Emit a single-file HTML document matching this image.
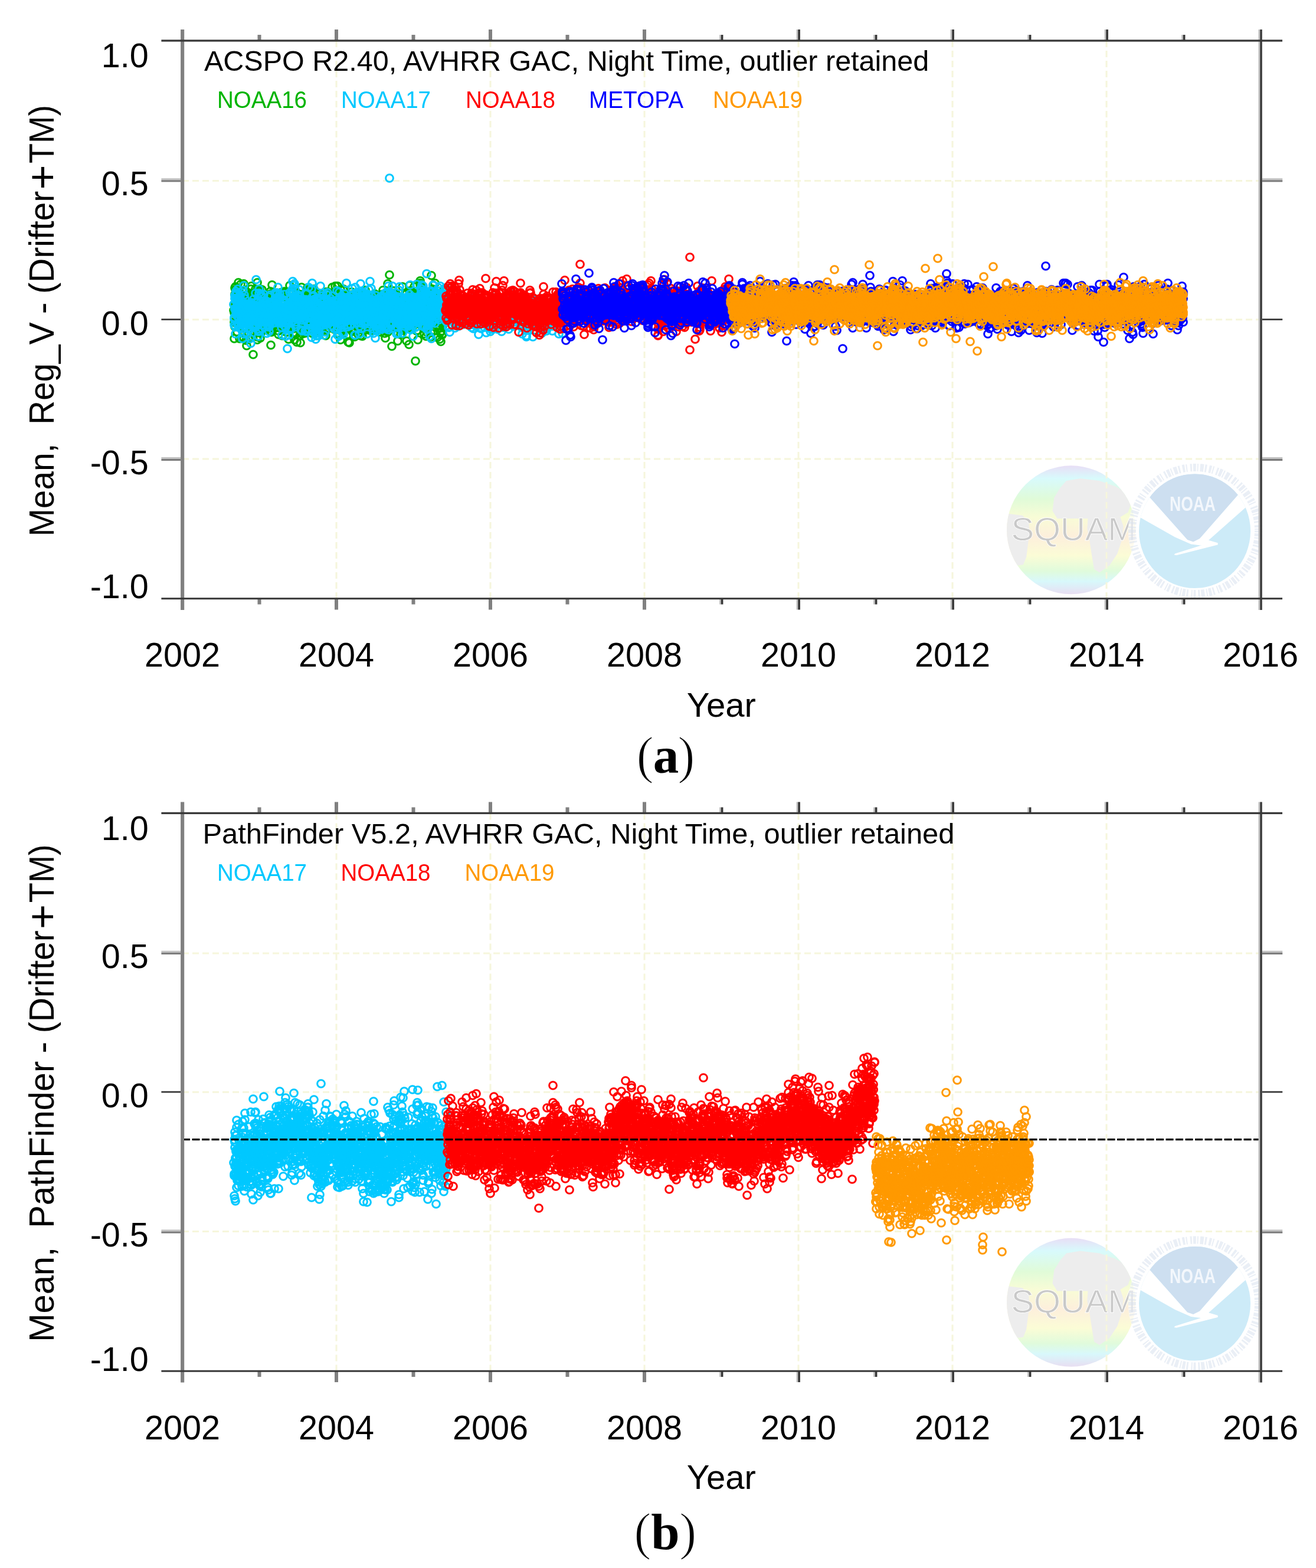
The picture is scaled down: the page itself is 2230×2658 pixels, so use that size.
<!DOCTYPE html><html><head><meta charset="utf-8"><title>SQUAM time series</title><style>html,body{margin:0;padding:0;background:#fff;overflow:hidden}svg{display:block}text{font-family:"Liberation Sans",Arial,Helvetica,sans-serif}</style></head><body>
<svg width="2230" height="2658" viewBox="0 0 2230 2658">
<defs>
<marker id="mgreen" markerUnits="userSpaceOnUse" markerWidth="20" markerHeight="20" refX="10" refY="10" overflow="visible"><circle cx="10" cy="10" r="6.35" fill="none" stroke="#00b400" stroke-width="3.0"/></marker>
<marker id="mcyan" markerUnits="userSpaceOnUse" markerWidth="20" markerHeight="20" refX="10" refY="10" overflow="visible"><circle cx="10" cy="10" r="6.35" fill="none" stroke="#00c8ff" stroke-width="3.0"/></marker>
<marker id="mred" markerUnits="userSpaceOnUse" markerWidth="20" markerHeight="20" refX="10" refY="10" overflow="visible"><circle cx="10" cy="10" r="6.35" fill="none" stroke="#ff0000" stroke-width="3.0"/></marker>
<marker id="mblue" markerUnits="userSpaceOnUse" markerWidth="20" markerHeight="20" refX="10" refY="10" overflow="visible"><circle cx="10" cy="10" r="6.35" fill="none" stroke="#0000ff" stroke-width="3.0"/></marker>
<marker id="morange" markerUnits="userSpaceOnUse" markerWidth="20" markerHeight="20" refX="10" refY="10" overflow="visible"><circle cx="10" cy="10" r="6.35" fill="none" stroke="#ff9900" stroke-width="3.0"/></marker>
<linearGradient id="gsea" x1="0" y1="0" x2="0" y2="1"><stop offset="0" stop-color="#e8def6"/><stop offset="0.1" stop-color="#d8fafc"/><stop offset="0.26" stop-color="#e0fbd8"/><stop offset="0.4" stop-color="#f8fcd6"/><stop offset="0.55" stop-color="#fdefdc"/><stop offset="0.7" stop-color="#fbfcd6"/><stop offset="0.82" stop-color="#e0fbdc"/><stop offset="0.9" stop-color="#d8f8fb"/><stop offset="1" stop-color="#e8def2"/></linearGradient>
</defs>
<rect width="2230" height="2658" fill="#fff"/>
<clipPath id="gcl0"><circle cx="1815" cy="898.3" r="109"/></clipPath>
<circle cx="1815" cy="898.3" r="109" fill="url(#gsea)"/>
<g clip-path="url(#gcl0)" fill="#ededed">
<path d="M1807.0,815.0 L1830.5,811.1 L1863.2,815.0 L1889.3,824.2 L1908.9,834.6 L1916.7,852.9 L1911.5,868.5 L1898.4,876.4 L1843.6,879.0 L1791.4,879.0 L1783.5,865.9 L1786.2,843.7 L1796.6,826.8 Z"/>
<path d="M1843.6,876.4 L1898.4,876.4 L1903.6,892.0 L1901.0,915.5 L1893.2,939.0 L1880.1,958.6 L1863.2,970.4 L1854.0,965.1 L1850.1,941.6 L1846.2,915.5 L1842.3,896.0 Z"/>
<path d="M1700.0,869.8 L1732.6,873.8 L1743.1,884.2 L1744.4,902.5 L1741.8,923.4 L1739.2,944.2 L1733.9,957.3 L1700.0,961.2 Z"/>
</g>
<text x="1713.5" y="915.8" font-size="55" fill="#c9c9c9" stroke="#ffffff" stroke-width="0.8" textLength="212" lengthAdjust="spacingAndGlyphs">SQUAM</text>
<circle cx="2025.5" cy="899.5" r="114" fill="#ffffff" fill-opacity="0.55"/>
<circle cx="2025.5" cy="899.5" r="107" fill="none" stroke="#d9e2ee" stroke-width="13" stroke-dasharray="3 2 5 2 2 3 6 2 3 4 4 2 2 5" opacity="0.55"/>
<circle cx="2025.5" cy="899.5" r="98" fill="none" stroke="#ffffff" stroke-width="3"/>
<clipPath id="ncl0"><ellipse cx="2024.5" cy="900.2" rx="94.5" ry="96.8"/></clipPath>
<ellipse cx="2024.5" cy="900.2" rx="94.5" ry="96.8" fill="#cdebf8"/>
<g clip-path="url(#ncl0)">
<path d="M1900.0,780.0 L2150.0,780.0 L2150.0,836.0 L2098.7,838.0 L2033.0,913.0 L2022.0,918.5 L2012.0,915.0 L1945.4,840.0 L1900.0,838.0 Z" fill="#cddff0"/>
<path d="M1900.0,836.0 L1945.4,840.0 L2012.0,915.0 L2022.0,918.5 L2033.0,913.0 L2098.7,838.0 L2150.0,830.0 L2150.0,851.0 L2118.9,853.0 L2048.0,915.7 L2063.4,920.3 L2063.4,923.6 L2035.0,924.5 L2018.3,922.5 L1991.0,910.5 L1930.9,876.6 L1900.0,874.0 Z" fill="#ffffff"/>
<path d="M2063.4,920.3 L2063.4,923.6 L1993.5,941.3 L1989.6,940.5 L1991.0,938.6 L2040.0,923.0 Z" fill="#ffffff"/>
</g>
<text x="2021" y="865.8" font-size="35" font-weight="bold" fill="#f3f7fc" text-anchor="middle" textLength="78" lengthAdjust="spacingAndGlyphs">NOAA</text>
<line x1="570.0" y1="69" x2="570.0" y2="1014.5" stroke="#f6f6dc" stroke-width="3" stroke-dasharray="11 6" fill="none"/>
<line x1="831.0" y1="69" x2="831.0" y2="1014.5" stroke="#f6f6dc" stroke-width="3" stroke-dasharray="11 6" fill="none"/>
<line x1="1092.0" y1="69" x2="1092.0" y2="1014.5" stroke="#f6f6dc" stroke-width="3" stroke-dasharray="11 6" fill="none"/>
<line x1="1353.0" y1="69" x2="1353.0" y2="1014.5" stroke="#f6f6dc" stroke-width="3" stroke-dasharray="11 6" fill="none"/>
<line x1="1614.0" y1="69" x2="1614.0" y2="1014.5" stroke="#f6f6dc" stroke-width="3" stroke-dasharray="11 6" fill="none"/>
<line x1="1875.0" y1="69" x2="1875.0" y2="1014.5" stroke="#f6f6dc" stroke-width="3" stroke-dasharray="11 6" fill="none"/>
<line x1="309" y1="306.6" x2="2136" y2="306.6" stroke="#f6f6dc" stroke-width="3" stroke-dasharray="11 6" fill="none"/>
<line x1="309" y1="541.8" x2="2136" y2="541.8" stroke="#f6f6dc" stroke-width="3" stroke-dasharray="11 6" fill="none"/>
<line x1="309" y1="778.1" x2="2136" y2="778.1" stroke="#f6f6dc" stroke-width="3" stroke-dasharray="11 6" fill="none"/>
<polyline fill="none" stroke="none" marker-start="url(#mgreen)" marker-mid="url(#mgreen)" marker-end="url(#mgreen)" points="396,526 397,574 397,530 397,546 398,554 398,540 398,499 398,488 399,526 399,491 399,516 399,486 400,524 400,513 400,548 400,509 401,516 401,504 401,497 402,537 402,522 402,563 402,544 403,550 403,515 403,517 403,519 404,519 404,479 404,500 404,533 405,494 405,497 405,512 406,574 406,544 406,516 406,531 407,553 407,519 407,540 407,513 408,509 408,482 408,532 408,501 409,545 409,510 409,517 410,515 410,517 410,527 410,506 411,503 411,493 411,511 411,514 412,543 412,555 412,520 413,481 413,528 413,539 413,573 414,510 414,544 414,538 414,521 415,558 415,492 415,504 415,510 416,528 416,546 416,530 417,507 417,577 417,542 417,506 418,521 418,540 418,540 418,586 419,532 419,517 419,504 419,547 420,549 420,509 420,523 421,548 421,575 421,498 421,501 422,543 422,528 422,532 422,527 423,498 423,525 423,539 423,530 424,532 424,521 424,533 425,542 425,490 425,514 425,510 426,485 426,529 426,527 426,518 427,539 427,503 427,503 428,509 428,561 428,533 428,536 429,502 429,536 429,511 429,517 430,516 430,499 430,566 430,522 431,531 431,531 431,502 432,540 432,543 432,504 432,564 433,502 433,551 433,490 433,539 434,508 434,519 434,526 434,514 435,528 435,504 435,514 436,563 436,576 436,479 436,571 437,525 437,538 437,544 437,551 438,495 438,523 438,559 439,518 439,523 439,493 439,529 440,562 440,495 440,490 440,492 441,518 441,573 441,559 441,546 442,532 442,547 442,528 443,563 443,544 443,551 443,537 444,559 444,491 444,555 444,548 445,529 445,550 445,515 445,512 446,508 446,544 446,543 447,535 447,535 447,530 447,527 448,529 448,544 448,509 448,508 449,517 449,524 449,522 449,503 450,543 450,555 450,535 451,532 451,535 451,536 451,540 452,527 452,550 452,556 452,537 453,522 453,529 453,550 454,525 454,534 454,513 454,538 455,531 455,515 455,528 455,528 456,530 456,545 456,515 456,557 457,541 457,552 457,526 458,494 458,562 458,525 458,536 459,498 459,585 459,554 459,520 460,527 460,519 460,563 460,532 461,538 461,483 461,515 462,516 462,536 462,499 462,527 463,519 463,543 463,505 463,505 464,546 464,543 464,523 464,537 465,551 465,536 465,525 466,541 466,548 466,533 466,543 467,544 467,524 467,505 467,506 468,528 468,542 468,538 469,527 469,517 469,534 469,527 470,520 470,547 470,529 470,528 471,514 471,525 471,542 471,555 472,549 472,567 472,561 473,545 473,538 473,518 473,536 474,535 474,527 474,546 474,553 475,544 475,548 475,497 475,499 476,531 476,521 476,496 477,497 477,503 477,501 477,500 478,551 478,569 478,548 478,522 479,554 479,543 479,530 480,527 480,551 480,535 480,510 481,510 481,526 481,532 481,496 482,494 482,549 482,538 482,542 483,522 483,530 483,538 484,497 484,523 484,546 484,527 485,525 485,495 485,563 485,527 486,520 486,502 486,527 486,506 487,504 487,552 487,532 488,532 488,522 488,555 488,525 489,534 489,523 489,575 489,525 490,524 490,554 490,536 490,517 491,484 491,540 491,528 492,544 492,519 492,556 492,544 493,536 493,529 493,536 493,536 494,540 494,506 494,521 495,552 495,517 495,516 495,499 496,493 496,525 496,498 496,515 497,518 497,538 497,528 497,533 498,566 498,535 498,557 499,521 499,576 499,530 499,564 500,551 500,536 500,519 500,546 501,528 501,567 501,524 501,508 502,520 502,495 502,503 503,498 503,522 503,525 503,580 504,552 504,548 504,513 504,542 505,554 505,536 505,551 505,555 506,556 506,517 506,509 507,540 507,525 507,514 507,536 508,519 508,555 508,569 508,543 509,581 509,528 509,554 510,526 510,511 510,550 510,521 511,487 511,541 511,533 511,544 512,566 512,562 512,519 512,529 513,543 513,503 513,544 514,532 514,515 514,542 514,551 515,540 515,555 515,533 515,524 516,537 516,565 516,531 516,548 517,530 517,519 517,497 518,500 518,548 518,522 518,533 519,518 519,494 519,521 519,527 520,539 520,543 520,529 521,511 521,488 521,508 521,526 522,522 522,509 522,495 522,491 523,550 523,558 523,509 523,508 524,498 524,492 524,533 525,502 525,541 525,500 525,530 526,533 526,554 526,498 526,512 527,519 527,553 527,541 527,504 528,529 528,520 528,521 529,533 529,503 529,565 529,495 530,493 530,514 530,510 530,527 531,492 531,536 531,539 531,509 532,528 532,524 532,490 533,564 533,512 533,547 533,521 534,517 534,522 534,555 534,525 535,516 535,496 535,531 536,561 536,551 536,558 536,513 537,520 537,569 537,546 537,503 538,549 538,526 538,543 538,534 539,547 539,561 539,550 540,520 540,497 540,527 540,512 541,510 541,542 541,543 541,511 542,517 542,503 542,563 542,536 543,537 543,515 543,536 544,531 544,507 544,515 544,539 545,509 545,521 545,501 545,551 546,537 546,550 546,561 546,555 547,529 547,516 547,544 548,539 548,508 548,537 548,544 549,520 549,545 549,524 549,539 550,528 550,533 550,538 551,528 551,495 551,513 551,526 552,504 552,569 552,528 552,544 553,551 553,542 553,531 553,560 554,524 554,556 554,518 555,518 555,495 555,522 555,533 556,535 556,511 556,510 556,546 557,552 557,507 557,512 557,545 558,496 558,508 558,520 559,521 559,504 559,517 559,520 560,504 560,542 560,519 560,519 561,500 561,515 561,509 562,505 562,499 562,542 562,531 563,529 563,487 563,507 563,519 564,518 564,531 564,504 564,533 565,514 565,524 565,551 566,514 566,531 566,542 566,558 567,519 567,519 567,547 567,497 568,515 568,509 568,499 568,485 569,543 569,555 569,501 570,528 570,519 570,515 570,498 571,539 571,533 571,559 571,518 572,521 572,514 572,485 572,541 573,557 573,554 573,525 574,567 574,556 574,527 574,555 575,545 575,547 575,519 575,547 576,520 576,548 576,532 577,544 577,514 577,576 577,491 578,527 578,555 578,543 578,534 579,523 579,538 579,504 579,528 580,542 580,532 580,513 581,556 581,541 581,508 581,526 582,531 582,490 582,492 582,550 583,558 583,519 583,511 583,532 584,515 584,536 584,510 585,555 585,530 585,519 585,531 586,530 586,531 586,517 586,549 587,513 587,569 587,508 587,522 588,512 588,502 588,519 589,500 589,516 589,530 589,508 590,505 590,567 590,532 590,580 591,536 591,536 591,541 592,509 592,504 592,514 592,581 593,500 593,543 593,504 593,531 594,538 594,537 594,500 594,538 595,552 595,515 595,550 596,514 596,552 596,514 596,495 597,508 597,543 597,562 597,540 598,561 598,500 598,506 598,561 599,535 599,519 599,514 600,556 600,534 600,557 600,542 601,520 601,571 601,536 601,521 602,569 602,547 602,505 603,538 603,517 603,522 603,512 604,514 604,530 604,545 604,518 605,550 605,545 605,539 605,536 606,555 606,539 606,515 607,565 607,567 607,538 607,534 608,525 608,530 608,544 608,501 609,528 609,539 609,523 609,526 610,535 610,525 610,538 611,540 611,510 611,569 611,546 612,550 612,525 612,557 612,534 613,527 613,516 613,512 613,530 614,549 614,545 614,570 615,517 615,557 615,547 615,549 616,499 616,546 616,542 616,502 617,519 617,543 617,510 618,532 618,511 618,500 618,543 619,549 619,542 619,519 619,492 620,516 620,513 620,536 620,519 621,516 621,559 621,531 622,531 622,518 622,506 622,524 623,507 623,512 623,512 623,536 624,536 624,533 624,540 624,524 625,543 625,517 625,533 626,558 626,511 626,507 626,514 627,551 627,560 627,542 627,549 628,516 628,546 628,545 628,523 629,540 629,560 629,532 630,541 630,528 630,529 630,531 631,549 631,546 631,526 631,553 632,502 632,526 632,518 633,540 633,532 633,531 633,549 634,543 634,502 634,542 634,517 635,498 635,521 635,512 635,529 636,530 636,501 636,527 637,558 637,544 637,531 637,514 638,540 638,501 638,560 638,537 639,522 639,528 639,537 639,505 640,547 640,551 640,525 641,544 641,511 641,510 641,516 642,503 642,536 642,509 642,524 643,540 643,550 643,510 644,559 644,510 644,521 644,506 645,541 645,563 645,528 645,528 646,522 646,533 646,537 646,533 647,522 647,553 647,533 648,528 648,499 648,539 648,546 649,492 649,517 649,507 649,538 650,555 650,529 650,518 650,517 651,513 651,552 651,532 652,565 652,552 652,540 652,538 653,513 653,523 653,513 653,573 654,538 654,561 654,525 654,551 655,538 655,527 655,542 656,555 656,544 656,554 656,543 657,538 657,514 657,563 657,481 658,536 658,530 658,546 659,533 659,533 659,539 659,506 660,526 660,516 660,532 660,466 661,533 661,508 661,505 661,548 662,541 662,547 662,522 663,524 663,513 663,549 663,535 664,544 664,529 664,587 664,497 665,542 665,512 665,549 665,527 666,544 666,540 666,503 667,493 667,547 667,532 667,554 668,499 668,510 668,508 668,543 669,516 669,527 669,532 669,519 670,511 670,504 670,515 671,498 671,520 671,527 671,518 672,527 672,529 672,506 672,512 673,528 673,538 673,525 674,520 674,540 674,556 674,578 675,506 675,542 675,544 675,520 676,507 676,557 676,512 676,520 677,523 677,548 677,543 678,533 678,539 678,545 678,521 679,528 679,546 679,567 679,542 680,535 680,556 680,546 680,551 681,526 681,560 681,511 682,534 682,521 682,486 682,523 683,557 683,514 683,534 683,560 684,557 684,538 684,542 684,510 685,553 685,527 685,530 686,553 686,531 686,544 686,537 687,536 687,522 687,528 687,497 688,541 688,556 688,525 689,578 689,512 689,498 689,511 690,525 690,540 690,523 690,551 691,529 691,533 691,522 691,551 692,520 692,537 692,549 693,543 693,523 693,517 693,584 694,537 694,494 694,484 694,513 695,528 695,538 695,493 695,528 696,515 696,556 696,540 697,493 697,504 697,515 697,552 698,512 698,513 698,507 698,553 699,554 699,525 699,524 700,526 700,533 700,543 700,524 701,548 701,534 701,515 701,545 702,534 702,486 702,549 702,541 703,531 703,511 703,522 704,510 704,548 704,545 704,542 705,531 705,529 705,517 705,544 706,527 706,513 706,561 706,523 707,531 707,544 707,545 708,576 708,560 708,530 708,539 709,504 709,540 709,538 709,507 710,533 710,514 710,540 710,544 711,496 711,504 711,548 712,538 712,483 712,476 712,480 713,523 713,521 713,508 713,496 714,521 714,527 714,524 715,521 715,509 715,486 715,501 716,521 716,512 716,523 716,510 717,537 717,496 717,509 717,527 718,521 718,517 718,517 719,520 719,526 719,514 719,566 720,519 720,539 720,534 720,517 721,531 721,555 721,499 721,514 722,570 722,536 722,525 723,522 723,563 723,523 723,534 724,502 724,545 724,526 724,517 725,539 725,504 725,529 725,525 726,515 726,545 726,525 727,549 727,555 727,536 727,537 728,526 728,512 728,525 728,538 729,517 729,541 729,527 730,502 730,530 730,564 730,571 731,505 731,509 731,467 731,514 732,529 732,521 732,550 732,507 733,490 733,501 733,528 734,525 734,504 734,528 734,507 735,536 735,495 735,501 735,494 736,508 736,544 736,515 736,518 737,523 737,518 737,480 738,513 738,496 738,507 738,527 739,515 739,532 739,507 739,539 740,547 740,529 740,524 741,541 741,541 741,572 741,532 742,541 742,523 742,537 742,529 743,531 743,557 743,546 743,524 744,539 744,505 744,539 745,546 745,556 745,575 745,552 746,544 746,564 746,502 746,518 747,579 747,547 747,511 747,510 748,520 748,527 748,513 749,525 749,568 749,542 749,561 750,535 750,510 750,553 750,566 751,523 751,528 751,539 751,530 752,503 752,523 752,491 753,540 753,513 753,543 753,511 754,505 754,533 754,520 754,523 755,494 755,524 755,535 704,612 429,601"/>
<polyline fill="none" stroke="none" marker-start="url(#mcyan)" marker-mid="url(#mcyan)" marker-end="url(#mcyan)" points="396,516 397,551 397,538 397,541 398,523 398,506 398,501 398,524 399,554 399,566 399,509 399,525 400,530 400,507 400,510 400,494 401,497 401,499 401,522 402,531 402,536 402,524 402,520 403,551 403,519 403,508 403,490 404,528 404,530 404,537 404,505 405,551 405,504 405,539 406,520 406,501 406,524 406,518 407,535 407,555 407,502 407,529 408,523 408,532 408,523 408,527 409,518 409,544 409,539 410,524 410,535 410,531 410,543 411,530 411,543 411,574 411,557 412,534 412,492 412,548 413,566 413,515 413,484 413,536 414,531 414,528 414,500 414,553 415,506 415,521 415,529 415,530 416,519 416,515 416,553 417,533 417,515 417,549 417,516 418,517 418,527 418,548 418,544 419,533 419,516 419,567 419,531 420,518 420,527 420,528 421,528 421,524 421,532 421,540 422,532 422,523 422,559 422,537 423,545 423,558 423,515 423,539 424,574 424,514 424,525 425,582 425,528 425,528 425,532 426,517 426,542 426,513 426,543 427,522 427,525 427,514 428,524 428,541 428,521 428,535 429,527 429,552 429,518 429,555 430,549 430,537 430,507 430,524 431,530 431,523 431,540 432,530 432,519 432,532 432,553 433,497 433,522 433,555 433,542 434,474 434,512 434,539 434,550 435,546 435,531 435,513 436,510 436,521 436,519 436,519 437,525 437,512 437,530 437,519 438,570 438,562 438,522 439,532 439,549 439,497 439,490 440,525 440,528 440,546 440,561 441,533 441,537 441,525 441,529 442,534 442,526 442,499 443,539 443,524 443,503 443,525 444,536 444,540 444,557 444,551 445,519 445,542 445,511 445,517 446,527 446,516 446,537 447,499 447,537 447,517 447,533 448,535 448,546 448,528 448,546 449,512 449,525 449,517 449,532 450,527 450,530 450,540 451,527 451,546 451,538 451,513 452,547 452,565 452,527 452,511 453,550 453,538 453,535 454,521 454,554 454,538 454,537 455,503 455,530 455,537 455,543 456,551 456,562 456,554 456,543 457,538 457,547 457,522 458,536 458,534 458,500 458,540 459,527 459,513 459,545 459,541 460,530 460,531 460,530 460,535 461,524 461,538 461,543 462,530 462,520 462,548 462,531 463,538 463,543 463,541 463,531 464,528 464,525 464,536 464,524 465,521 465,524 465,543 466,507 466,507 466,519 466,497 467,530 467,512 467,532 467,547 468,515 468,523 468,521 469,499 469,496 469,516 469,512 470,506 470,519 470,541 470,521 471,529 471,487 471,538 471,514 472,506 472,535 472,503 473,506 473,503 473,503 473,519 474,537 474,498 474,506 474,545 475,548 475,539 475,534 475,542 476,545 476,544 476,529 477,525 477,546 477,526 477,555 478,568 478,536 478,543 478,548 479,540 479,517 479,510 480,535 480,535 480,508 480,526 481,539 481,541 481,542 481,535 482,538 482,552 482,514 482,499 483,534 483,547 483,522 484,570 484,555 484,544 484,522 485,519 485,530 485,518 485,547 486,543 486,533 486,519 486,533 487,517 487,591 487,536 488,528 488,549 488,520 488,537 489,543 489,521 489,539 489,521 490,568 490,534 490,520 490,559 491,496 491,531 491,506 492,534 492,533 492,517 492,524 493,558 493,512 493,540 493,505 494,511 494,520 494,514 495,532 495,496 495,516 495,491 496,477 496,540 496,544 496,532 497,537 497,507 497,537 497,498 498,524 498,484 498,514 499,513 499,481 499,503 499,508 500,503 500,534 500,550 500,490 501,533 501,525 501,546 501,514 502,554 502,522 502,512 503,508 503,505 503,529 503,513 504,534 504,507 504,500 504,519 505,500 505,517 505,530 505,523 506,529 506,537 506,539 507,491 507,536 507,530 507,509 508,539 508,531 508,517 508,534 509,527 509,536 509,532 510,540 510,559 510,510 510,528 511,530 511,538 511,530 511,529 512,561 512,512 512,528 512,543 513,533 513,531 513,518 514,531 514,509 514,530 514,509 515,527 515,528 515,514 515,518 516,524 516,522 516,535 516,541 517,508 517,523 517,561 518,523 518,534 518,515 518,529 519,508 519,519 519,562 519,497 520,517 520,518 520,498 521,537 521,526 521,545 521,509 522,516 522,522 522,551 522,557 523,515 523,487 523,515 523,520 524,523 524,551 524,508 525,535 525,536 525,529 525,539 526,550 526,538 526,530 526,547 527,538 527,509 527,517 527,537 528,535 528,490 528,572 529,480 529,509 529,526 529,529 530,532 530,531 530,524 530,503 531,509 531,526 531,501 531,529 532,509 532,527 532,509 533,551 533,540 533,507 533,536 534,519 534,521 534,521 534,566 535,556 535,575 535,537 536,569 536,524 536,560 536,553 537,531 537,506 537,524 537,538 538,505 538,535 538,541 538,547 539,537 539,515 539,544 540,528 540,553 540,532 540,569 541,534 541,522 541,564 541,545 542,552 542,534 542,521 542,541 543,553 543,485 543,535 544,531 544,526 544,506 544,540 545,524 545,527 545,513 545,540 546,535 546,546 546,512 546,528 547,501 547,546 547,497 548,551 548,536 548,517 548,545 549,525 549,509 549,568 549,548 550,509 550,529 550,525 551,521 551,563 551,521 551,525 552,549 552,523 552,516 552,538 553,539 553,523 553,519 553,499 554,546 554,548 554,539 555,509 555,516 555,496 555,549 556,542 556,532 556,511 556,548 557,530 557,530 557,531 557,531 558,517 558,515 558,539 559,515 559,516 559,526 559,546 560,514 560,539 560,540 560,506 561,511 561,524 561,522 562,510 562,522 562,513 562,543 563,552 563,525 563,528 563,543 564,515 564,540 564,516 564,502 565,538 565,530 565,533 566,557 566,528 566,537 566,534 567,546 567,545 567,522 567,545 568,575 568,530 568,529 568,525 569,545 569,546 569,531 570,527 570,539 570,521 570,513 571,493 571,525 571,516 571,558 572,542 572,553 572,558 572,568 573,508 573,508 573,530 574,544 574,539 574,519 574,570 575,549 575,533 575,544 575,495 576,533 576,518 576,524 577,548 577,543 577,549 577,515 578,523 578,525 578,529 578,548 579,542 579,551 579,506 579,502 580,510 580,538 580,564 581,504 581,523 581,528 581,528 582,506 582,526 582,520 582,567 583,521 583,537 583,516 583,510 584,498 584,530 584,517 585,508 585,529 585,515 585,531 586,545 586,507 586,536 586,532 587,521 587,531 587,539 587,480 588,508 588,533 588,516 589,554 589,551 589,504 589,508 590,523 590,527 590,515 590,524 591,504 591,507 591,538 592,513 592,527 592,530 592,538 593,522 593,537 593,525 593,522 594,550 594,552 594,511 594,534 595,516 595,530 595,514 596,529 596,523 596,524 596,510 597,501 597,489 597,543 597,500 598,539 598,525 598,527 598,510 599,506 599,529 599,510 600,527 600,522 600,542 600,533 601,536 601,568 601,525 601,516 602,568 602,531 602,487 603,506 603,536 603,508 603,517 604,496 604,529 604,547 604,520 605,524 605,542 605,536 605,511 606,516 606,509 606,495 607,524 607,537 607,540 607,512 608,506 608,522 608,520 608,538 609,566 609,553 609,523 609,519 610,538 610,518 610,497 611,508 611,515 611,481 611,534 612,520 612,506 612,557 612,548 613,530 613,497 613,519 613,532 614,522 614,535 614,529 615,535 615,495 615,517 615,514 616,504 616,532 616,533 616,517 617,513 617,529 617,519 618,526 618,550 618,539 618,521 619,501 619,535 619,538 619,507 620,522 620,500 620,534 620,510 621,522 621,547 621,518 622,523 622,526 622,504 622,566 623,545 623,517 623,535 623,521 624,532 624,499 624,537 624,507 625,506 625,514 625,491 626,527 626,530 626,520 626,541 627,477 627,525 627,524 627,539 628,550 628,507 628,520 628,524 629,489 629,517 629,507 630,547 630,502 630,538 630,531 631,526 631,547 631,536 631,524 632,545 632,516 632,511 633,558 633,532 633,565 633,536 634,536 634,509 634,525 634,519 635,512 635,526 635,533 635,512 636,573 636,552 636,543 637,501 637,526 637,549 637,553 638,558 638,531 638,548 638,537 639,541 639,537 639,561 639,522 640,546 640,511 640,528 641,507 641,523 641,540 641,546 642,554 642,535 642,520 642,509 643,514 643,512 643,547 644,542 644,531 644,530 644,520 645,520 645,520 645,527 645,503 646,510 646,539 646,557 646,506 647,558 647,514 647,558 648,517 648,535 648,524 648,510 649,533 649,503 649,527 649,542 650,550 650,538 650,505 650,532 651,518 651,498 651,555 652,539 652,534 652,525 652,517 653,553 653,524 653,548 653,529 654,556 654,548 654,508 654,526 655,518 655,536 655,495 656,530 656,540 656,523 656,497 657,541 657,532 657,556 657,532 658,512 658,559 658,485 659,500 659,539 659,529 659,515 660,521 660,514 660,530 660,547 661,515 661,512 661,522 661,522 662,500 662,519 662,535 663,505 663,500 663,505 663,552 664,549 664,508 664,536 664,499 665,521 665,485 665,524 665,528 666,529 666,525 666,529 667,516 667,519 667,522 667,507 668,507 668,501 668,514 668,516 669,538 669,529 669,527 669,537 670,532 670,514 670,538 671,541 671,538 671,546 671,553 672,566 672,541 672,509 672,530 673,555 673,503 673,542 674,541 674,535 674,516 674,543 675,504 675,514 675,565 675,537 676,521 676,492 676,516 676,538 677,550 677,550 677,486 678,542 678,513 678,517 678,505 679,530 679,523 679,540 679,548 680,532 680,540 680,503 680,516 681,550 681,523 681,506 682,537 682,565 682,531 682,533 683,536 683,520 683,532 683,532 684,545 684,524 684,508 684,511 685,507 685,531 685,534 686,548 686,512 686,541 686,520 687,547 687,519 687,540 687,539 688,537 688,543 688,537 689,540 689,508 689,531 689,532 690,533 690,520 690,549 690,523 691,535 691,503 691,534 691,538 692,553 692,520 692,544 693,550 693,558 693,551 693,524 694,540 694,504 694,499 694,532 695,534 695,508 695,483 695,510 696,505 696,559 696,543 697,523 697,532 697,530 697,520 698,532 698,515 698,503 698,519 699,529 699,544 699,539 700,524 700,534 700,505 700,570 701,546 701,508 701,550 701,546 702,534 702,525 702,530 702,535 703,508 703,504 703,506 704,555 704,525 704,536 704,542 705,517 705,540 705,532 705,507 706,517 706,533 706,508 706,482 707,534 707,534 707,553 708,526 708,514 708,547 708,519 709,533 709,538 709,509 709,545 710,504 710,524 710,539 710,539 711,539 711,529 711,518 712,523 712,511 712,539 712,509 713,519 713,498 713,508 713,489 714,525 714,493 714,521 715,497 715,507 715,544 715,483 716,502 716,533 716,531 716,553 717,485 717,524 717,510 717,536 718,511 718,499 718,500 719,518 719,529 719,518 719,529 720,544 720,555 720,520 720,499 721,518 721,515 721,520 721,545 722,498 722,535 722,494 723,539 723,558 723,464 723,546 724,502 724,530 724,539 724,520 725,514 725,546 725,527 725,552 726,537 726,550 726,557 727,542 727,534 727,547 727,538 728,543 728,548 728,570 728,542 729,500 729,512 729,494 730,540 730,516 730,535 730,518 731,535 731,506 731,503 731,574 732,494 732,495 732,547 732,522 733,543 733,527 733,509 734,524 734,525 734,483 734,484 735,533 735,534 735,506 735,506 736,510 736,498 736,522 736,541 737,548 737,513 737,522 738,536 738,521 738,511 738,511 739,537 739,537 739,515 739,518 740,499 740,523 740,526 741,514 741,520 741,499 741,524 742,509 742,509 742,539 742,510 743,521 743,523 743,488 743,519 744,518 744,542 744,499 745,521 745,528 745,506 745,493 746,520 746,485 746,513 746,526 747,507 747,535 747,505 747,518 748,533 748,528 748,531 749,508 749,531 749,506 749,510 750,517 750,499 750,524 750,504 751,526 751,513 751,532 751,522 752,516 752,518 752,540 753,527 753,507 753,521 753,502 754,532 754,507 754,493 754,498 755,488 755,521 755,535 755,528 756,527 756,545 757,544 757,546 757,534 758,534 758,528 759,538 759,545 760,542 760,555 760,532 761,555 761,554 762,539 762,563 763,534 763,522 763,531 764,531 764,534 765,540 765,538 766,551 766,532 766,528 767,515 767,544 768,532 768,528 769,539 769,539 769,538 770,538 770,514 771,556 771,549 772,551 772,530 772,525 773,546 773,522 774,547 774,517 775,534 775,522 775,549 776,521 776,529 777,538 777,553 778,523 778,526 778,539 779,521 779,521 780,522 780,546 781,524 781,529 781,541 782,531 782,537 783,517 783,533 784,527 784,520 784,509 785,525 785,550 786,512 786,527 787,515 787,528 787,534 788,549 788,529 789,519 789,536 790,537 790,539 790,530 791,526 791,519 792,534 792,527 793,545 793,521 793,533 794,551 794,543 795,533 795,517 796,531 796,513 796,528 797,544 797,543 798,514 798,547 799,547 799,550 799,555 800,527 800,525 801,550 801,516 802,523 802,541 802,557 803,543 803,541 804,526 804,538 805,519 805,501 805,542 806,540 806,517 807,507 807,553 808,535 808,547 808,523 809,525 809,539 810,526 810,516 811,567 811,551 811,540 812,532 812,526 813,527 813,507 814,528 814,539 814,540 815,557 815,534 816,523 816,545 817,519 817,547 817,523 818,536 818,513 819,528 819,530 820,536 820,549 820,543 821,547 821,555 822,517 822,520 823,527 823,524 823,547 824,564 824,523 825,523 825,521 826,519 826,522 826,542 827,523 827,523 828,511 828,524 829,530 829,531 829,546 830,540 830,525 831,562 831,548 832,527 832,547 832,558 833,530 833,531 834,533 834,535 835,558 835,504 835,548 836,546 836,529 837,526 837,532 838,531 838,522 838,527 839,540 839,529 840,527 840,528 841,534 841,548 841,528 842,526 842,532 843,558 843,534 844,518 844,532 844,544 845,532 845,540 846,540 846,524 847,526 847,538 847,507 848,516 848,551 849,531 849,532 850,562 850,544 850,516 851,531 851,527 852,529 852,532 853,539 853,549 853,555 854,545 854,524 855,524 855,517 856,535 856,546 856,518 857,520 857,526 858,527 858,538 859,510 859,553 859,536 860,521 860,528 861,510 861,525 862,540 862,541 862,558 863,514 863,530 864,523 864,547 865,543 865,524 865,539 866,533 866,515 867,528 867,528 868,529 868,536 868,521 869,527 869,499 870,508 870,553 871,537 871,543 872,515 872,533 872,546 873,535 873,517 874,519 874,526 875,523 875,540 875,528 876,524 876,535 877,522 877,538 878,512 878,532 878,537 879,541 879,531 880,521 880,524 881,538 881,527 881,543 882,528 882,524 883,531 883,544 884,555 884,536 884,543 885,566 885,554 886,546 886,539 887,541 887,522 887,553 888,519 888,544 889,533 889,544 890,536 890,558 890,522 891,546 891,541 892,569 892,571 893,549 893,531 893,537 894,546 894,560 895,524 895,546 896,526 896,527 896,519 897,554 897,554 898,542 898,544 899,524 899,529 899,523 900,527 900,523 901,518 901,523 902,530 902,509 902,530 903,571 903,550 904,519 904,529 905,533 905,544 905,525 906,518 906,527 907,543 907,531 908,529 908,544 908,547 909,545 909,508 910,514 910,533 911,533 911,521 911,520 912,524 912,547 913,544 913,532 914,522 914,524 914,532 915,541 915,511 916,542 916,531 917,529 917,527 917,514 918,555 918,565 919,523 919,517 920,520 920,521 920,531 921,534 921,508 922,543 922,519 923,535 923,530 923,545 924,537 924,543 925,558 925,551 926,561 926,528 926,554 927,543 927,533 928,529 928,543 929,524 929,534 929,531 930,548 930,523 931,532 931,539 932,513 932,537 932,545 933,533 933,536 934,550 934,524 935,529 935,539 935,524 936,553 936,561 937,540 937,524 938,519 938,544 938,534 939,533 939,517 940,524 940,530 941,533 941,535 941,534 942,540 942,545 943,518 943,537 944,538 944,545 944,537 945,546 945,531 946,538 946,519 947,566 947,517 947,533 948,549 948,529 949,539 949,530 950,541 950,536 950,539 951,542 951,543 952,530 952,528 953,565 953,543 953,535 954,532 954,531 955,535 660,302"/>
<polyline fill="none" stroke="none" marker-start="url(#mred)" marker-mid="url(#mred)" marker-end="url(#mred)" points="755,526 756,502 756,524 756,528 756,539 757,506 757,526 757,517 757,517 758,543 758,517 758,520 759,514 759,542 759,520 759,531 760,529 760,485 760,506 760,514 761,517 761,530 761,516 761,533 762,516 762,498 762,510 763,488 763,530 763,513 763,481 764,533 764,520 764,495 764,524 765,529 765,520 765,532 765,515 766,551 766,485 766,513 767,540 767,514 767,524 767,523 768,495 768,525 768,533 768,518 769,532 769,526 769,506 770,492 770,522 770,503 770,486 771,521 771,528 771,500 771,529 772,521 772,527 772,519 772,506 773,552 773,538 773,511 774,516 774,493 774,530 774,496 775,504 775,513 775,509 775,523 776,522 776,517 776,538 776,510 777,530 777,481 777,504 778,475 778,510 778,545 778,511 779,530 779,505 779,491 779,552 780,517 780,536 780,525 780,499 781,507 781,511 781,534 782,532 782,531 782,516 782,521 783,547 783,542 783,518 783,500 784,521 784,535 784,520 785,532 785,517 785,502 785,546 786,532 786,525 786,526 786,524 787,516 787,522 787,505 787,530 788,521 788,515 788,507 789,506 789,509 789,549 789,519 790,509 790,529 790,538 790,504 791,537 791,520 791,516 791,521 792,527 792,530 792,497 793,511 793,517 793,529 793,531 794,519 794,512 794,551 794,539 795,525 795,519 795,506 796,518 796,531 796,529 796,543 797,523 797,521 797,547 797,522 798,520 798,517 798,508 798,502 799,547 799,521 799,497 800,509 800,523 800,520 800,525 801,515 801,498 801,491 801,544 802,521 802,529 802,533 802,506 803,538 803,522 803,527 804,537 804,499 804,527 804,506 805,531 805,532 805,513 805,532 806,506 806,519 806,521 806,534 807,492 807,522 807,515 808,541 808,518 808,549 808,512 809,509 809,526 809,517 809,512 810,512 810,518 810,539 811,498 811,531 811,526 811,505 812,515 812,532 812,514 812,496 813,489 813,513 813,520 813,518 814,542 814,520 814,535 815,509 815,549 815,535 815,541 816,527 816,498 816,529 816,529 817,521 817,508 817,530 817,496 818,523 818,534 818,545 819,542 819,530 819,508 819,514 820,503 820,511 820,522 820,538 821,528 821,505 821,500 821,536 822,519 822,514 822,548 823,504 823,500 823,500 823,472 824,526 824,528 824,530 824,502 825,519 825,512 825,540 826,538 826,515 826,520 826,540 827,530 827,541 827,532 827,543 828,502 828,527 828,523 828,532 829,519 829,520 829,553 830,553 830,537 830,537 830,518 831,528 831,509 831,523 831,522 832,535 832,530 832,532 832,517 833,524 833,540 833,515 834,508 834,529 834,516 834,504 835,496 835,530 835,513 835,511 836,555 836,537 836,509 837,516 837,526 837,526 837,522 838,543 838,519 838,488 838,512 839,497 839,532 839,515 839,512 840,510 840,519 840,520 841,497 841,519 841,477 841,504 842,517 842,512 842,519 842,517 843,538 843,516 843,518 843,505 844,518 844,540 844,511 845,504 845,556 845,519 845,510 846,541 846,516 846,523 846,497 847,531 847,507 847,497 847,525 848,538 848,522 848,525 849,524 849,550 849,535 849,530 850,516 850,496 850,525 850,525 851,521 851,537 851,492 852,527 852,514 852,484 852,532 853,512 853,553 853,514 853,507 854,514 854,522 854,476 854,511 855,525 855,543 855,544 856,536 856,536 856,539 856,536 857,549 857,529 857,521 857,501 858,550 858,554 858,534 858,524 859,506 859,537 859,501 860,527 860,524 860,527 860,505 861,521 861,510 861,512 861,534 862,514 862,521 862,529 862,513 863,528 863,502 863,506 864,499 864,531 864,516 864,550 865,494 865,521 865,503 865,503 866,493 866,528 866,525 867,542 867,522 867,519 867,512 868,513 868,538 868,508 868,508 869,492 869,516 869,509 869,504 870,493 870,539 870,541 871,539 871,499 871,518 871,512 872,527 872,550 872,519 872,494 873,505 873,550 873,520 873,533 874,525 874,531 874,510 875,520 875,517 875,522 875,526 876,535 876,534 876,517 876,513 877,533 877,516 877,526 878,522 878,512 878,523 878,534 879,563 879,519 879,541 879,499 880,505 880,523 880,518 880,497 881,515 881,533 881,522 882,480 882,496 882,525 882,517 883,517 883,508 883,522 883,503 884,505 884,525 884,503 884,529 885,508 885,512 885,501 886,536 886,526 886,519 886,533 887,500 887,543 887,546 887,500 888,529 888,526 888,516 888,537 889,532 889,526 889,510 890,511 890,539 890,529 890,536 891,516 891,536 891,520 891,519 892,505 892,506 892,511 893,530 893,556 893,515 893,521 894,544 894,544 894,525 894,533 895,540 895,538 895,549 895,541 896,527 896,541 896,537 897,536 897,520 897,512 897,512 898,519 898,513 898,492 898,497 899,513 899,496 899,528 899,522 900,535 900,544 900,508 901,528 901,531 901,529 901,518 902,527 902,510 902,551 902,543 903,518 903,530 903,515 903,540 904,505 904,524 904,506 905,526 905,521 905,553 905,535 906,533 906,540 906,532 906,525 907,518 907,545 907,517 908,526 908,532 908,529 908,554 909,533 909,564 909,554 909,532 910,531 910,543 910,525 910,536 911,510 911,543 911,537 912,535 912,530 912,512 912,514 913,539 913,537 913,519 913,527 914,526 914,527 914,529 914,568 915,555 915,506 915,517 916,530 916,520 916,564 916,540 917,518 917,534 917,521 917,547 918,543 918,519 918,542 919,512 919,506 919,552 919,532 920,523 920,514 920,560 920,526 921,499 921,508 921,522 921,486 922,512 922,525 922,541 923,553 923,534 923,521 923,542 924,531 924,512 924,539 924,521 925,530 925,545 925,513 925,544 926,527 926,539 926,505 927,515 927,529 927,502 927,539 928,516 928,520 928,507 928,517 929,506 929,537 929,525 929,526 930,539 930,522 930,518 931,538 931,513 931,543 931,523 932,521 932,513 932,528 932,529 933,536 933,534 933,528 934,506 934,550 934,506 934,519 935,521 935,527 935,521 935,535 936,518 936,512 936,523 936,520 937,516 937,526 937,495 938,515 938,540 938,506 938,535 939,545 939,528 939,518 939,506 940,541 940,528 940,508 940,505 941,509 941,507 941,511 942,504 942,495 942,513 942,522 943,540 943,524 943,525 943,530 944,555 944,517 944,548 944,539 945,499 945,548 945,521 946,527 946,504 946,500 946,543 947,530 947,523 947,528 947,497 948,501 948,545 948,533 949,508 949,517 949,526 949,558 950,525 950,553 950,540 950,533 951,521 951,541 951,529 951,521 952,523 952,505 952,530 953,521 953,536 953,524 953,526 954,516 954,516 954,499 954,518 955,511 955,518 955,537 955,557 956,507 956,513 956,518 957,516 957,538 957,475 957,542 958,501 958,517 958,524 958,506 959,515 959,506 959,497 960,523 960,526 960,507 960,532 961,521 961,508 961,519 961,552 962,519 962,525 962,531 962,539 963,539 963,527 963,536 964,542 964,534 964,492 964,541 965,523 965,508 965,505 965,524 966,545 966,522 966,503 966,552 967,514 967,525 967,511 968,524 968,533 968,507 968,535 969,527 969,528 969,505 969,504 970,502 970,536 970,523 970,490 971,540 971,502 971,509 972,516 972,554 972,509 972,519 973,499 973,534 973,519 973,505 974,509 974,502 974,509 975,531 975,534 975,509 975,515 976,528 976,526 976,534 976,518 977,519 977,518 977,536 977,538 978,506 978,514 978,507 979,512 979,514 979,542 979,492 980,487 980,519 980,528 980,516 981,524 981,493 981,526 981,503 982,531 982,542 982,526 983,480 983,501 983,513 983,448 984,522 984,517 984,489 984,516 985,552 985,529 985,519 985,535 986,527 986,502 986,530 987,526 987,525 987,511 987,517 988,494 988,531 988,516 988,521 989,508 989,553 989,537 990,526 990,533 990,567 990,542 991,520 991,509 991,541 991,522 992,538 992,530 992,543 992,536 993,500 993,528 993,532 994,508 994,522 994,506 994,518 995,514 995,531 995,511 995,509 996,499 996,499 996,523 996,500 997,525 997,511 997,506 998,520 998,515 998,515 998,513 999,528 999,505 999,537 999,544 1000,504 1000,521 1000,532 1000,556 1001,505 1001,544 1001,535 1002,505 1002,496 1002,543 1002,521 1003,508 1003,546 1003,543 1003,550 1004,521 1004,515 1004,508 1005,496 1005,536 1005,541 1005,513 1006,496 1006,543 1006,559 1006,536 1007,504 1007,554 1007,521 1007,517 1008,543 1008,524 1008,535 1009,549 1009,536 1009,508 1009,522 1010,512 1010,520 1010,539 1010,524 1011,537 1011,539 1011,540 1011,527 1012,534 1012,535 1012,508 1013,538 1013,511 1013,512 1013,512 1014,514 1014,489 1014,532 1014,535 1015,517 1015,539 1015,497 1016,523 1016,508 1016,514 1016,495 1017,533 1017,530 1017,519 1017,524 1018,525 1018,534 1018,525 1018,504 1019,531 1019,534 1019,532 1020,499 1020,530 1020,518 1020,526 1021,512 1021,501 1021,529 1021,543 1022,533 1022,520 1022,544 1022,518 1023,528 1023,515 1023,513 1024,543 1024,508 1024,505 1024,509 1025,532 1025,536 1025,523 1025,488 1026,530 1026,517 1026,522 1026,542 1027,515 1027,513 1027,520 1028,541 1028,526 1028,538 1028,527 1029,538 1029,503 1029,520 1029,518 1030,523 1030,546 1030,516 1031,526 1031,527 1031,524 1031,531 1032,519 1032,516 1032,526 1032,555 1033,524 1033,532 1033,513 1033,533 1034,546 1034,513 1034,534 1035,540 1035,546 1035,510 1035,504 1036,532 1036,538 1036,505 1036,523 1037,523 1037,524 1037,519 1037,506 1038,515 1038,490 1038,535 1039,520 1039,516 1039,522 1039,495 1040,503 1040,506 1040,525 1040,527 1041,523 1041,488 1041,515 1041,504 1042,508 1042,516 1042,531 1043,530 1043,486 1043,523 1043,513 1044,519 1044,513 1044,515 1044,543 1045,535 1045,546 1045,550 1046,526 1046,532 1046,512 1046,490 1047,523 1047,518 1047,490 1047,547 1048,520 1048,502 1048,519 1048,502 1049,520 1049,515 1049,511 1050,532 1050,548 1050,513 1050,512 1051,511 1051,481 1051,532 1051,488 1052,529 1052,530 1052,518 1052,513 1053,519 1053,509 1053,524 1054,515 1054,534 1054,508 1054,527 1055,537 1055,538 1055,534 1055,476 1056,520 1056,511 1056,532 1057,511 1057,535 1057,522 1057,505 1058,520 1058,509 1058,539 1058,528 1059,526 1059,504 1059,496 1059,534 1060,523 1060,508 1060,519 1061,496 1061,521 1061,507 1061,517 1062,529 1062,473 1062,516 1062,497 1063,534 1063,486 1063,504 1063,520 1064,502 1064,534 1064,514 1065,524 1065,506 1065,511 1065,540 1066,515 1066,508 1066,523 1066,489 1067,502 1067,518 1067,511 1067,533 1068,515 1068,530 1068,515 1069,519 1069,532 1069,528 1069,516 1070,526 1070,522 1070,545 1070,538 1071,527 1071,535 1071,514 1072,514 1072,520 1072,511 1072,513 1073,507 1073,524 1073,535 1073,512 1074,520 1074,529 1074,517 1074,522 1075,539 1075,515 1075,528 1076,531 1076,499 1076,535 1076,529 1077,513 1077,495 1077,503 1077,512 1078,522 1078,523 1078,488 1078,523 1079,502 1079,502 1079,507 1080,504 1080,504 1080,532 1080,507 1081,504 1081,498 1081,515 1081,493 1082,508 1082,518 1082,530 1082,486 1083,516 1083,510 1083,485 1084,529 1084,506 1084,509 1084,500 1085,527 1085,518 1085,524 1085,515 1086,498 1086,516 1086,541 1087,508 1087,498 1087,540 1087,512 1088,512 1088,543 1088,520 1088,499 1089,524 1089,515 1089,507 1089,501 1090,518 1090,535 1090,513 1091,495 1091,508 1091,516 1091,518 1092,525 1092,520 1092,518 1092,508 1093,504 1093,496 1093,518 1093,517 1094,516 1094,515 1094,526 1095,530 1095,521 1095,525 1095,528 1096,491 1096,504 1096,525 1096,532 1097,522 1097,539 1097,518 1098,528 1098,483 1098,502 1098,523 1099,504 1099,509 1099,495 1099,504 1100,480 1100,534 1100,506 1100,533 1101,529 1101,517 1101,503 1102,532 1102,526 1102,507 1102,534 1103,519 1103,476 1103,495 1103,537 1104,489 1104,532 1104,523 1104,535 1105,519 1105,525 1105,496 1106,523 1106,530 1106,528 1106,513 1107,523 1107,524 1107,513 1107,533 1108,514 1108,516 1108,506 1108,540 1109,543 1109,530 1109,520 1110,538 1110,554 1110,517 1110,509 1111,501 1111,532 1111,512 1111,511 1112,511 1112,499 1112,518 1113,519 1113,517 1113,518 1113,525 1114,540 1114,521 1114,522 1114,531 1115,522 1115,568 1115,569 1115,558 1116,536 1116,519 1116,550 1117,505 1117,511 1117,543 1117,525 1118,527 1118,500 1118,523 1118,518 1119,530 1119,543 1119,497 1119,533 1120,523 1120,516 1120,553 1121,515 1121,540 1121,498 1121,537 1122,536 1122,538 1122,514 1122,545 1123,527 1123,512 1123,523 1123,511 1124,539 1124,562 1124,529 1125,532 1125,528 1125,515 1125,482 1126,516 1126,474 1126,515 1126,509 1127,522 1127,509 1127,529 1128,515 1128,526 1128,501 1128,505 1129,531 1129,524 1129,515 1129,518 1130,521 1130,511 1130,480 1130,536 1131,515 1131,506 1131,521 1132,556 1132,512 1132,551 1132,528 1133,498 1133,495 1133,507 1133,512 1134,525 1134,526 1134,520 1134,501 1135,499 1135,497 1135,519 1136,533 1136,523 1136,532 1136,506 1137,542 1137,530 1137,489 1137,520 1138,514 1138,541 1138,534 1139,512 1139,515 1139,506 1139,540 1140,493 1140,523 1140,508 1140,511 1141,500 1141,531 1141,532 1141,511 1142,505 1142,526 1142,545 1143,530 1143,549 1143,542 1143,530 1144,540 1144,517 1144,529 1144,505 1145,530 1145,499 1145,497 1145,537 1146,562 1146,502 1146,503 1147,493 1147,522 1147,534 1147,513 1148,506 1148,509 1148,517 1148,522 1149,530 1149,524 1149,523 1149,549 1150,554 1150,497 1150,510 1151,512 1151,524 1151,537 1151,509 1152,487 1152,494 1152,525 1152,522 1153,505 1153,499 1153,512 1154,532 1154,517 1154,533 1154,536 1155,506 1155,501 1155,514 1155,503 1156,524 1156,521 1156,532 1156,502 1157,553 1157,517 1157,514 1158,520 1158,510 1158,532 1158,513 1159,514 1159,497 1159,501 1159,527 1160,555 1160,526 1160,535 1160,507 1161,522 1161,530 1161,506 1162,517 1162,515 1162,506 1162,515 1163,546 1163,548 1163,487 1163,503 1164,547 1164,529 1164,525 1164,514 1165,524 1165,537 1165,522 1166,523 1166,516 1166,531 1166,541 1167,518 1167,523 1167,533 1167,517 1168,529 1168,502 1168,507 1169,527 1169,436 1169,593 1169,537 1170,521 1170,533 1170,502 1170,517 1171,521 1171,530 1171,530 1171,544 1172,527 1172,546 1172,515 1173,510 1173,533 1173,514 1173,529 1174,507 1174,514 1174,518 1174,545 1175,520 1175,514 1175,524 1175,514 1176,534 1176,532 1176,518 1177,520 1177,541 1177,509 1177,507 1178,542 1178,575 1178,526 1178,522 1179,508 1179,525 1179,533 1180,534 1180,516 1180,519 1180,522 1181,530 1181,548 1181,516 1181,519 1182,515 1182,530 1182,485 1182,502 1183,511 1183,531 1183,535 1184,500 1184,518 1184,494 1184,502 1185,561 1185,532 1185,542 1185,541 1186,544 1186,548 1186,555 1186,559 1187,532 1187,510 1187,535 1188,525 1188,532 1188,518 1188,523 1189,497 1189,515 1189,512 1189,508 1190,512 1190,503 1190,505 1190,488 1191,532 1191,517 1191,513 1192,532 1192,519 1192,501 1192,546 1193,520 1193,527 1193,537 1193,533 1194,521 1194,512 1194,527 1195,526 1195,532 1195,518 1195,533 1196,528 1196,523 1196,520 1196,519 1197,510 1197,512 1197,542 1197,495 1198,512 1198,544 1198,491 1199,502 1199,528 1199,529 1199,521 1200,530 1200,508 1200,540 1200,496 1201,498 1201,540 1201,544 1201,523 1202,527 1202,513 1202,519 1203,501 1203,527 1203,504 1203,519 1204,561 1204,542 1204,522 1204,503 1205,519 1205,526 1205,508 1205,518 1206,512 1206,521 1206,476 1207,516 1207,503 1207,511 1207,512 1208,518 1208,503 1208,533 1208,545 1209,524 1209,508 1209,528 1210,509 1210,518 1210,514 1210,520 1211,518 1211,531 1211,530 1211,509 1212,503 1212,517 1212,549 1212,522 1213,504 1213,501 1213,515 1214,533 1214,526 1214,532 1214,527 1215,536 1215,518 1215,543 1215,539 1216,522 1216,519 1216,540 1216,519 1217,523 1217,523 1217,537 1218,517 1218,519 1218,529 1218,534 1219,556 1219,521 1219,528 1219,528 1220,507 1220,528 1220,545 1221,536 1221,522 1221,548 1221,530 1222,530 1222,528 1222,541 1222,540 1223,563 1223,525 1223,509 1223,523 1224,511 1224,497 1224,552 1225,519 1225,492 1225,525 1225,527 1226,543 1226,542 1226,538 1226,522 1227,538 1227,506 1227,542 1227,493 1228,513 1228,518 1228,535 1229,486 1229,519 1229,490 1229,502 1230,508 1230,495 1230,495 1230,492 1231,516 1231,518 1231,529 1231,532 1232,528 1232,522 1232,496 1233,494 1233,500 1233,510 1233,502 1234,502 1234,519 1234,528 1234,506 1235,519 1235,473 1235,519 1236,510 1236,523 1236,517 1236,517 1237,524 1237,520 1237,489 1237,538 1238,510 1238,522"/>
<polyline fill="none" stroke="none" marker-start="url(#mblue)" marker-mid="url(#mblue)" marker-end="url(#mblue)" points="952,481 953,524 953,494 953,498 954,496 954,534 954,506 955,508 955,495 955,498 956,507 956,502 956,525 957,516 957,529 957,517 958,537 958,537 958,534 958,524 959,533 959,577 959,523 960,527 960,558 960,522 961,525 961,519 961,516 962,542 962,518 962,503 963,520 963,508 963,557 964,535 964,508 964,522 965,494 965,524 965,531 966,496 966,568 966,521 967,508 967,571 967,502 967,513 968,513 968,538 968,531 969,536 969,533 969,535 970,539 970,534 970,537 971,524 971,495 971,547 972,512 972,529 972,548 973,531 973,544 973,529 974,523 974,501 974,534 975,531 975,495 975,506 976,508 976,473 976,520 976,505 977,515 977,510 977,490 978,510 978,505 978,518 979,519 979,491 979,516 980,515 980,541 980,528 981,520 981,512 981,521 982,530 982,518 982,520 983,529 983,521 983,545 984,528 984,499 984,491 985,537 985,524 985,523 985,534 986,529 986,529 986,529 987,515 987,514 987,526 988,528 988,530 988,516 989,548 989,537 989,537 990,523 990,516 990,510 991,491 991,505 991,521 992,513 992,520 992,495 993,517 993,544 993,523 994,517 994,504 994,538 994,503 995,513 995,501 995,510 996,517 996,511 996,518 997,515 997,511 997,492 998,463 998,523 998,536 999,523 999,511 999,525 1000,538 1000,540 1000,536 1001,537 1001,534 1001,528 1002,518 1002,512 1002,501 1003,508 1003,489 1003,492 1003,487 1004,504 1004,508 1004,502 1005,540 1005,518 1005,520 1006,518 1006,512 1006,511 1007,515 1007,496 1007,523 1008,551 1008,502 1008,513 1009,518 1009,521 1009,524 1010,544 1010,511 1010,512 1011,514 1011,509 1011,529 1012,530 1012,502 1012,535 1012,501 1013,525 1013,548 1013,504 1014,493 1014,529 1014,507 1015,557 1015,537 1015,507 1016,513 1016,509 1016,522 1017,539 1017,492 1017,524 1018,522 1018,522 1018,498 1019,531 1019,509 1019,521 1020,533 1020,512 1020,522 1021,576 1021,529 1021,518 1022,525 1022,535 1022,532 1022,526 1023,526 1023,521 1023,489 1024,532 1024,515 1024,521 1025,523 1025,501 1025,525 1026,525 1026,515 1026,543 1027,534 1027,507 1027,522 1028,515 1028,523 1028,504 1029,521 1029,527 1029,524 1030,529 1030,496 1030,510 1031,516 1031,507 1031,529 1031,510 1032,511 1032,499 1032,518 1033,497 1033,507 1033,552 1034,530 1034,515 1034,534 1035,516 1035,530 1035,507 1036,506 1036,495 1036,526 1037,501 1037,524 1037,504 1038,516 1038,554 1038,532 1039,525 1039,493 1039,511 1040,479 1040,535 1040,533 1040,513 1041,486 1041,532 1041,501 1042,508 1042,521 1042,528 1043,524 1043,526 1043,505 1044,522 1044,494 1044,503 1045,510 1045,514 1045,494 1046,529 1046,517 1046,529 1047,518 1047,516 1047,532 1048,514 1048,527 1048,534 1049,536 1049,512 1049,512 1049,481 1050,540 1050,522 1050,514 1051,528 1051,514 1051,495 1052,537 1052,537 1052,506 1053,496 1053,523 1053,515 1054,501 1054,524 1054,529 1055,544 1055,517 1055,514 1056,521 1056,506 1056,521 1057,525 1057,522 1057,522 1058,556 1058,514 1058,544 1058,503 1059,523 1059,508 1059,510 1060,507 1060,519 1060,541 1061,524 1061,528 1061,522 1062,509 1062,510 1062,539 1063,537 1063,519 1063,523 1064,514 1064,514 1064,536 1065,528 1065,484 1065,523 1066,507 1066,525 1066,511 1067,502 1067,523 1067,503 1067,523 1068,522 1068,504 1068,529 1069,513 1069,540 1069,537 1070,521 1070,552 1070,529 1071,484 1071,523 1071,529 1072,516 1072,481 1072,511 1073,517 1073,497 1073,489 1074,523 1074,513 1074,511 1075,514 1075,527 1075,535 1076,524 1076,523 1076,512 1076,517 1077,491 1077,547 1077,502 1078,499 1078,521 1078,527 1079,519 1079,538 1079,505 1080,500 1080,498 1080,486 1081,515 1081,507 1081,531 1082,501 1082,523 1082,495 1083,526 1083,508 1083,516 1084,485 1084,538 1084,501 1085,512 1085,502 1085,497 1085,515 1086,505 1086,484 1086,512 1087,520 1087,485 1087,512 1088,493 1088,531 1088,494 1089,530 1089,483 1089,517 1090,526 1090,508 1090,488 1091,542 1091,494 1091,514 1092,518 1092,531 1092,544 1093,533 1093,527 1093,529 1094,525 1094,504 1094,519 1094,521 1095,515 1095,527 1095,530 1096,517 1096,531 1096,504 1097,524 1097,533 1097,547 1098,555 1098,509 1098,552 1099,526 1099,525 1099,549 1100,531 1100,537 1100,523 1101,533 1101,509 1101,534 1102,501 1102,530 1102,541 1103,509 1103,530 1103,526 1103,534 1104,495 1104,514 1104,512 1105,501 1105,537 1105,542 1106,518 1106,540 1106,526 1107,507 1107,521 1107,518 1108,503 1108,525 1108,509 1109,533 1109,517 1109,528 1110,514 1110,554 1110,564 1111,527 1111,490 1111,509 1112,529 1112,512 1112,530 1113,532 1113,519 1113,534 1113,523 1114,507 1114,514 1114,520 1115,529 1115,523 1115,531 1116,523 1116,514 1116,508 1117,511 1117,501 1117,500 1118,535 1118,517 1118,525 1119,524 1119,501 1119,491 1120,506 1120,497 1120,513 1121,514 1121,490 1121,520 1122,505 1122,534 1122,480 1122,523 1123,527 1123,528 1123,513 1124,513 1124,492 1124,474 1125,535 1125,536 1125,530 1126,505 1126,517 1126,467 1127,509 1127,520 1127,519 1128,500 1128,559 1128,490 1129,502 1129,503 1129,518 1130,540 1130,498 1130,508 1131,504 1131,510 1131,478 1131,515 1132,525 1132,509 1132,502 1133,525 1133,522 1133,530 1134,523 1134,518 1134,543 1135,528 1135,533 1135,536 1136,519 1136,539 1136,520 1137,569 1137,544 1137,545 1138,532 1138,552 1138,534 1139,511 1139,528 1139,550 1140,517 1140,542 1140,545 1140,565 1141,504 1141,519 1141,494 1142,507 1142,514 1142,514 1143,516 1143,508 1143,503 1144,508 1144,537 1144,521 1145,523 1145,509 1145,541 1146,515 1146,505 1146,510 1147,537 1147,516 1147,524 1148,519 1148,507 1148,515 1149,522 1149,511 1149,485 1149,530 1150,525 1150,508 1150,513 1151,501 1151,512 1151,528 1152,529 1152,524 1152,551 1153,540 1153,537 1153,486 1154,547 1154,506 1154,508 1155,512 1155,523 1155,530 1156,521 1156,514 1156,503 1157,523 1157,510 1157,527 1158,506 1158,508 1158,520 1158,519 1159,503 1159,513 1159,484 1160,510 1160,505 1160,527 1161,517 1161,529 1161,519 1162,518 1162,492 1162,491 1163,501 1163,518 1163,541 1164,546 1164,507 1164,538 1165,524 1165,493 1165,500 1166,515 1166,516 1166,507 1167,542 1167,531 1167,480 1167,534 1168,539 1168,529 1168,531 1169,502 1169,519 1169,519 1170,532 1170,532 1170,530 1171,512 1171,520 1171,507 1172,521 1172,515 1172,513 1173,531 1173,519 1173,537 1174,501 1174,518 1174,541 1175,523 1175,546 1175,532 1176,543 1176,526 1176,518 1176,510 1177,519 1177,535 1177,524 1178,521 1178,519 1178,529 1179,547 1179,514 1179,512 1180,499 1180,527 1180,509 1181,559 1181,537 1181,548 1182,509 1182,513 1182,527 1183,501 1183,507 1183,508 1184,509 1184,522 1184,519 1185,520 1185,533 1185,538 1185,531 1186,509 1186,531 1186,526 1187,509 1187,536 1187,530 1188,524 1188,507 1188,506 1189,518 1189,492 1189,526 1190,522 1190,503 1190,509 1191,490 1191,535 1191,478 1192,506 1192,528 1192,523 1193,505 1193,509 1193,517 1194,532 1194,509 1194,528 1195,480 1195,541 1195,512 1195,504 1196,515 1196,509 1196,502 1197,495 1197,504 1197,488 1198,507 1198,521 1198,505 1199,530 1199,515 1199,516 1200,505 1200,525 1200,505 1201,500 1201,535 1201,528 1202,554 1202,527 1202,539 1203,551 1203,508 1203,512 1204,532 1204,501 1204,509 1204,549 1205,495 1205,547 1205,520 1206,530 1206,509 1206,530 1207,528 1207,489 1207,531 1208,521 1208,524 1208,530 1209,542 1209,536 1209,517 1210,512 1210,513 1210,512 1211,546 1211,522 1211,541 1212,543 1212,516 1212,528 1213,540 1213,522 1213,524 1213,506 1214,510 1214,498 1214,503 1215,522 1215,503 1215,515 1216,529 1216,501 1216,514 1217,497 1217,527 1217,500 1218,537 1218,510 1218,526 1219,537 1219,500 1219,500 1220,508 1220,529 1220,540 1221,512 1221,520 1221,494 1222,534 1222,530 1222,543 1222,543 1223,526 1223,502 1223,534 1224,510 1224,514 1224,538 1225,556 1225,515 1225,510 1226,529 1226,527 1226,506 1227,514 1227,514 1227,530 1228,549 1228,535 1228,537 1229,519 1229,505 1229,519 1230,523 1230,533 1230,506 1231,506 1231,501 1231,502 1231,508 1232,508 1232,504 1232,511 1233,517 1233,508 1233,503 1234,514 1234,507 1234,486 1235,521 1235,486 1235,526 1236,504 1236,484 1236,532 1237,520 1237,534 1237,519 1238,512 1238,544 1238,531 1239,525 1239,527 1239,511 1240,540 1240,537 1240,524 1240,558 1241,531 1241,505 1241,549 1242,523 1242,509 1242,544 1243,525 1243,558 1243,490 1244,536 1244,556 1244,514 1245,517 1245,523 1245,533 1246,499 1246,511 1246,536 1247,520 1247,539 1247,515 1248,518 1248,512 1248,508 1249,531 1249,530 1249,516 1249,523 1250,517 1250,536 1250,528 1251,527 1251,521 1251,512 1252,525 1252,548 1252,542 1253,518 1253,490 1253,515 1254,526 1254,526 1254,530 1255,506 1255,530 1255,501 1256,510 1256,516 1256,530 1257,512 1257,517 1257,499 1258,507 1258,514 1258,479 1258,482 1259,502 1259,511 1259,513 1260,530 1260,516 1260,525 1261,489 1261,519 1261,525 1262,520 1262,510 1262,511 1263,490 1263,505 1263,515 1264,510 1264,497 1264,539 1265,522 1265,506 1265,527 1266,544 1266,489 1266,501 1267,527 1267,522 1267,510 1267,493 1268,543 1268,516 1268,487 1269,515 1269,526 1269,529 1270,514 1270,526 1270,525 1271,513 1271,509 1271,484 1272,495 1272,518 1272,499 1273,530 1273,496 1273,527 1274,509 1274,533 1274,536 1275,541 1275,495 1275,542 1276,516 1276,516 1276,553 1276,523 1277,535 1277,518 1277,530 1278,527 1278,528 1278,529 1279,532 1279,540 1279,556 1280,539 1280,516 1280,515 1281,524 1281,547 1281,528 1282,528 1282,526 1282,536 1283,507 1283,500 1283,508 1284,494 1284,512 1284,502 1285,501 1285,511 1285,525 1286,519 1286,507 1286,522 1286,520 1287,530 1287,505 1287,524 1288,516 1288,532 1288,477 1289,532 1289,510 1289,500 1290,516 1290,488 1290,520 1291,529 1291,516 1291,520 1292,520 1292,526 1292,497 1293,530 1293,502 1293,516 1294,522 1294,529 1294,503 1295,522 1295,521 1295,538 1295,503 1296,533 1296,511 1296,519 1297,506 1297,517 1297,539 1298,512 1298,534 1298,510 1299,519 1299,496 1299,506 1300,497 1300,533 1300,538 1301,537 1301,492 1301,481 1302,520 1302,514 1302,530 1303,537 1303,539 1303,524 1304,520 1304,532 1304,539 1304,521 1305,528 1305,532 1305,516 1306,514 1306,537 1306,530 1307,511 1307,547 1307,526 1308,524 1308,563 1308,548 1309,542 1309,503 1309,542 1310,528 1310,503 1310,483 1311,544 1311,537 1311,533 1312,509 1312,535 1312,511 1313,519 1313,527 1313,546 1313,513 1314,534 1314,529 1314,482 1315,519 1315,550 1315,516 1316,536 1316,526 1316,530 1317,515 1317,503 1317,534 1318,512 1318,536 1318,491 1319,500 1319,508 1319,505 1320,511 1320,504 1320,528 1321,522 1321,510 1321,547 1322,530 1322,541 1322,529 1322,513 1323,516 1323,542 1323,529 1324,523 1324,525 1324,529 1325,508 1325,522 1325,507 1326,511 1326,514 1326,530 1327,538 1327,543 1327,529 1328,506 1328,549 1328,521 1329,523 1329,521 1329,522 1330,544 1330,505 1330,532 1331,489 1331,532 1331,502 1331,518 1332,524 1332,516 1332,531 1333,524 1333,549 1333,578 1334,489 1334,516 1334,544 1335,514 1335,533 1335,524 1336,525 1336,530 1336,501 1337,523 1337,538 1337,502 1338,515 1338,522 1338,509 1339,511 1339,490 1339,495 1340,513 1340,518 1340,484 1340,494 1341,493 1341,500 1341,530 1342,490 1342,503 1342,506 1343,498 1343,484 1343,519 1344,512 1344,516 1344,514 1345,532 1345,478 1345,505 1346,502 1346,534 1346,530 1347,526 1347,525 1347,501 1348,523 1348,526 1348,484 1349,550 1349,502 1349,520 1349,522 1350,511 1350,525 1350,533 1351,533 1351,529 1351,533 1352,513 1352,525 1352,543 1353,501 1353,527 1353,513 1354,520 1354,523 1354,508 1355,521 1355,530 1355,518 1356,544 1356,533 1356,534 1357,528 1357,519 1357,500 1358,531 1358,543 1358,509 1358,491 1359,512 1359,505 1359,543 1360,514 1360,524 1360,532 1361,529 1361,518 1361,524 1362,490 1362,518 1362,525 1363,543 1363,515 1363,524 1364,520 1364,530 1364,558 1365,546 1365,536 1365,536 1366,542 1366,532 1366,525 1367,515 1367,543 1367,527 1367,519 1368,500 1368,491 1368,516 1369,535 1369,517 1369,498 1370,484 1370,516 1370,505 1371,531 1371,513 1371,509 1372,546 1372,549 1372,523 1373,544 1373,515 1373,535 1374,565 1374,493 1374,497 1375,502 1375,537 1375,537 1376,514 1376,523 1376,542 1377,526 1377,540 1377,519 1377,526 1378,509 1378,492 1378,528 1379,506 1379,554 1379,514 1380,532 1380,526 1380,515 1381,539 1381,553 1381,515 1382,528 1382,521 1382,536 1383,509 1383,533 1383,506 1384,520 1384,532 1384,502 1385,514 1385,483 1385,549 1386,514 1386,507 1386,514 1386,520 1387,532 1387,511 1387,509 1388,486 1388,537 1388,524 1389,483 1389,502 1389,512 1390,518 1390,527 1390,526 1391,507 1391,509 1391,511 1392,511 1392,524 1392,541 1393,517 1393,548 1393,503 1394,540 1394,538 1394,508 1395,496 1395,502 1395,551 1395,489 1396,520 1396,520 1396,507 1397,487 1397,497 1397,516 1398,508 1398,507 1398,533 1399,512 1399,529 1399,516 1400,511 1400,523 1400,520 1401,518 1401,501 1401,523 1402,527 1402,509 1402,524 1403,523 1403,533 1403,488 1404,501 1404,515 1404,534 1404,497 1405,518 1405,525 1405,513 1406,519 1406,510 1406,513 1407,511 1407,527 1407,506 1408,501 1408,506 1408,514 1409,494 1409,522 1409,508 1410,532 1410,525 1410,539 1411,513 1411,515 1411,533 1412,505 1412,504 1412,519 1413,531 1413,534 1413,536 1413,524 1414,534 1414,511 1414,516 1415,521 1415,529 1415,521 1416,509 1416,553 1416,540 1417,539 1417,535 1417,528 1418,560 1418,526 1418,519 1419,534 1419,539 1419,535 1420,532 1420,515 1420,503 1421,525 1421,502 1421,517 1422,522 1422,501 1422,531 1422,513 1423,494 1423,525 1423,530 1424,536 1424,526 1424,496 1425,515 1425,524 1425,538 1426,527 1426,494 1426,522 1427,496 1427,520 1427,506 1428,508 1428,520 1428,591 1429,520 1429,503 1429,509 1430,530 1430,500 1430,501 1431,493 1431,505 1431,507 1431,531 1432,510 1432,522 1432,505 1433,517 1433,503 1433,495 1434,531 1434,528 1434,509 1435,507 1435,537 1435,519 1436,514 1436,521 1436,526 1437,519 1437,499 1437,504 1438,528 1438,504 1438,502 1439,502 1439,517 1439,522 1440,503 1440,540 1440,536 1440,531 1441,518 1441,508 1441,525 1442,511 1442,534 1442,506 1443,542 1443,482 1443,525 1444,520 1444,516 1444,497 1445,522 1445,556 1445,479 1446,515 1446,505 1446,545 1447,521 1447,509 1447,519 1448,505 1448,527 1448,515 1449,503 1449,524 1449,539 1449,511 1450,526 1450,494 1450,526 1451,541 1451,530 1451,534 1452,526 1452,493 1452,516 1453,500 1453,504 1453,523 1454,508 1454,517 1454,520 1455,532 1455,497 1455,491 1456,513 1456,518 1456,518 1457,527 1457,490 1457,505 1458,525 1458,493 1458,545 1459,512 1459,545 1459,519 1459,547 1460,519 1460,525 1460,511 1461,519 1461,526 1461,494 1462,482 1462,534 1462,501 1463,490 1463,512 1463,524 1464,522 1464,523 1464,523 1465,513 1465,518 1465,543 1466,531 1466,516 1466,536 1467,535 1467,506 1467,520 1468,536 1468,535 1468,556 1468,506 1469,510 1469,523 1469,506 1470,521 1470,522 1470,535 1471,509 1471,525 1471,513 1472,525 1472,530 1472,545 1473,530 1473,517 1473,508 1474,467 1474,520 1474,514 1475,487 1475,522 1475,526 1476,504 1476,500 1476,494 1477,505 1477,524 1477,525 1477,546 1478,521 1478,517 1478,532 1479,511 1479,504 1479,526 1480,509 1480,496 1480,547 1481,520 1481,528 1481,538 1482,508 1482,495 1482,504 1483,522 1483,517 1483,524 1484,514 1484,525 1484,519 1485,536 1485,527 1485,544 1486,517 1486,540 1486,522 1486,519 1487,526 1487,501 1487,550 1488,553 1488,538 1488,532 1489,512 1489,508 1489,531 1490,531 1490,490 1490,524 1491,531 1491,506 1491,547 1492,501 1492,534 1492,523 1493,529 1493,541 1493,538 1494,535 1494,526 1494,529 1495,541 1495,512 1495,526 1495,497 1496,547 1496,507 1496,524 1497,521 1497,544 1497,543 1498,559 1498,534 1498,524 1499,500 1499,533 1499,492 1500,514 1500,522 1500,521 1501,492 1501,526 1501,500 1502,505 1502,531 1502,505 1503,515 1503,516 1503,515 1504,516 1504,530 1504,532 1504,532 1505,546 1505,506 1505,529 1506,533 1506,527 1506,525 1507,531 1507,522 1507,532 1508,533 1508,496 1508,517 1509,528 1509,501 1509,511 1510,532 1510,534 1510,533 1511,521 1511,525 1511,512 1512,506 1512,522 1512,514 1513,519 1513,477 1513,514 1513,523 1514,528 1514,539 1514,562 1515,540 1515,518 1515,523 1516,546 1516,521 1516,495 1517,533 1517,531 1517,515 1518,519 1518,509 1518,521 1519,525 1519,534 1519,514 1520,507 1520,543 1520,549 1521,512 1521,529 1521,535 1522,508 1522,519 1522,544 1522,547 1523,545 1523,496 1523,511 1524,528 1524,536 1524,529 1525,510 1525,483 1525,506 1526,531 1526,514 1526,529 1527,519 1527,507 1527,527 1528,493 1528,504 1528,546 1529,495 1529,535 1529,476 1530,503 1530,502 1530,499 1531,531 1531,509 1531,516 1531,548 1532,516 1532,545 1532,543 1533,511 1533,505 1533,534 1534,535 1534,521 1534,493 1535,532 1535,519 1535,497 1536,509 1536,523 1536,518 1537,530 1537,528 1537,546 1538,500 1538,520 1538,498 1539,532 1539,525 1539,520 1540,519 1540,524 1540,517 1540,524 1541,524 1541,535 1541,531 1542,536 1542,520 1542,501 1543,526 1543,519 1543,559 1544,554 1544,535 1544,524 1545,512 1545,519 1545,541 1546,537 1546,506 1546,530 1547,550 1547,551 1547,525 1548,541 1548,524 1548,540 1549,536 1549,518 1549,535 1550,528 1550,525 1550,540 1550,519 1551,504 1551,533 1551,499 1552,527 1552,523 1552,504 1553,523 1553,545 1553,517 1554,557 1554,534 1554,530 1555,552 1555,513 1555,536 1556,546 1556,544 1556,533 1557,527 1557,526 1557,512 1558,519 1558,532 1558,517 1559,530 1559,526 1559,528 1559,511 1560,517 1560,510 1560,536 1561,542 1561,518 1561,504 1562,552 1562,530 1562,529 1563,525 1563,539 1563,542 1564,525 1564,534 1564,521 1565,539 1565,550 1565,526 1566,518 1566,536 1566,527 1567,503 1567,534 1567,522 1568,524 1568,525 1568,511 1568,519 1569,525 1569,535 1569,514 1570,533 1570,521 1570,532 1571,514 1571,507 1571,502 1572,514 1572,518 1572,531 1573,523 1573,515 1573,502 1574,528 1574,514 1574,526 1575,528 1575,504 1575,514 1576,525 1576,518 1576,512 1577,522 1577,481 1577,547 1577,519 1578,511 1578,492 1578,525 1579,520 1579,552 1579,489 1580,534 1580,539 1580,503 1581,528 1581,507 1581,517 1582,496 1582,544 1582,540 1583,504 1583,532 1583,503 1584,530 1584,513 1584,526 1585,525 1585,525 1585,556 1586,498 1586,521 1586,544 1586,499 1587,490 1587,487 1587,488 1588,506 1588,507 1588,523 1589,544 1589,516 1589,527 1590,517 1590,529 1590,509 1591,510 1591,521 1591,514 1592,510 1592,512 1592,517 1593,510 1593,517 1593,494 1594,509 1594,515 1594,510 1595,529 1595,521 1595,546 1595,522 1596,519 1596,549 1596,528 1597,512 1597,527 1597,543 1598,540 1598,505 1598,544 1599,535 1599,508 1599,513 1600,537 1600,525 1600,534 1601,515 1601,495 1601,492 1602,512 1602,499 1602,497 1603,485 1603,499 1603,505 1604,476 1604,524 1604,516 1604,514 1605,480 1605,499 1605,509 1606,486 1606,507 1606,523 1607,525 1607,508 1607,514 1608,503 1608,552 1608,518 1609,516 1609,539 1609,552 1610,540 1610,523 1610,523 1611,517 1611,507 1611,518 1612,518 1612,534 1612,519 1613,511 1613,507 1613,517 1613,545 1614,497 1614,533 1614,481 1615,531 1615,499 1615,482 1616,530 1616,512 1616,541 1617,541 1617,516 1617,533 1618,509 1618,502 1618,521 1619,512 1619,529 1619,504 1620,525 1620,524 1620,505 1621,556 1621,515 1621,555 1622,500 1622,516 1622,532 1622,520 1623,511 1623,522 1623,506 1624,524 1624,507 1624,525 1625,555 1625,504 1625,540 1626,535 1626,521 1626,505 1627,514 1627,518 1627,507 1628,507 1628,487 1628,533 1629,487 1629,514 1629,513 1630,510 1630,532 1630,499 1631,498 1631,525 1631,533 1632,518 1632,488 1632,524 1632,491 1633,537 1633,526 1633,537 1634,522 1634,547 1634,481 1635,506 1635,524 1635,549 1636,531 1636,526 1636,534 1637,514 1637,517 1637,537 1638,529 1638,512 1638,513 1639,523 1639,538 1639,546 1640,509 1640,540 1640,482 1641,533 1641,503 1641,543 1641,525 1642,547 1642,537 1642,537 1643,500 1643,518 1643,502 1644,525 1644,492 1644,533 1645,523 1645,519 1645,523 1646,523 1646,524 1646,522 1647,521 1647,545 1647,528 1648,526 1648,532 1648,515 1649,517 1649,491 1649,514 1650,517 1650,509 1650,514 1650,508 1651,501 1651,530 1651,504 1652,542 1652,539 1652,539 1653,515 1653,519 1653,530 1654,518 1654,507 1654,520 1655,542 1655,534 1655,486 1656,493 1656,529 1656,505 1657,529 1657,513 1657,526 1658,548 1658,534 1658,525 1659,533 1659,492 1659,514 1659,513 1660,527 1660,509 1660,541 1661,526 1661,502 1661,525 1662,550 1662,524 1662,523 1663,534 1663,532 1663,515 1664,521 1664,528 1664,527 1665,488 1665,525 1665,493 1666,491 1666,513 1666,526 1667,498 1667,515 1667,519 1668,518 1668,520 1668,507 1668,513 1669,524 1669,522 1669,515 1670,512 1670,516 1670,528 1671,542 1671,517 1671,547 1672,552 1672,527 1672,544 1673,551 1673,529 1673,510 1674,519 1674,518 1674,566 1675,529 1675,521 1675,549 1676,520 1676,541 1676,534 1677,557 1677,511 1677,519 1677,507 1678,531 1678,518 1678,524 1679,535 1679,533 1679,512 1680,522 1680,520 1680,509 1681,545 1681,513 1681,533 1682,504 1682,508 1682,502 1683,510 1683,525 1683,504 1684,541 1684,504 1684,510 1685,521 1685,533 1685,520 1686,517 1686,519 1686,523 1686,517 1687,552 1687,531 1687,509 1688,531 1688,488 1688,519 1689,538 1689,543 1689,552 1690,558 1690,530 1690,519 1691,539 1691,516 1691,536 1692,528 1692,532 1692,530 1693,515 1693,510 1693,517 1694,529 1694,496 1694,511 1695,517 1695,508 1695,494 1695,527 1696,494 1696,508 1696,515 1697,497 1697,506 1697,532 1698,531 1698,526 1698,496 1699,543 1699,535 1699,498 1700,520 1700,524 1700,502 1701,536 1701,524 1701,545 1702,504 1702,530 1702,514 1703,531 1703,513 1703,540 1704,540 1704,523 1704,505 1704,540 1705,528 1705,546 1705,529 1706,531 1706,545 1706,541 1707,544 1707,535 1707,516 1708,513 1708,535 1708,551 1709,513 1709,551 1709,513 1710,525 1710,550 1710,503 1711,544 1711,529 1711,512 1712,505 1712,503 1712,522 1713,514 1713,534 1713,522 1713,532 1714,562 1714,548 1714,496 1715,513 1715,499 1715,514 1716,520 1716,538 1716,526 1717,505 1717,489 1717,494 1718,547 1718,521 1718,505 1719,522 1719,510 1719,543 1720,531 1720,521 1720,497 1721,527 1721,524 1721,537 1722,534 1722,526 1722,509 1723,520 1723,493 1723,506 1723,521 1724,508 1724,533 1724,533 1725,511 1725,555 1725,527 1726,516 1726,515 1726,564 1727,558 1727,495 1727,510 1728,506 1728,524 1728,524 1729,548 1729,544 1729,534 1730,560 1730,521 1730,519 1731,526 1731,531 1731,521 1732,526 1732,516 1732,529 1732,504 1733,525 1733,522 1733,525 1734,494 1734,512 1734,522 1735,503 1735,501 1735,506 1736,522 1736,507 1736,504 1737,544 1737,527 1737,525 1738,521 1738,522 1738,508 1739,521 1739,539 1739,517 1740,529 1740,496 1740,534 1741,484 1741,509 1741,511 1741,512 1742,506 1742,533 1742,537 1743,548 1743,519 1743,525 1744,521 1744,560 1744,521 1745,521 1745,528 1745,536 1746,526 1746,512 1746,514 1747,508 1747,548 1747,533 1748,527 1748,537 1748,510 1749,544 1749,515 1749,521 1750,518 1750,522 1750,500 1750,530 1751,522 1751,524 1751,501 1752,533 1752,512 1752,521 1753,514 1753,547 1753,504 1754,517 1754,538 1754,498 1755,515 1755,533 1755,524 1756,520 1756,532 1756,523 1757,542 1757,564 1757,526 1758,496 1758,515 1758,521 1759,522 1759,528 1759,506 1759,539 1760,523 1760,526 1760,508 1761,504 1761,513 1761,518 1762,534 1762,516 1762,503 1763,524 1763,551 1763,520 1764,528 1764,533 1764,530 1765,528 1765,499 1765,525 1766,551 1766,547 1766,565 1767,539 1767,508 1767,529 1768,536 1768,538 1768,521 1768,552 1769,525 1769,521 1769,510 1770,517 1770,543 1770,541 1771,526 1771,498 1771,521 1772,494 1772,517 1772,514 1773,521 1773,521 1773,523 1774,531 1774,509 1774,503 1775,541 1775,523 1775,517 1776,518 1776,519 1776,495 1777,530 1777,514 1777,520 1777,510 1778,502 1778,524 1778,514 1779,548 1779,520 1779,521 1780,528 1780,516 1780,502 1781,526 1781,526 1781,514 1782,503 1782,511 1782,491 1783,526 1783,532 1783,514 1784,515 1784,517 1784,506 1785,554 1785,505 1785,523 1786,525 1786,534 1786,524 1786,504 1787,524 1787,503 1787,511 1788,518 1788,525 1788,513 1789,525 1789,506 1789,546 1790,543 1790,508 1790,501 1791,516 1791,512 1791,502 1792,524 1792,492 1792,516 1793,519 1793,525 1793,526 1794,503 1794,503 1794,516 1795,524 1795,514 1795,531 1795,524 1796,541 1796,531 1796,522 1797,537 1797,521 1797,528 1798,524 1798,518 1798,550 1799,515 1799,540 1799,526 1800,522 1800,536 1800,516 1801,530 1801,520 1801,518 1802,480 1802,517 1802,529 1803,525 1803,524 1803,513 1804,504 1804,530 1804,507 1805,531 1805,509 1805,500 1805,481 1806,480 1806,510 1806,537 1807,511 1807,517 1807,515 1808,513 1808,516 1808,531 1809,527 1809,536 1809,482 1810,525 1810,530 1810,525 1811,535 1811,504 1811,497 1812,535 1812,531 1812,524 1813,533 1813,503 1813,538 1814,538 1814,523 1814,521 1814,537 1815,542 1815,529 1815,522 1816,535 1816,518 1816,534 1817,560 1817,513 1817,523 1818,525 1818,509 1818,512 1819,541 1819,536 1819,511 1820,521 1820,528 1820,525 1821,527 1821,505 1821,517 1822,536 1822,536 1822,516 1823,545 1823,526 1823,542 1823,530 1824,540 1824,513 1824,516 1825,528 1825,513 1825,501 1826,486 1826,529 1826,510 1827,535 1827,511 1827,531 1828,529 1828,552 1828,500 1829,540 1829,502 1829,506 1830,544 1830,521 1830,501 1831,517 1831,521 1831,531 1832,526 1832,510 1832,517 1832,498 1833,522 1833,484 1833,544 1834,541 1834,498 1834,492 1835,497 1835,528 1835,538 1836,544 1836,518 1836,535 1837,501 1837,539 1837,530 1838,542 1838,546 1838,507 1839,518 1839,521 1839,516 1840,509 1840,501 1840,515 1841,508 1841,517 1841,496 1841,503 1842,509 1842,512 1842,529 1843,547 1843,550 1843,546 1844,515 1844,528 1844,550 1845,496 1845,520 1845,525 1846,531 1846,539 1846,521 1847,523 1847,514 1847,519 1848,492 1848,520 1848,528 1849,541 1849,521 1849,523 1850,529 1850,503 1850,548 1850,541 1851,492 1851,527 1851,515 1852,526 1852,523 1852,503 1853,540 1853,519 1853,536 1854,546 1854,517 1854,561 1855,509 1855,530 1855,513 1856,549 1856,507 1856,512 1857,520 1857,531 1857,507 1858,551 1858,535 1858,520 1859,543 1859,535 1859,514 1859,524 1860,561 1860,550 1860,523 1861,571 1861,531 1861,531 1862,533 1862,543 1862,509 1863,506 1863,482 1863,515 1864,518 1864,502 1864,494 1865,501 1865,512 1865,511 1866,525 1866,530 1866,523 1867,521 1867,528 1867,503 1868,522 1868,530 1868,509 1868,522 1869,543 1869,519 1869,505 1870,502 1870,526 1870,504 1871,519 1871,503 1871,550 1872,555 1872,546 1872,515 1873,514 1873,502 1873,537 1874,506 1874,501 1874,549 1875,530 1875,528 1875,502 1876,529 1876,485 1876,482 1877,509 1877,530 1877,513 1877,503 1878,538 1878,549 1878,514 1879,513 1879,515 1879,515 1880,522 1880,542 1880,495 1881,505 1881,509 1881,526 1882,518 1882,494 1882,520 1883,527 1883,527 1883,491 1884,540 1884,532 1884,514 1885,520 1885,540 1885,512 1886,525 1886,517 1886,536 1886,511 1887,542 1887,536 1887,520 1888,532 1888,541 1888,513 1889,548 1889,503 1889,513 1890,525 1890,518 1890,499 1891,499 1891,516 1891,511 1892,507 1892,516 1892,507 1893,505 1893,523 1893,511 1894,518 1894,510 1894,540 1895,483 1895,511 1895,500 1896,512 1896,515 1896,507 1896,534 1897,513 1897,506 1897,511 1898,534 1898,519 1898,545 1899,540 1899,507 1899,507 1900,501 1900,535 1900,525 1901,527 1901,530 1901,498 1902,530 1902,516 1902,513 1903,549 1903,508 1903,500 1904,536 1904,544 1904,470 1905,509 1905,528 1905,517 1905,501 1906,520 1906,530 1906,514 1907,500 1907,510 1907,521 1908,523 1908,528 1908,515 1909,537 1909,504 1909,528 1910,528 1910,534 1910,529 1911,532 1911,560 1911,547 1912,510 1912,514 1912,538 1913,537 1913,518 1913,528 1914,533 1914,542 1914,574 1914,521 1915,513 1915,532 1915,514 1916,530 1916,540 1916,536 1917,517 1917,551 1917,539 1918,507 1918,521 1918,528 1919,514 1919,534 1919,563 1920,542 1920,522 1920,567 1921,522 1921,504 1921,486 1922,527 1922,511 1922,502 1923,525 1923,530 1923,526 1923,523 1924,525 1924,489 1924,524 1925,527 1925,526 1925,517 1926,541 1926,538 1926,525 1927,536 1927,541 1927,534 1928,518 1928,518 1928,536 1929,547 1929,506 1929,522 1930,506 1930,516 1930,526 1931,521 1931,529 1931,530 1932,516 1932,524 1932,516 1932,520 1933,541 1933,509 1933,485 1934,513 1934,539 1934,549 1935,505 1935,552 1935,535 1936,555 1936,544 1936,528 1937,538 1937,565 1937,536 1938,531 1938,524 1938,503 1939,534 1939,543 1939,482 1940,495 1940,522 1940,518 1941,517 1941,502 1941,526 1941,510 1942,502 1942,496 1942,526 1943,519 1943,522 1943,515 1944,512 1944,525 1944,531 1945,540 1945,509 1945,532 1946,527 1946,511 1946,542 1947,506 1947,520 1947,524 1948,534 1948,536 1948,505 1949,512 1949,510 1949,537 1950,537 1950,496 1950,510 1950,531 1951,541 1951,525 1951,489 1952,531 1952,513 1952,508 1953,529 1953,513 1953,530 1954,566 1954,518 1954,548 1955,527 1955,507 1955,526 1956,524 1956,540 1956,530 1957,525 1957,534 1957,496 1958,519 1958,510 1958,530 1959,509 1959,516 1959,499 1959,526 1960,511 1960,523 1960,524 1961,523 1961,509 1961,511 1962,542 1962,515 1962,513 1963,504 1963,484 1963,512 1964,504 1964,533 1964,521 1965,510 1965,522 1965,521 1966,539 1966,544 1966,541 1967,514 1967,509 1967,523 1968,506 1968,524 1968,528 1968,537 1969,536 1969,540 1969,497 1970,533 1970,523 1970,519 1971,511 1971,517 1971,517 1972,541 1972,515 1972,523 1973,543 1973,524 1973,527 1974,531 1974,527 1974,532 1975,516 1975,538 1975,520 1976,535 1976,529 1976,508 1977,490 1977,523 1977,535 1978,520 1978,511 1978,525 1978,523 1979,523 1979,528 1979,480 1980,534 1980,524 1980,517 1981,497 1981,540 1981,508 1982,544 1982,519 1982,507 1983,517 1983,523 1983,524 1984,512 1984,532 1984,492 1985,552 1985,525 1985,522 1986,535 1986,515 1986,526 1987,544 1987,509 1987,502 1987,518 1988,502 1988,523 1988,507 1989,505 1989,525 1989,507 1990,511 1990,529 1990,499 1991,535 1991,518 1991,518 1992,514 1992,529 1992,519 1993,518 1993,526 1993,539 1994,523 1994,512 1994,547 1995,510 1995,559 1995,528 1996,524 1996,547 1996,516 1996,520 1997,552 1997,515 1997,540 1998,532 1998,501 1998,530 1999,538 1999,531 1999,529 2000,543 2000,518 2000,541 2001,509 2001,533 2001,500 2002,515 2002,522 2002,514 2003,511 2003,513 2003,485 2004,539 2004,503 2004,499 2005,546 2005,495 2005,499 2005,506 1245,583 1870,580 1772,451 1604,464"/>
<polyline fill="none" stroke="none" marker-start="url(#morange)" marker-mid="url(#morange)" marker-end="url(#morange)" points="1238,514 1238,509 1239,508 1239,516 1239,501 1239,509 1240,511 1240,515 1240,505 1241,528 1241,521 1241,522 1241,561 1242,525 1242,529 1242,528 1242,527 1243,524 1243,537 1243,530 1244,535 1244,524 1244,533 1244,516 1245,498 1245,492 1245,522 1245,530 1246,535 1246,514 1246,523 1246,555 1247,500 1247,507 1247,528 1248,506 1248,510 1248,520 1248,510 1249,516 1249,509 1249,524 1249,521 1250,529 1250,549 1250,507 1250,525 1251,537 1251,534 1251,548 1252,519 1252,527 1252,502 1252,519 1253,524 1253,508 1253,501 1253,507 1254,521 1254,520 1254,516 1255,538 1255,515 1255,515 1255,526 1256,538 1256,515 1256,545 1256,557 1257,526 1257,511 1257,513 1257,505 1258,506 1258,515 1258,512 1259,546 1259,535 1259,525 1259,523 1260,534 1260,519 1260,524 1260,521 1261,504 1261,536 1261,508 1261,526 1262,506 1262,511 1262,540 1263,527 1263,540 1263,527 1263,531 1264,516 1264,508 1264,509 1264,515 1265,527 1265,549 1265,516 1265,526 1266,531 1266,535 1266,515 1267,549 1267,520 1267,506 1267,519 1268,512 1268,530 1268,529 1268,568 1269,529 1269,517 1269,509 1270,543 1270,521 1270,497 1270,510 1271,543 1271,489 1271,513 1271,514 1272,490 1272,494 1272,518 1272,510 1273,520 1273,525 1273,540 1274,516 1274,538 1274,519 1274,534 1275,529 1275,511 1275,528 1275,517 1276,529 1276,529 1276,532 1276,545 1277,511 1277,511 1277,508 1278,515 1278,550 1278,518 1278,512 1279,526 1279,514 1279,566 1279,533 1280,517 1280,526 1280,510 1280,516 1281,509 1281,483 1281,528 1282,511 1282,536 1282,530 1282,496 1283,511 1283,516 1283,526 1283,518 1284,509 1284,490 1284,510 1285,520 1285,490 1285,521 1285,509 1286,529 1286,525 1286,520 1286,517 1287,526 1287,518 1287,510 1287,514 1288,473 1288,497 1288,521 1289,525 1289,498 1289,502 1289,528 1290,526 1290,527 1290,499 1290,526 1291,548 1291,504 1291,540 1291,501 1292,531 1292,530 1292,528 1293,531 1293,523 1293,519 1293,547 1294,535 1294,516 1294,515 1294,510 1295,511 1295,518 1295,522 1296,529 1296,518 1296,491 1296,517 1297,500 1297,514 1297,502 1297,502 1298,493 1298,512 1298,513 1298,515 1299,523 1299,496 1299,520 1300,506 1300,506 1300,518 1300,529 1301,483 1301,519 1301,500 1301,506 1302,518 1302,505 1302,500 1302,512 1303,497 1303,499 1303,508 1304,491 1304,507 1304,528 1304,515 1305,483 1305,494 1305,512 1305,520 1306,506 1306,508 1306,502 1306,498 1307,503 1307,518 1307,537 1308,498 1308,503 1308,497 1308,502 1309,559 1309,510 1309,514 1309,522 1310,513 1310,536 1310,526 1311,525 1311,522 1311,532 1311,529 1312,513 1312,525 1312,546 1312,520 1313,527 1313,558 1313,511 1313,511 1314,516 1314,520 1314,540 1315,494 1315,526 1315,523 1315,515 1316,508 1316,491 1316,515 1316,528 1317,501 1317,510 1317,556 1317,522 1318,553 1318,518 1318,524 1319,541 1319,516 1319,535 1319,512 1320,534 1320,504 1320,528 1320,513 1321,509 1321,506 1321,498 1321,499 1322,505 1322,527 1322,511 1323,524 1323,498 1323,525 1323,530 1324,521 1324,503 1324,532 1324,524 1325,512 1325,522 1325,513 1326,505 1326,513 1326,536 1326,533 1327,545 1327,498 1327,534 1327,515 1328,525 1328,483 1328,506 1328,510 1329,489 1329,553 1329,501 1330,513 1330,519 1330,493 1330,520 1331,528 1331,479 1331,502 1331,547 1332,531 1332,536 1332,514 1332,528 1333,531 1333,506 1333,548 1334,534 1334,536 1334,526 1334,561 1335,531 1335,513 1335,538 1335,532 1336,537 1336,524 1336,509 1337,525 1337,527 1337,494 1337,544 1338,549 1338,539 1338,517 1338,521 1339,524 1339,529 1339,530 1339,512 1340,553 1340,518 1340,517 1341,535 1341,548 1341,540 1341,517 1342,519 1342,525 1342,525 1342,506 1343,537 1343,542 1343,515 1343,517 1344,513 1344,531 1344,494 1345,501 1345,504 1345,523 1345,520 1346,499 1346,509 1346,525 1346,506 1347,517 1347,515 1347,509 1347,489 1348,509 1348,534 1348,515 1349,505 1349,542 1349,512 1349,515 1350,503 1350,523 1350,520 1350,502 1351,528 1351,509 1351,517 1352,540 1352,533 1352,531 1352,523 1353,535 1353,515 1353,521 1353,535 1354,515 1354,529 1354,506 1354,510 1355,538 1355,532 1355,540 1356,544 1356,514 1356,507 1356,500 1357,491 1357,544 1357,489 1357,546 1358,537 1358,532 1358,544 1358,552 1359,524 1359,536 1359,536 1360,522 1360,536 1360,532 1360,506 1361,506 1361,540 1361,537 1361,531 1362,494 1362,502 1362,539 1362,493 1363,499 1363,542 1363,544 1364,534 1364,522 1364,502 1364,529 1365,521 1365,526 1365,521 1365,512 1366,506 1366,496 1366,536 1367,504 1367,520 1367,489 1367,527 1368,519 1368,530 1368,502 1368,497 1369,521 1369,516 1369,526 1369,506 1370,531 1370,516 1370,510 1371,501 1371,519 1371,523 1371,528 1372,516 1372,528 1372,516 1372,533 1373,529 1373,515 1373,539 1373,520 1374,530 1374,534 1374,501 1375,495 1375,521 1375,524 1375,535 1376,533 1376,504 1376,512 1376,524 1377,510 1377,518 1377,503 1378,514 1378,530 1378,506 1378,497 1379,517 1379,507 1379,504 1379,578 1380,508 1380,505 1380,509 1380,510 1381,524 1381,559 1381,523 1382,517 1382,506 1382,547 1382,515 1383,528 1383,542 1383,544 1383,537 1384,534 1384,532 1384,532 1384,505 1385,507 1385,485 1385,534 1386,515 1386,530 1386,520 1386,528 1387,524 1387,541 1387,518 1387,512 1388,489 1388,528 1388,519 1388,532 1389,521 1389,509 1389,530 1390,505 1390,499 1390,541 1390,487 1391,521 1391,536 1391,489 1391,516 1392,550 1392,517 1392,534 1393,526 1393,526 1393,504 1393,509 1394,541 1394,540 1394,533 1394,510 1395,515 1395,508 1395,519 1395,518 1396,530 1396,524 1396,530 1397,542 1397,512 1397,516 1397,513 1398,526 1398,528 1398,542 1398,542 1399,514 1399,519 1399,524 1399,499 1400,545 1400,532 1400,514 1401,523 1401,545 1401,528 1401,518 1402,532 1402,520 1402,478 1402,519 1403,513 1403,524 1403,501 1403,521 1404,513 1404,497 1404,506 1405,491 1405,533 1405,534 1405,506 1406,498 1406,535 1406,515 1406,514 1407,542 1407,529 1407,515 1408,526 1408,490 1408,534 1408,530 1409,501 1409,502 1409,523 1409,528 1410,504 1410,529 1410,512 1410,527 1411,511 1411,527 1411,539 1412,521 1412,523 1412,551 1412,532 1413,526 1413,535 1413,532 1413,519 1414,532 1414,561 1414,457 1414,528 1415,523 1415,540 1415,522 1416,508 1416,515 1416,522 1416,528 1417,507 1417,529 1417,537 1417,525 1418,517 1418,529 1418,495 1419,506 1419,528 1419,521 1419,492 1420,528 1420,524 1420,525 1420,519 1421,500 1421,532 1421,519 1421,500 1422,519 1422,524 1422,512 1423,549 1423,488 1423,502 1423,502 1424,507 1424,510 1424,508 1424,505 1425,521 1425,509 1425,532 1425,509 1426,523 1426,522 1426,518 1427,527 1427,508 1427,540 1427,534 1428,508 1428,510 1428,530 1428,515 1429,516 1429,519 1429,514 1429,525 1430,518 1430,518 1430,520 1431,525 1431,518 1431,543 1431,532 1432,543 1432,506 1432,495 1432,535 1433,536 1433,509 1433,499 1434,520 1434,531 1434,505 1434,515 1435,491 1435,509 1435,535 1435,503 1436,519 1436,529 1436,522 1436,510 1437,545 1437,530 1437,513 1438,506 1438,534 1438,502 1438,507 1439,508 1439,534 1439,518 1439,524 1440,549 1440,520 1440,528 1440,522 1441,531 1441,534 1441,523 1442,516 1442,509 1442,539 1442,518 1443,491 1443,504 1443,536 1443,526 1444,510 1444,515 1444,530 1444,512 1445,526 1445,510 1445,524 1446,525 1446,516 1446,522 1446,518 1447,511 1447,520 1447,527 1447,543 1448,520 1448,504 1448,515 1449,508 1449,511 1449,526 1449,525 1450,527 1450,506 1450,538 1450,524 1451,494 1451,504 1451,534 1451,517 1452,528 1452,519 1452,539 1453,505 1453,538 1453,515 1453,526 1454,540 1454,542 1454,526 1454,533 1455,531 1455,518 1455,546 1455,515 1456,545 1456,538 1456,537 1457,525 1457,547 1457,555 1457,544 1458,540 1458,539 1458,495 1458,526 1459,515 1459,523 1459,509 1460,488 1460,502 1460,501 1460,518 1461,492 1461,497 1461,524 1461,506 1462,488 1462,504 1462,518 1462,530 1463,524 1463,501 1463,521 1464,500 1464,539 1464,512 1464,515 1465,518 1465,507 1465,525 1465,522 1466,550 1466,530 1466,501 1466,524 1467,534 1467,518 1467,521 1468,525 1468,505 1468,513 1468,514 1469,508 1469,536 1469,512 1469,502 1470,508 1470,520 1470,507 1470,513 1471,508 1471,504 1471,520 1472,529 1472,521 1472,513 1472,505 1473,517 1473,516 1473,525 1473,511 1474,537 1474,512 1474,533 1475,519 1475,524 1475,525 1475,520 1476,497 1476,529 1476,528 1476,517 1477,541 1477,508 1477,513 1477,503 1478,515 1478,503 1478,511 1479,506 1479,506 1479,530 1479,533 1480,512 1480,536 1480,541 1480,545 1481,517 1481,526 1481,506 1481,509 1482,537 1482,516 1482,534 1483,504 1483,509 1483,501 1483,505 1484,520 1484,549 1484,517 1484,528 1485,544 1485,539 1485,530 1485,533 1486,528 1486,531 1486,504 1487,506 1487,507 1487,586 1487,517 1488,521 1488,515 1488,544 1488,520 1489,524 1489,530 1489,523 1490,497 1490,520 1490,522 1490,521 1491,503 1491,498 1491,492 1491,520 1492,503 1492,511 1492,509 1492,517 1493,507 1493,500 1493,517 1494,498 1494,508 1494,499 1494,514 1495,516 1495,524 1495,518 1495,520 1496,526 1496,503 1496,524 1496,524 1497,541 1497,513 1497,529 1498,530 1498,521 1498,525 1498,517 1499,555 1499,518 1499,511 1499,500 1500,522 1500,517 1500,534 1500,526 1501,522 1501,563 1501,525 1502,501 1502,524 1502,517 1502,522 1503,519 1503,558 1503,513 1503,526 1504,486 1504,503 1504,512 1505,514 1505,529 1505,527 1505,524 1506,526 1506,527 1506,524 1506,500 1507,526 1507,529 1507,530 1507,506 1508,540 1508,515 1508,498 1509,506 1509,550 1509,518 1509,529 1510,546 1510,506 1510,513 1510,530 1511,528 1511,522 1511,503 1511,533 1512,501 1512,491 1512,509 1513,511 1513,513 1513,489 1513,507 1514,511 1514,519 1514,526 1514,510 1515,519 1515,520 1515,555 1516,496 1516,557 1516,518 1516,521 1517,481 1517,511 1517,492 1517,525 1518,503 1518,484 1518,532 1518,529 1519,512 1519,512 1519,516 1520,519 1520,517 1520,538 1520,501 1521,497 1521,525 1521,514 1521,533 1522,491 1522,510 1522,502 1522,512 1523,507 1523,550 1523,526 1524,531 1524,531 1524,547 1524,530 1525,535 1525,538 1525,531 1525,514 1526,497 1526,504 1526,521 1526,509 1527,528 1527,537 1527,526 1528,505 1528,511 1528,530 1528,517 1529,548 1529,527 1529,527 1529,511 1530,514 1530,516 1530,550 1531,510 1531,517 1531,524 1531,540 1532,548 1532,507 1532,530 1532,526 1533,511 1533,513 1533,527 1533,521 1534,503 1534,535 1534,548 1535,501 1535,527 1535,507 1535,530 1536,525 1536,528 1536,532 1536,547 1537,533 1537,517 1537,527 1537,530 1538,497 1538,528 1538,525 1539,485 1539,514 1539,508 1539,523 1540,497 1540,496 1540,502 1540,531 1541,522 1541,527 1541,527 1541,518 1542,517 1542,521 1542,511 1543,515 1543,513 1543,524 1543,515 1544,514 1544,511 1544,530 1544,512 1545,529 1545,527 1545,509 1546,513 1546,532 1546,509 1546,509 1547,511 1547,546 1547,518 1547,538 1548,538 1548,540 1548,524 1548,512 1549,514 1549,538 1549,524 1550,537 1550,528 1550,538 1550,539 1551,516 1551,518 1551,502 1551,515 1552,521 1552,522 1552,506 1552,557 1553,502 1553,530 1553,531 1554,494 1554,510 1554,538 1554,527 1555,530 1555,522 1555,530 1555,539 1556,535 1556,524 1556,533 1557,516 1557,505 1557,542 1557,529 1558,523 1558,516 1558,519 1558,498 1559,532 1559,538 1559,521 1559,516 1560,519 1560,524 1560,518 1561,522 1561,522 1561,542 1561,520 1562,525 1562,518 1562,506 1562,533 1563,530 1563,536 1563,500 1563,495 1564,520 1564,580 1564,499 1565,517 1565,516 1565,517 1565,511 1566,542 1566,518 1566,526 1566,528 1567,530 1567,556 1567,508 1567,532 1568,515 1568,518 1568,455 1569,511 1569,501 1569,517 1569,523 1570,533 1570,515 1570,509 1570,534 1571,526 1571,500 1571,536 1572,529 1572,534 1572,531 1572,551 1573,538 1573,521 1573,545 1573,520 1574,497 1574,537 1574,536 1574,526 1575,489 1575,521 1575,525 1576,521 1576,533 1576,523 1576,521 1577,516 1577,505 1577,526 1577,534 1578,522 1578,531 1578,524 1578,524 1579,531 1579,511 1579,518 1580,505 1580,515 1580,529 1580,534 1581,525 1581,516 1581,511 1581,524 1582,507 1582,515 1582,536 1582,499 1583,539 1583,521 1583,500 1584,523 1584,528 1584,547 1584,528 1585,508 1585,506 1585,530 1585,517 1586,505 1586,519 1586,515 1587,525 1587,506 1587,502 1587,536 1588,514 1588,520 1588,492 1588,512 1589,505 1589,519 1589,438 1589,519 1590,526 1590,498 1590,511 1591,531 1591,515 1591,524 1591,507 1592,532 1592,507 1592,474 1592,521 1593,518 1593,519 1593,498 1593,501 1594,524 1594,522 1594,490 1595,524 1595,507 1595,522 1595,516 1596,515 1596,551 1596,535 1596,520 1597,550 1597,531 1597,519 1598,516 1598,502 1598,518 1598,502 1599,511 1599,504 1599,518 1599,525 1600,541 1600,520 1600,526 1600,516 1601,506 1601,515 1601,532 1602,527 1602,509 1602,495 1602,505 1603,483 1603,539 1603,519 1603,539 1604,503 1604,504 1604,504 1604,508 1605,517 1605,506 1605,512 1606,509 1606,502 1606,502 1606,509 1607,503 1607,514 1607,530 1607,530 1608,530 1608,513 1608,524 1608,510 1609,535 1609,524 1609,487 1610,515 1610,524 1610,515 1610,493 1611,505 1611,563 1611,524 1611,523 1612,512 1612,538 1612,528 1613,492 1613,513 1613,518 1613,517 1614,521 1614,526 1614,528 1614,534 1615,526 1615,518 1615,503 1615,507 1616,494 1616,496 1616,508 1617,519 1617,524 1617,520 1617,508 1618,509 1618,523 1618,499 1618,508 1619,526 1619,525 1619,516 1619,518 1620,511 1620,574 1620,505 1621,538 1621,501 1621,517 1621,512 1622,542 1622,534 1622,481 1622,518 1623,536 1623,498 1623,510 1623,508 1624,513 1624,505 1624,512 1625,487 1625,490 1625,494 1625,513 1626,508 1626,493 1626,498 1626,507 1627,513 1627,513 1627,483 1628,512 1628,505 1628,525 1628,515 1629,537 1629,509 1629,518 1629,520 1630,523 1630,524 1630,521 1630,505 1631,502 1631,516 1631,528 1632,494 1632,526 1632,521 1632,500 1633,515 1633,518 1633,506 1633,518 1634,509 1634,516 1634,511 1634,533 1635,508 1635,520 1635,522 1636,529 1636,527 1636,541 1636,510 1637,521 1637,510 1637,511 1637,526 1638,504 1638,517 1638,513 1639,517 1639,505 1639,548 1639,530 1640,519 1640,534 1640,533 1640,518 1641,537 1641,513 1641,535 1641,524 1642,526 1642,540 1642,539 1643,538 1643,524 1643,527 1643,522 1644,532 1644,538 1644,508 1644,541 1645,518 1645,507 1645,537 1645,522 1646,509 1646,537 1646,505 1647,525 1647,520 1647,516 1647,527 1648,525 1648,531 1648,535 1648,511 1649,526 1649,530 1649,540 1649,530 1650,509 1650,503 1650,517 1651,523 1651,529 1651,515 1651,521 1652,538 1652,516 1652,512 1652,522 1653,497 1653,526 1653,520 1654,512 1654,522 1654,508 1654,532 1655,523 1655,511 1655,530 1655,526 1656,509 1656,518 1656,518 1656,519 1657,530 1657,534 1657,504 1658,508 1658,502 1658,499 1658,491 1659,501 1659,524 1659,506 1659,531 1660,519 1660,517 1660,533 1660,528 1661,488 1661,519 1661,553 1662,522 1662,515 1662,512 1662,541 1663,532 1663,525 1663,539 1663,513 1664,513 1664,526 1664,489 1664,500 1665,529 1665,518 1665,545 1666,516 1666,521 1666,521 1666,527 1667,469 1667,508 1667,500 1667,522 1668,497 1668,518 1668,539 1669,527 1669,525 1669,531 1669,513 1670,528 1670,522 1670,494 1670,506 1671,514 1671,525 1671,513 1671,518 1672,538 1672,518 1672,524 1673,515 1673,534 1673,522 1673,528 1674,536 1674,531 1674,508 1674,520 1675,499 1675,528 1675,521 1675,509 1676,525 1676,501 1676,519 1677,507 1677,536 1677,499 1677,515 1678,523 1678,529 1678,527 1678,518 1679,530 1679,516 1679,537 1680,511 1680,516 1680,502 1680,504 1681,542 1681,521 1681,525 1681,511 1682,521 1682,515 1682,520 1682,504 1683,532 1683,508 1683,541 1684,507 1684,507 1684,525 1684,505 1685,514 1685,519 1685,516 1685,512 1686,534 1686,536 1686,514 1686,540 1687,540 1687,524 1687,512 1688,526 1688,523 1688,515 1688,538 1689,544 1689,510 1689,517 1689,526 1690,549 1690,537 1690,534 1690,517 1691,510 1691,527 1691,551 1692,503 1692,501 1692,551 1692,530 1693,543 1693,521 1693,523 1693,527 1694,512 1694,505 1694,537 1695,525 1695,524 1695,500 1695,515 1696,531 1696,539 1696,530 1696,516 1697,510 1697,571 1697,508 1697,524 1698,511 1698,541 1698,521 1699,527 1699,523 1699,501 1699,548 1700,518 1700,526 1700,511 1700,533 1701,495 1701,521 1701,545 1701,533 1702,531 1702,501 1702,520 1703,516 1703,515 1703,508 1703,504 1704,492 1704,512 1704,532 1704,522 1705,497 1705,532 1705,537 1705,482 1706,510 1706,480 1706,558 1707,525 1707,519 1707,518 1707,527 1708,509 1708,524 1708,500 1708,547 1709,512 1709,520 1709,546 1710,508 1710,508 1710,508 1710,540 1711,525 1711,521 1711,528 1711,525 1712,544 1712,521 1712,527 1712,496 1713,499 1713,515 1713,528 1714,519 1714,528 1714,522 1714,535 1715,531 1715,519 1715,517 1715,535 1716,534 1716,508 1716,502 1716,520 1717,511 1717,538 1717,500 1718,507 1718,527 1718,522 1718,522 1719,525 1719,506 1719,528 1719,508 1720,524 1720,529 1720,487 1721,508 1721,507 1721,538 1721,513 1722,545 1722,494 1722,536 1722,520 1723,523 1723,544 1723,526 1723,531 1724,511 1724,524 1724,523 1725,522 1725,513 1725,521 1725,520 1726,505 1726,556 1726,529 1726,528 1727,519 1727,512 1727,512 1727,520 1728,516 1728,515 1728,521 1729,509 1729,522 1729,511 1729,524 1730,529 1730,515 1730,512 1730,508 1731,520 1731,534 1731,515 1731,526 1732,495 1732,526 1732,517 1733,517 1733,521 1733,524 1733,516 1734,535 1734,512 1734,529 1734,515 1735,535 1735,551 1735,511 1736,505 1736,501 1736,522 1736,495 1737,518 1737,511 1737,539 1737,530 1738,522 1738,547 1738,529 1738,501 1739,510 1739,512 1739,541 1740,516 1740,524 1740,520 1740,504 1741,499 1741,507 1741,527 1741,523 1742,517 1742,488 1742,541 1742,535 1743,539 1743,517 1743,524 1744,516 1744,506 1744,523 1744,542 1745,539 1745,510 1745,512 1745,530 1746,489 1746,494 1746,524 1746,509 1747,517 1747,530 1747,498 1748,520 1748,512 1748,495 1748,513 1749,535 1749,510 1749,521 1749,517 1750,533 1750,547 1750,527 1751,518 1751,529 1751,504 1751,502 1752,516 1752,524 1752,508 1752,522 1753,521 1753,519 1753,533 1753,536 1754,508 1754,516 1754,514 1755,559 1755,517 1755,561 1755,537 1756,515 1756,507 1756,498 1756,517 1757,534 1757,512 1757,514 1757,544 1758,503 1758,506 1758,553 1759,522 1759,512 1759,535 1759,543 1760,515 1760,547 1760,560 1760,514 1761,536 1761,538 1761,517 1761,528 1762,529 1762,513 1762,511 1763,543 1763,511 1763,515 1763,514 1764,501 1764,511 1764,519 1764,496 1765,491 1765,501 1765,492 1766,516 1766,507 1766,542 1766,499 1767,525 1767,516 1767,545 1767,515 1768,510 1768,519 1768,518 1768,527 1769,529 1769,553 1769,529 1770,494 1770,533 1770,534 1770,531 1771,516 1771,527 1771,525 1771,514 1772,515 1772,543 1772,505 1772,531 1773,519 1773,517 1773,514 1774,505 1774,501 1774,521 1774,510 1775,524 1775,521 1775,507 1775,523 1776,524 1776,543 1776,515 1777,519 1777,525 1777,533 1777,517 1778,527 1778,560 1778,515 1778,536 1779,529 1779,543 1779,514 1779,511 1780,508 1780,537 1780,526 1781,522 1781,514 1781,540 1781,531 1782,507 1782,520 1782,492 1782,521 1783,494 1783,522 1783,506 1783,516 1784,526 1784,505 1784,533 1785,499 1785,516 1785,505 1785,493 1786,517 1786,516 1786,506 1786,529 1787,525 1787,525 1787,514 1787,512 1788,524 1788,543 1788,516 1789,538 1789,523 1789,530 1789,514 1790,528 1790,532 1790,497 1790,505 1791,537 1791,504 1791,534 1792,541 1792,534 1792,517 1792,538 1793,511 1793,554 1793,555 1793,549 1794,519 1794,517 1794,516 1794,526 1795,521 1795,534 1795,494 1796,512 1796,532 1796,534 1796,522 1797,517 1797,531 1797,509 1797,543 1798,506 1798,520 1798,525 1798,525 1799,521 1799,523 1799,526 1800,518 1800,519 1800,502 1800,560 1801,497 1801,540 1801,502 1801,537 1802,527 1802,501 1802,525 1802,525 1803,519 1803,524 1803,514 1804,508 1804,508 1804,511 1804,520 1805,509 1805,525 1805,515 1805,524 1806,505 1806,489 1806,538 1807,497 1807,512 1807,537 1807,522 1808,513 1808,529 1808,518 1808,499 1809,518 1809,512 1809,518 1809,508 1810,516 1810,502 1810,508 1811,504 1811,509 1811,515 1811,530 1812,514 1812,526 1812,521 1812,511 1813,522 1813,542 1813,511 1813,510 1814,521 1814,511 1814,536 1815,545 1815,519 1815,508 1815,510 1816,533 1816,502 1816,536 1816,531 1817,538 1817,501 1817,541 1818,536 1818,514 1818,549 1818,532 1819,543 1819,521 1819,529 1819,499 1820,532 1820,507 1820,515 1820,545 1821,527 1821,524 1821,513 1822,501 1822,511 1822,506 1822,516 1823,512 1823,521 1823,532 1823,518 1824,545 1824,523 1824,517 1824,519 1825,526 1825,554 1825,511 1826,527 1826,525 1826,519 1826,508 1827,519 1827,528 1827,518 1827,501 1828,537 1828,499 1828,516 1828,498 1829,511 1829,532 1829,509 1830,506 1830,509 1830,512 1830,510 1831,503 1831,530 1831,520 1831,527 1832,486 1832,495 1832,526 1833,504 1833,525 1833,529 1833,503 1834,520 1834,502 1834,508 1834,491 1835,508 1835,504 1835,535 1835,524 1836,522 1836,538 1836,524 1837,532 1837,519 1837,550 1837,529 1838,557 1838,521 1838,521 1838,519 1839,515 1839,527 1839,490 1839,534 1840,518 1840,512 1840,540 1841,533 1841,533 1841,507 1841,529 1842,537 1842,523 1842,519 1842,529 1843,516 1843,561 1843,522 1843,514 1844,539 1844,532 1844,532 1845,522 1845,515 1845,509 1845,512 1846,510 1846,536 1846,512 1846,551 1847,531 1847,527 1847,549 1848,543 1848,514 1848,539 1848,522 1849,539 1849,555 1849,539 1849,544 1850,529 1850,535 1850,529 1850,502 1851,538 1851,530 1851,517 1852,534 1852,510 1852,525 1852,528 1853,519 1853,517 1853,515 1853,516 1854,527 1854,504 1854,521 1854,519 1855,538 1855,517 1855,523 1856,506 1856,536 1856,524 1856,543 1857,514 1857,530 1857,520 1857,553 1858,533 1858,520 1858,520 1859,515 1859,519 1859,517 1859,521 1860,520 1860,539 1860,544 1860,534 1861,527 1861,509 1861,537 1861,505 1862,531 1862,508 1862,513 1863,527 1863,522 1863,523 1863,537 1864,547 1864,531 1864,533 1864,508 1865,521 1865,517 1865,509 1865,520 1866,509 1866,507 1866,526 1867,524 1867,511 1867,497 1867,509 1868,531 1868,533 1868,522 1868,522 1869,537 1869,503 1869,502 1869,515 1870,495 1870,519 1870,516 1871,518 1871,492 1871,482 1871,526 1872,521 1872,511 1872,526 1872,514 1873,527 1873,507 1873,498 1874,524 1874,493 1874,529 1874,542 1875,544 1875,495 1875,511 1875,531 1876,522 1876,516 1876,506 1876,496 1877,521 1877,551 1877,512 1878,514 1878,516 1878,524 1878,533 1879,512 1879,515 1879,520 1879,519 1880,528 1880,534 1880,527 1880,504 1881,536 1881,538 1881,530 1882,541 1882,532 1882,518 1882,539 1883,570 1883,528 1883,519 1883,514 1884,532 1884,545 1884,521 1884,523 1885,523 1885,531 1885,511 1886,503 1886,514 1886,519 1886,500 1887,526 1887,530 1887,531 1887,517 1888,520 1888,518 1888,554 1889,532 1889,518 1889,519 1889,517 1890,506 1890,531 1890,499 1890,504 1891,532 1891,522 1891,518 1891,518 1892,523 1892,520 1892,520 1893,516 1893,518 1893,546 1893,528 1894,504 1894,513 1894,548 1894,552 1895,524 1895,526 1895,532 1895,519 1896,504 1896,522 1896,503 1897,539 1897,513 1897,533 1897,518 1898,525 1898,524 1898,479 1898,491 1899,510 1899,529 1899,506 1900,523 1900,515 1900,512 1900,554 1901,531 1901,539 1901,509 1901,528 1902,508 1902,510 1902,506 1902,518 1903,526 1903,526 1903,516 1904,498 1904,509 1904,517 1904,523 1905,536 1905,542 1905,522 1905,514 1906,512 1906,527 1906,553 1906,529 1907,525 1907,506 1907,485 1908,513 1908,534 1908,497 1908,504 1909,505 1909,482 1909,494 1909,522 1910,511 1910,508 1910,510 1910,513 1911,525 1911,532 1911,507 1912,524 1912,531 1912,520 1912,527 1913,504 1913,497 1913,517 1913,508 1914,528 1914,507 1914,514 1915,528 1915,540 1915,518 1915,557 1916,517 1916,534 1916,532 1916,520 1917,528 1917,507 1917,495 1917,496 1918,532 1918,494 1918,515 1919,518 1919,523 1919,500 1919,527 1920,541 1920,528 1920,514 1920,530 1921,525 1921,542 1921,522 1921,528 1922,488 1922,526 1922,522 1923,491 1923,510 1923,547 1923,508 1924,504 1924,523 1924,538 1924,526 1925,512 1925,511 1925,501 1925,526 1926,500 1926,488 1926,508 1927,498 1927,504 1927,497 1927,503 1928,516 1928,514 1928,521 1928,483 1929,515 1929,530 1929,521 1930,512 1930,530 1930,521 1930,506 1931,517 1931,539 1931,533 1931,517 1932,519 1932,527 1932,508 1932,516 1933,529 1933,520 1933,523 1934,522 1934,512 1934,507 1934,498 1935,512 1935,521 1935,530 1935,526 1936,537 1936,517 1936,523 1936,491 1937,527 1937,524 1937,476 1938,487 1938,494 1938,521 1938,513 1939,500 1939,496 1939,509 1939,509 1940,515 1940,532 1940,525 1941,521 1941,522 1941,516 1941,506 1942,530 1942,509 1942,519 1942,512 1943,518 1943,513 1943,513 1943,518 1944,507 1944,504 1944,524 1945,515 1945,523 1945,536 1945,524 1946,540 1946,513 1946,554 1946,530 1947,502 1947,522 1947,543 1947,529 1948,516 1948,522 1948,559 1949,527 1949,537 1949,534 1949,509 1950,512 1950,514 1950,488 1950,518 1951,522 1951,548 1951,522 1951,519 1952,486 1952,515 1952,546 1953,529 1953,505 1953,526 1953,530 1954,519 1954,509 1954,527 1954,520 1955,519 1955,542 1955,527 1956,518 1956,539 1956,526 1956,547 1957,487 1957,538 1957,521 1957,523 1958,511 1958,521 1958,503 1958,514 1959,490 1959,511 1959,532 1960,534 1960,520 1960,518 1960,535 1961,507 1961,519 1961,509 1961,548 1962,520 1962,481 1962,497 1962,512 1963,522 1963,509 1963,521 1964,538 1964,531 1964,545 1964,516 1965,515 1965,522 1965,529 1965,501 1966,496 1966,521 1966,525 1966,509 1967,524 1967,519 1967,532 1968,507 1968,521 1968,530 1968,503 1969,511 1969,529 1969,509 1969,504 1970,530 1970,484 1970,529 1971,510 1971,509 1971,515 1971,519 1972,513 1972,519 1972,503 1972,517 1973,512 1973,533 1973,526 1973,522 1974,517 1974,521 1974,538 1975,513 1975,532 1975,529 1975,521 1976,515 1976,511 1976,507 1976,524 1977,539 1977,494 1977,516 1977,525 1978,494 1978,535 1978,499 1979,511 1979,539 1979,501 1979,549 1980,526 1980,509 1980,521 1980,514 1981,505 1981,530 1981,529 1982,507 1982,512 1982,502 1982,511 1983,515 1983,514 1983,556 1983,530 1984,533 1984,537 1984,538 1984,521 1985,528 1985,514 1985,525 1986,518 1986,515 1986,518 1986,526 1987,519 1987,513 1987,513 1987,527 1988,528 1988,513 1988,492 1988,512 1989,517 1989,533 1989,522 1990,546 1990,549 1990,525 1990,506 1991,539 1991,523 1991,542 1991,538 1992,510 1992,527 1992,515 1992,527 1993,519 1993,519 1993,529 1994,519 1994,495 1994,488 1994,509 1995,524 1995,522 1995,513 1995,510 1996,500 1996,528 1996,496 1997,515 1997,508 1997,508 1997,509 1998,502 1998,500 1998,496 1998,510 1999,494 1999,509 1999,523 1999,496 2000,527 2000,517 2000,500 2001,502 2001,508 2001,501 2001,530 2002,532 2002,516 2002,537 2002,508 2003,520 2003,509 2003,497 2003,527 2004,514 2004,498 2004,517 2005,533 2005,529 2005,500 2005,521 1656,595 1644,579 1473,449 1683,452"/>
<rect x="436.5" y="59.0" width="6" height="10" fill="#808080"/>
<rect x="436.5" y="1014.5" width="6" height="10" fill="#808080"/>
<rect x="567.0" y="50.0" width="6" height="19" fill="#808080"/>
<rect x="567.0" y="1014.5" width="6" height="19" fill="#808080"/>
<rect x="697.5" y="59.0" width="6" height="10" fill="#808080"/>
<rect x="697.5" y="1014.5" width="6" height="10" fill="#808080"/>
<rect x="828.0" y="50.0" width="6" height="19" fill="#808080"/>
<rect x="828.0" y="1014.5" width="6" height="19" fill="#808080"/>
<rect x="958.5" y="59.0" width="6" height="10" fill="#808080"/>
<rect x="958.5" y="1014.5" width="6" height="10" fill="#808080"/>
<rect x="1089.0" y="50.0" width="6" height="19" fill="#808080"/>
<rect x="1089.0" y="1014.5" width="6" height="19" fill="#808080"/>
<rect x="1219.0" y="59.0" width="2.7" height="10" fill="#c2c2c2"/>
<rect x="1221.7" y="59.0" width="3.7" height="10" fill="#383838"/>
<rect x="1219.0" y="1014.5" width="2.7" height="10" fill="#c2c2c2"/>
<rect x="1221.7" y="1014.5" width="3.7" height="10" fill="#383838"/>
<rect x="1349.5" y="50.0" width="2.7" height="19" fill="#c2c2c2"/>
<rect x="1352.2" y="50.0" width="3.7" height="19" fill="#383838"/>
<rect x="1349.5" y="1014.5" width="2.7" height="19" fill="#c2c2c2"/>
<rect x="1352.2" y="1014.5" width="3.7" height="19" fill="#383838"/>
<rect x="1480.0" y="59.0" width="2.7" height="10" fill="#c2c2c2"/>
<rect x="1482.7" y="59.0" width="3.7" height="10" fill="#383838"/>
<rect x="1480.0" y="1014.5" width="2.7" height="10" fill="#c2c2c2"/>
<rect x="1482.7" y="1014.5" width="3.7" height="10" fill="#383838"/>
<rect x="1610.5" y="50.0" width="2.7" height="19" fill="#c2c2c2"/>
<rect x="1613.2" y="50.0" width="3.7" height="19" fill="#383838"/>
<rect x="1610.5" y="1014.5" width="2.7" height="19" fill="#c2c2c2"/>
<rect x="1613.2" y="1014.5" width="3.7" height="19" fill="#383838"/>
<rect x="1741.0" y="59.0" width="2.7" height="10" fill="#c2c2c2"/>
<rect x="1743.7" y="59.0" width="3.7" height="10" fill="#383838"/>
<rect x="1741.0" y="1014.5" width="2.7" height="10" fill="#c2c2c2"/>
<rect x="1743.7" y="1014.5" width="3.7" height="10" fill="#383838"/>
<rect x="1871.5" y="50.0" width="2.7" height="19" fill="#c2c2c2"/>
<rect x="1874.2" y="50.0" width="3.7" height="19" fill="#383838"/>
<rect x="1871.5" y="1014.5" width="2.7" height="19" fill="#c2c2c2"/>
<rect x="1874.2" y="1014.5" width="3.7" height="19" fill="#383838"/>
<rect x="2002.0" y="59.0" width="2.7" height="10" fill="#c2c2c2"/>
<rect x="2004.7" y="59.0" width="3.7" height="10" fill="#383838"/>
<rect x="2002.0" y="1014.5" width="2.7" height="10" fill="#c2c2c2"/>
<rect x="2004.7" y="1014.5" width="3.7" height="10" fill="#383838"/>
<rect x="273.4" y="302.2" width="33" height="3.1" fill="#c2c2c2"/>
<rect x="273.4" y="305.3" width="33" height="3.1" fill="#7a7a7a"/>
<rect x="2138.7" y="302.2" width="34.5" height="3.1" fill="#c2c2c2"/>
<rect x="2138.7" y="305.3" width="34.5" height="3.1" fill="#7a7a7a"/>
<rect x="273.4" y="540.2" width="33" height="2.7" fill="#353535"/>
<rect x="2138.7" y="540.2" width="34.5" height="2.7" fill="#353535"/>
<rect x="273.4" y="774.9" width="33" height="3.1" fill="#c2c2c2"/>
<rect x="273.4" y="778.0" width="33" height="3.1" fill="#7a7a7a"/>
<rect x="2138.7" y="774.9" width="34.5" height="3.1" fill="#c2c2c2"/>
<rect x="2138.7" y="778.0" width="34.5" height="3.1" fill="#7a7a7a"/>
<rect x="306.1" y="50" width="6.1" height="984" fill="#808080"/>
<rect x="2132.4" y="50" width="2.8" height="984" fill="#c0c0c0"/>
<rect x="2135.2" y="50" width="3.5" height="984" fill="#383838"/>
<rect x="273.4" y="67.3" width="1899.6" height="3.3" fill="#383838"/>
<rect x="273.4" y="1013.2" width="1899.6" height="3.0" fill="#383838"/>
<text x="251.8" y="114.2" font-size="57.5" text-anchor="end">1.0</text>
<text x="251.8" y="331.3" font-size="57.5" text-anchor="end">0.5</text>
<text x="251.8" y="567.8" font-size="57.5" text-anchor="end">0.0</text>
<text x="251.8" y="803.5" font-size="57.5" text-anchor="end">-0.5</text>
<text x="251.8" y="1014.3" font-size="57.5" text-anchor="end">-1.0</text>
<text x="309.0" y="1130.0" font-size="57.5" text-anchor="middle">2002</text>
<text x="570.0" y="1130.0" font-size="57.5" text-anchor="middle">2004</text>
<text x="831.0" y="1130.0" font-size="57.5" text-anchor="middle">2006</text>
<text x="1092.0" y="1130.0" font-size="57.5" text-anchor="middle">2008</text>
<text x="1353.0" y="1130.0" font-size="57.5" text-anchor="middle">2010</text>
<text x="1614.0" y="1130.0" font-size="57.5" text-anchor="middle">2012</text>
<text x="1875.0" y="1130.0" font-size="57.5" text-anchor="middle">2014</text>
<text x="2136.0" y="1130.0" font-size="57.5" text-anchor="middle">2016</text>
<text x="1222.3" y="1214.5" font-size="58" text-anchor="middle">Year</text>
<text x="346" y="120.3" font-size="48.5">ACSPO R2.40, AVHRR GAC, Night Time, outlier retained</text>
<text x="368" y="183.2" font-size="40" fill="#00b400" textLength="152" lengthAdjust="spacingAndGlyphs">NOAA16</text>
<text x="578" y="183.2" font-size="40" fill="#00c8ff" textLength="152" lengthAdjust="spacingAndGlyphs">NOAA17</text>
<text x="789" y="183.2" font-size="40" fill="#ff0000" textLength="152" lengthAdjust="spacingAndGlyphs">NOAA18</text>
<text x="998" y="183.2" font-size="40" fill="#0000ff" textLength="160" lengthAdjust="spacingAndGlyphs">METOPA</text>
<text x="1208" y="183.2" font-size="40" fill="#ff9900" textLength="152" lengthAdjust="spacingAndGlyphs">NOAA19</text>
<text transform="translate(90.7,909.5) rotate(-90)" font-size="59" textLength="363.1" lengthAdjust="spacingAndGlyphs" xml:space="preserve">Mean,  Reg_V</text>
<text transform="translate(90.7,532.2) rotate(-90)" font-size="59" xml:space="preserve">-</text>
<text transform="translate(90.7,497.9) rotate(-90)" font-size="59" textLength="174.1" lengthAdjust="spacingAndGlyphs" xml:space="preserve">(Drifter</text>
<text transform="translate(96.2,321.5) rotate(-90)" font-size="72" xml:space="preserve">+</text>
<text transform="translate(90.7,276.9) rotate(-90)" font-size="59" textLength="98.9" lengthAdjust="spacingAndGlyphs" xml:space="preserve">TM)</text>
<clipPath id="gcl1309"><circle cx="1815" cy="2207.8" r="109"/></clipPath>
<circle cx="1815" cy="2207.8" r="109" fill="url(#gsea)"/>
<g clip-path="url(#gcl1309)" fill="#ededed">
<path d="M1807.0,2124.5 L1830.5,2120.6 L1863.2,2124.5 L1889.3,2133.7 L1908.9,2144.1 L1916.7,2162.4 L1911.5,2178.0 L1898.4,2185.9 L1843.6,2188.5 L1791.4,2188.5 L1783.5,2175.4 L1786.2,2153.2 L1796.6,2136.3 Z"/>
<path d="M1843.6,2185.9 L1898.4,2185.9 L1903.6,2201.5 L1901.0,2225.0 L1893.2,2248.5 L1880.1,2268.1 L1863.2,2279.9 L1854.0,2274.6 L1850.1,2251.1 L1846.2,2225.0 L1842.3,2205.5 Z"/>
<path d="M1700.0,2179.3 L1732.6,2183.3 L1743.1,2193.7 L1744.4,2212.0 L1741.8,2232.9 L1739.2,2253.7 L1733.9,2266.8 L1700.0,2270.7 Z"/>
</g>
<text x="1713.5" y="2225.3" font-size="55" fill="#c9c9c9" stroke="#ffffff" stroke-width="0.8" textLength="212" lengthAdjust="spacingAndGlyphs">SQUAM</text>
<circle cx="2025.5" cy="2209.0" r="114" fill="#ffffff" fill-opacity="0.55"/>
<circle cx="2025.5" cy="2209.0" r="107" fill="none" stroke="#d9e2ee" stroke-width="13" stroke-dasharray="3 2 5 2 2 3 6 2 3 4 4 2 2 5" opacity="0.55"/>
<circle cx="2025.5" cy="2209.0" r="98" fill="none" stroke="#ffffff" stroke-width="3"/>
<clipPath id="ncl1309"><ellipse cx="2024.5" cy="2209.7" rx="94.5" ry="96.8"/></clipPath>
<ellipse cx="2024.5" cy="2209.7" rx="94.5" ry="96.8" fill="#cdebf8"/>
<g clip-path="url(#ncl1309)">
<path d="M1900.0,2089.5 L2150.0,2089.5 L2150.0,2145.5 L2098.7,2147.5 L2033.0,2222.5 L2022.0,2228.0 L2012.0,2224.5 L1945.4,2149.5 L1900.0,2147.5 Z" fill="#cddff0"/>
<path d="M1900.0,2145.5 L1945.4,2149.5 L2012.0,2224.5 L2022.0,2228.0 L2033.0,2222.5 L2098.7,2147.5 L2150.0,2139.5 L2150.0,2160.5 L2118.9,2162.5 L2048.0,2225.2 L2063.4,2229.8 L2063.4,2233.1 L2035.0,2234.0 L2018.3,2232.0 L1991.0,2220.0 L1930.9,2186.1 L1900.0,2183.5 Z" fill="#ffffff"/>
<path d="M2063.4,2229.8 L2063.4,2233.1 L1993.5,2250.8 L1989.6,2250.0 L1991.0,2248.1 L2040.0,2232.5 Z" fill="#ffffff"/>
</g>
<text x="2021" y="2175.3" font-size="35" font-weight="bold" fill="#f3f7fc" text-anchor="middle" textLength="78" lengthAdjust="spacingAndGlyphs">NOAA</text>
<line x1="570.0" y1="1378.5" x2="570.0" y2="2324.0" stroke="#f6f6dc" stroke-width="3" stroke-dasharray="11 6" fill="none"/>
<line x1="831.0" y1="1378.5" x2="831.0" y2="2324.0" stroke="#f6f6dc" stroke-width="3" stroke-dasharray="11 6" fill="none"/>
<line x1="1092.0" y1="1378.5" x2="1092.0" y2="2324.0" stroke="#f6f6dc" stroke-width="3" stroke-dasharray="11 6" fill="none"/>
<line x1="1353.0" y1="1378.5" x2="1353.0" y2="2324.0" stroke="#f6f6dc" stroke-width="3" stroke-dasharray="11 6" fill="none"/>
<line x1="1614.0" y1="1378.5" x2="1614.0" y2="2324.0" stroke="#f6f6dc" stroke-width="3" stroke-dasharray="11 6" fill="none"/>
<line x1="1875.0" y1="1378.5" x2="1875.0" y2="2324.0" stroke="#f6f6dc" stroke-width="3" stroke-dasharray="11 6" fill="none"/>
<line x1="309" y1="1616.1" x2="2136" y2="1616.1" stroke="#f6f6dc" stroke-width="3" stroke-dasharray="11 6" fill="none"/>
<line x1="309" y1="1851.2" x2="2136" y2="1851.2" stroke="#f6f6dc" stroke-width="3" stroke-dasharray="11 6" fill="none"/>
<line x1="309" y1="2087.6" x2="2136" y2="2087.6" stroke="#f6f6dc" stroke-width="3" stroke-dasharray="11 6" fill="none"/>
<polyline fill="none" stroke="none" marker-start="url(#mcyan)" marker-mid="url(#mcyan)" marker-end="url(#mcyan)" points="396,1971 397,2027 397,1990 397,1993 397,1932 398,2032 398,1936 398,1919 398,1945 398,1977 399,1975 399,1925 399,2036 399,1963 399,1964 400,1991 400,1952 400,1971 400,1950 401,1899 401,1911 401,1963 401,1924 401,2013 402,1999 402,2001 402,1972 402,1994 402,1949 403,1988 403,1949 403,1974 403,1982 404,1998 404,2010 404,1976 404,1906 404,1947 405,1959 405,1983 405,1933 405,1994 405,1946 406,1977 406,1985 406,2003 406,1929 407,1966 407,1956 407,1950 407,1944 407,1961 408,1953 408,1992 408,1938 408,1980 408,1987 409,1948 409,1977 409,1996 409,1976 410,1993 410,1940 410,1912 410,1938 410,2011 411,1995 411,1946 411,1901 411,1951 411,1928 412,1980 412,1921 412,1997 412,1921 413,1967 413,1937 413,1951 413,2010 413,1912 414,1942 414,1953 414,1975 414,1954 414,2019 415,1898 415,1960 415,1939 415,1887 416,1989 416,1995 416,2001 416,1922 416,1974 417,1973 417,1970 417,1960 417,1931 417,1952 418,1977 418,2012 418,1989 418,1963 419,1975 419,1989 419,1954 419,1957 419,1944 420,1972 420,1997 420,1953 420,1942 420,1941 421,1940 421,1946 421,1943 421,1935 422,1910 422,1929 422,1941 422,1984 422,1952 423,1959 423,2003 423,1949 423,1935 423,1988 424,1968 424,1960 424,1924 424,1970 425,1933 425,1968 425,1997 425,1885 425,2008 426,1939 426,2024 426,2009 426,1954 426,1993 427,1944 427,1945 427,1982 427,2003 428,1926 428,1957 428,1980 428,1936 428,1978 429,1942 429,1925 429,2034 429,1863 429,2006 430,1932 430,1990 430,1970 430,1934 431,1974 431,1905 431,1947 431,1967 431,1950 432,1974 432,1995 432,1922 432,1969 432,1886 433,1904 433,1960 433,1885 433,1909 434,1907 434,1927 434,1972 434,1949 434,1962 435,1932 435,1905 435,1934 435,1935 435,1912 436,1990 436,2005 436,1937 436,1925 437,1961 437,1943 437,2027 437,1952 437,1956 438,1951 438,1898 438,1939 438,1992 438,1961 439,1931 439,1971 439,1967 439,2009 440,1976 440,1922 440,1957 440,1928 440,2010 441,1960 441,1955 441,1958 441,1929 441,2021 442,1930 442,2007 442,1925 442,1913 443,2012 443,1958 443,1938 443,1976 443,1960 444,1961 444,1974 444,1996 444,1969 444,1938 445,1972 445,1935 445,1955 445,2002 446,1897 446,1931 446,1929 446,1978 446,1961 447,1859 447,1978 447,1954 447,1935 447,1966 448,1937 448,1973 448,1983 448,1903 449,1976 449,1969 449,1931 449,1939 449,1904 450,1969 450,1939 450,1951 450,1911 450,1980 451,1913 451,1971 451,1909 451,1921 452,1994 452,1919 452,1968 452,1908 452,1936 453,1921 453,1996 453,1944 453,1962 453,1932 454,1955 454,1998 454,2013 454,1952 455,1975 455,1950 455,1940 455,1963 455,2017 456,1900 456,1890 456,1942 456,1928 456,1942 457,1909 457,1969 457,1952 457,1906 458,1971 458,1894 458,1977 458,1973 458,2023 459,1967 459,1922 459,1944 459,2023 459,1944 460,1908 460,1908 460,1987 460,1983 461,1932 461,1949 461,1971 461,1963 461,1973 462,1931 462,1991 462,1933 462,1937 462,1963 463,1989 463,1921 463,1912 463,1966 464,1987 464,1933 464,1892 464,1947 464,1919 465,1931 465,2015 465,1955 465,1962 465,1951 466,1939 466,1913 466,1952 466,1889 467,1908 467,1963 467,1891 467,1920 467,1934 468,1918 468,1934 468,1937 468,1907 468,1876 469,1941 469,1959 469,1937 469,1910 470,1973 470,1929 470,1947 470,1941 470,1924 471,1882 471,1973 471,1969 471,1894 471,1936 472,1947 472,1880 472,2015 472,1963 473,1946 473,1884 473,1924 473,1967 473,1875 474,1972 474,1850 474,1948 474,1946 474,1879 475,1887 475,1886 475,1929 475,1907 476,1933 476,1929 476,1959 476,1946 476,1925 477,1946 477,1875 477,1953 477,1930 477,1915 478,1944 478,1926 478,1936 478,1925 479,1941 479,1909 479,1914 479,1922 479,1890 480,1938 480,1994 480,1927 480,1896 480,1966 481,1879 481,1951 481,1956 481,1949 482,1949 482,1913 482,1907 482,1919 482,1912 483,1925 483,1946 483,1895 483,1869 483,1978 484,1928 484,1940 484,1861 484,1958 485,1902 485,1952 485,1965 485,1921 485,1952 486,1931 486,1913 486,1903 486,1884 486,1890 487,1950 487,1872 487,1934 487,1930 488,1977 488,1947 488,1915 488,1943 488,1876 489,1909 489,1921 489,1904 489,1942 489,1965 490,1928 490,1947 490,1914 490,1926 491,1937 491,1939 491,1906 491,1881 491,1919 492,1880 492,1923 492,1914 492,1931 492,1907 493,1937 493,1917 493,1909 493,1936 494,1925 494,1883 494,1894 494,1899 494,1992 495,1908 495,1923 495,1988 495,1969 495,1895 496,1975 496,1938 496,1974 496,1969 497,1909 497,1894 497,1946 497,1921 497,1935 498,1919 498,1853 498,1898 498,1894 498,1882 499,1909 499,2001 499,1936 499,1960 500,1963 500,1944 500,1908 500,1869 500,1974 501,1955 501,1916 501,1945 501,1955 501,1935 502,1889 502,1909 502,1947 502,1925 503,1968 503,1893 503,1958 503,1931 503,1906 504,1917 504,1933 504,1943 504,1896 504,1871 505,1894 505,1898 505,1884 505,1923 506,1922 506,1923 506,1919 506,1914 506,1966 507,1904 507,1966 507,1938 507,1946 507,1989 508,1933 508,1942 508,1873 508,1899 509,1961 509,1928 509,1919 509,1921 509,1968 510,1910 510,1992 510,1969 510,1946 510,1915 511,1942 511,1978 511,1941 511,1924 512,1887 512,1899 512,1940 512,1944 512,1892 513,1925 513,1933 513,1956 513,1907 513,1946 514,1935 514,1925 514,1956 514,1950 515,1954 515,1929 515,1925 515,1911 515,1937 516,1939 516,1926 516,1916 516,1942 516,1881 517,1931 517,1937 517,1908 517,1926 518,1954 518,1931 518,1890 518,1882 518,1884 519,1943 519,1895 519,1935 519,1885 519,1926 520,1937 520,1943 520,1908 520,1919 521,1922 521,1908 521,1891 521,1877 521,1934 522,1877 522,1951 522,1926 522,1871 522,1893 523,1975 523,1885 523,1958 523,1938 524,1948 524,1890 524,1915 524,1959 524,1969 525,1961 525,1942 525,1945 525,1946 525,1904 526,1943 526,1988 526,1977 526,1942 527,1954 527,1974 527,1898 527,1926 527,1956 528,1951 528,1928 528,2030 528,1952 528,1980 529,1913 529,1920 529,1936 529,1961 530,1945 530,1963 530,1945 530,1930 530,1885 531,1925 531,1957 531,1959 531,1901 531,1974 532,1864 532,1924 532,1993 532,1956 533,1918 533,1947 533,1940 533,1961 533,1988 534,1974 534,1925 534,1912 534,1961 534,1934 535,1921 535,1956 535,1920 535,1957 536,1942 536,1928 536,1995 536,1945 536,1919 537,1966 537,1982 537,1967 537,1904 537,1993 538,1909 538,1980 538,2011 538,1984 539,1959 539,1967 539,1932 539,1918 539,1999 540,1956 540,1983 540,2003 540,1940 540,1996 541,1949 541,1967 541,2033 541,2008 542,1960 542,1958 542,2025 542,1898 542,1955 543,1973 543,1953 543,1990 543,1954 543,1947 544,2011 544,1988 544,1837 544,1958 545,1972 545,1986 545,1983 545,1963 545,1965 546,1918 546,1969 546,2007 546,1979 546,1962 547,1954 547,1966 547,2000 547,1967 548,1892 548,1946 548,1920 548,1974 548,1988 549,1919 549,1952 549,1980 549,1922 549,1970 550,2000 550,1979 550,1962 550,1927 551,2004 551,1882 551,1970 551,1943 551,1946 552,1948 552,1911 552,1946 552,1959 552,1979 553,1958 553,1911 553,1871 553,1987 554,1922 554,1923 554,1920 554,1955 554,1913 555,1966 555,1908 555,1983 555,2001 556,1958 556,1933 556,1954 556,1957 556,1905 557,1923 557,2001 557,1942 557,1950 557,1901 558,1932 558,1943 558,1959 558,1984 559,1954 559,1892 559,1923 559,1911 559,1941 560,1893 560,1932 560,1930 560,1944 560,1949 561,1922 561,1959 561,1972 561,1935 562,1938 562,1941 562,1937 562,1945 562,1906 563,1991 563,1977 563,1944 563,1951 563,1908 564,1992 564,1897 564,1963 564,1928 565,1957 565,1925 565,1947 565,1964 565,1942 566,1957 566,1941 566,1950 566,1918 566,1899 567,1913 567,1926 567,1922 567,1901 568,1935 568,1904 568,1998 568,1938 568,1923 569,1952 569,1945 569,1967 569,1933 569,1939 570,1889 570,1944 570,1987 570,1919 571,1973 571,1926 571,1910 571,1944 571,1929 572,1943 572,1950 572,2001 572,1977 572,2012 573,1933 573,1956 573,1969 573,2005 574,1936 574,1961 574,1957 574,1953 574,1975 575,1965 575,1950 575,2013 575,1959 575,1961 576,1929 576,1926 576,1982 576,1955 577,1902 577,1924 577,1957 577,1934 577,1986 578,1980 578,1900 578,1996 578,1959 578,1938 579,1904 579,1988 579,2011 579,1916 580,1934 580,1953 580,1955 580,1934 580,1970 581,1963 581,2010 581,1928 581,1937 581,1966 582,1967 582,1930 582,1979 582,1939 583,1963 583,1953 583,1953 583,1874 583,1970 584,2003 584,1953 584,1971 584,1889 584,1933 585,1951 585,1986 585,1983 585,1921 586,1938 586,1920 586,1923 586,1893 586,1883 587,1951 587,1930 587,1925 587,1968 587,1959 588,1956 588,1964 588,1964 588,1943 589,1976 589,1950 589,1930 589,1960 589,2001 590,1954 590,1957 590,2004 590,1956 590,2009 591,1971 591,1912 591,1930 591,1928 592,1967 592,1901 592,1946 592,1926 592,1997 593,1967 593,1990 593,1951 593,1982 593,1943 594,1927 594,1967 594,1995 594,1955 595,1954 595,1952 595,1962 595,1908 595,1961 596,1956 596,1951 596,1912 596,1931 596,1957 597,2002 597,1892 597,1922 597,1921 598,1986 598,1937 598,1979 598,1980 598,1961 599,1993 599,1945 599,1935 599,1975 599,1952 600,1907 600,1986 600,1964 600,1909 601,1949 601,1953 601,1956 601,1913 601,1936 602,2004 602,1926 602,1998 602,1924 602,1921 603,1976 603,1925 603,1932 603,1926 604,1947 604,1923 604,1919 604,1901 604,1906 605,1927 605,1906 605,1913 605,1960 605,1938 606,1922 606,1940 606,1981 606,1919 607,1962 607,1929 607,1938 607,1969 607,1981 608,1977 608,1942 608,1965 608,1999 608,1982 609,1966 609,1951 609,1942 609,1953 610,1927 610,1919 610,1952 610,1964 610,1945 611,1938 611,1981 611,1929 611,1971 611,1962 612,1918 612,1955 612,1886 612,1931 613,1950 613,1916 613,1966 613,1979 613,2002 614,1974 614,1982 614,1994 614,2015 614,2003 615,1947 615,1953 615,1919 615,1932 616,1947 616,1927 616,1911 616,2037 616,2023 617,1959 617,1896 617,1990 617,1991 617,1947 618,1985 618,1978 618,1966 618,1943 619,1991 619,1906 619,1966 619,1956 619,1944 620,1989 620,1966 620,1991 620,1955 620,1939 621,1954 621,1988 621,1971 621,1913 622,1934 622,1956 622,1951 622,2038 622,1951 623,1962 623,1961 623,1964 623,1985 623,1960 624,1901 624,2004 624,1937 624,1904 625,1951 625,1939 625,2005 625,1960 625,1908 626,2000 626,2020 626,1978 626,1957 626,1961 627,1917 627,2003 627,2014 627,1932 628,1966 628,1921 628,1963 628,1922 628,1970 629,1948 629,1946 629,1889 629,1972 629,1962 630,1944 630,1964 630,1979 630,1934 631,2019 631,2009 631,2017 631,1975 631,1943 632,1940 632,1913 632,1926 632,1957 632,1947 633,1919 633,1867 633,1904 633,2023 634,1921 634,1888 634,1976 634,1964 634,1984 635,1978 635,1918 635,1906 635,1989 635,2006 636,1966 636,1963 636,2021 636,1980 637,1977 637,1970 637,1946 637,2002 637,1926 638,1938 638,1954 638,1955 638,1910 638,1942 639,1940 639,1931 639,1954 639,1937 640,1998 640,1949 640,1992 640,1989 640,1957 641,2014 641,1969 641,1964 641,2020 641,1944 642,1947 642,1954 642,1969 642,1986 643,2018 643,1962 643,2018 643,1965 643,1996 644,1984 644,1910 644,1945 644,1943 644,1951 645,2006 645,1955 645,1973 645,1973 646,1974 646,1955 646,1941 646,1981 646,1940 647,1985 647,1943 647,1971 647,1923 647,1993 648,1991 648,2012 648,1955 648,1962 649,2001 649,1988 649,1998 649,2013 649,1996 650,1935 650,1976 650,1991 650,2008 650,1987 651,2023 651,1987 651,2016 651,1991 652,1959 652,1979 652,1988 652,1952 652,1977 653,2010 653,1938 653,1913 653,1974 653,2017 654,1933 654,1911 654,1949 654,1971 655,1973 655,1974 655,1914 655,1972 655,2003 656,1989 656,1980 656,2002 656,2017 656,2005 657,2002 657,1976 657,1962 657,1877 658,1968 658,1988 658,1969 658,1952 658,1970 659,1978 659,1914 659,1999 659,1882 659,1990 660,1926 660,1909 660,1948 660,1999 661,1970 661,1887 661,1947 661,1946 661,1948 662,1977 662,1951 662,1921 662,1935 662,1989 663,1947 663,2037 663,1974 663,1949 664,1953 664,1942 664,1965 664,1951 664,1947 665,1920 665,2002 665,1889 665,2004 665,1948 666,1992 666,1932 666,1959 666,1936 667,1921 667,1897 667,1873 667,1952 667,1967 668,1909 668,1955 668,1953 668,1866 668,1929 669,1977 669,1962 669,1893 669,1942 670,1990 670,1967 670,1965 670,1928 670,1996 671,1919 671,1900 671,1967 671,1934 671,1927 672,1939 672,1983 672,2000 672,1979 673,1978 673,1982 673,1924 673,1953 673,1926 674,1936 674,1934 674,1996 674,1964 674,1902 675,1925 675,1975 675,1975 675,1967 676,2025 676,2030 676,1933 676,1964 676,1898 677,1892 677,1890 677,1975 677,1929 677,1950 678,1913 678,1932 678,1955 678,1915 679,1902 679,1905 679,1957 679,1860 679,1938 680,1897 680,1959 680,1917 680,1966 680,1947 681,1898 681,1875 681,1913 681,1933 682,1986 682,1885 682,1922 682,1951 682,1978 683,1993 683,1966 683,1941 683,1861 683,1975 684,2015 684,1944 684,1966 684,1936 685,1927 685,1891 685,1942 685,1850 685,1937 686,1896 686,1949 686,1942 686,1946 686,1914 687,1982 687,1931 687,1924 687,1967 688,1952 688,1933 688,1961 688,1977 688,1949 689,1961 689,1961 689,1919 689,1924 689,1985 690,1933 690,1960 690,1997 690,1985 691,1928 691,1933 691,1953 691,2013 691,1941 692,1930 692,1970 692,1938 692,1927 692,1894 693,1965 693,1935 693,1915 693,1917 694,1956 694,1982 694,1949 694,1953 694,1935 695,2010 695,1986 695,1925 695,1963 695,1974 696,1914 696,1981 696,1927 696,1941 697,1927 697,1920 697,1970 697,1950 697,1914 698,1944 698,1950 698,1905 698,1932 698,1924 699,2019 699,1847 699,1880 699,2007 700,1928 700,1926 700,1930 700,1982 700,1930 701,1921 701,1945 701,2003 701,2005 701,1987 702,2013 702,1938 702,1923 702,1933 703,1930 703,1961 703,2021 703,1961 703,1969 704,1927 704,1928 704,2008 704,1915 704,1907 705,1913 705,1958 705,1943 705,1977 706,1991 706,1874 706,1959 706,1937 706,1990 707,1889 707,1888 707,1869 707,1953 707,1928 708,1848 708,1885 708,1939 708,1921 709,1873 709,1910 709,1938 709,1925 709,1981 710,1957 710,1973 710,1938 710,1966 710,1934 711,1966 711,1937 711,2021 711,1949 712,1942 712,1915 712,1924 712,1982 712,1920 713,1911 713,1917 713,1958 713,1932 713,1901 714,1880 714,1941 714,1933 714,1984 715,1924 715,1893 715,1940 715,1963 715,1952 716,1945 716,1978 716,1925 716,1946 716,1921 717,1955 717,2001 717,1992 717,1934 718,1958 718,1961 718,1919 718,1915 718,1971 719,1949 719,2020 719,1960 719,1958 719,1903 720,1914 720,1918 720,1968 720,1964 721,1892 721,1910 721,1888 721,1949 721,1899 722,1921 722,1925 722,1901 722,1977 722,1966 723,1876 723,1920 723,1921 723,1948 724,1959 724,1929 724,1945 724,1905 724,1910 725,1911 725,1932 725,1926 725,1904 725,2033 726,1988 726,2003 726,2006 726,1967 727,1877 727,1951 727,1954 727,1945 727,1952 728,1902 728,1949 728,1960 728,1940 728,1958 729,1908 729,1925 729,1931 729,1961 730,1976 730,1976 730,1935 730,1933 730,1929 731,2023 731,1884 731,1903 731,1953 732,1892 732,1945 732,1914 732,2016 732,1962 733,1943 733,1945 733,1878 733,1943 733,1961 734,1935 734,1895 734,1930 734,1987 735,1916 735,1939 735,1904 735,1961 735,1946 736,1988 736,1940 736,1902 736,1991 736,1923 737,1961 737,1944 737,1973 737,1939 738,1940 738,1949 738,1996 738,1938 738,1893 739,1917 739,1977 739,2041 739,1957 739,1923 740,1955 740,1964 740,1930 740,1957 741,1922 741,1938 741,1932 741,1842 741,1969 742,1903 742,1957 742,1955 742,1983 742,1928 743,1923 743,1945 743,1971 743,1965 744,1919 744,1935 744,1983 744,1957 744,1971 745,1950 745,1966 745,2001 745,1957 745,1965 746,1991 746,1940 746,1938 746,1914 747,1979 747,1972 747,2010 747,1916 747,1935 748,1915 748,1907 748,1908 748,1960 748,1952 749,1916 749,1840 749,1963 749,1959 750,1970 750,1979 750,1986 750,1914 750,1933 751,1974 751,1988 751,2005 751,1958 751,1975 752,2020 752,1958 752,1868 752,1939 753,1967 753,1993 753,1932 753,1948 753,1965 754,1962 754,1926 754,1966 754,1965 754,1988 755,1973 755,1952 755,2011 755,1988 756,1981 756,1937 756,1945 756,1885 756,1907 757,1926"/>
<polyline fill="none" stroke="none" marker-start="url(#mred)" marker-mid="url(#mred)" marker-end="url(#mred)" points="758,1897 758,1923 758,1953 759,1994 759,1889 759,1932 759,1917 759,1940 760,2008 760,1923 760,1920 760,1866 760,1956 761,1909 761,1934 761,1918 761,1914 762,1934 762,1923 762,1897 762,1945 762,1974 763,1966 763,1885 763,1906 763,1952 763,1910 764,1897 764,1862 764,1891 764,1924 765,1973 765,1941 765,1921 765,1950 765,1936 766,1916 766,1928 766,1920 766,1939 766,1954 767,1875 767,1973 767,1924 767,1951 768,2011 768,1959 768,1951 768,1930 768,1937 769,1956 769,1907 769,1963 769,1945 769,1932 770,1920 770,1946 770,1964 770,1941 771,1972 771,1960 771,1937 771,1928 771,1973 772,1921 772,1923 772,1931 772,1908 772,1951 773,1891 773,1932 773,1944 773,1886 774,1986 774,1965 774,1907 774,1918 774,1892 775,1965 775,1969 775,1898 775,1951 775,1945 776,1983 776,1977 776,1972 776,1977 777,1936 777,1933 777,1911 777,1946 777,1925 778,1940 778,1951 778,1951 778,1931 778,1970 779,1938 779,1971 779,1972 779,1969 780,1939 780,1943 780,1911 780,1935 780,1959 781,1928 781,1940 781,1961 781,1933 782,1934 782,1962 782,1891 782,1957 782,1951 783,1947 783,1932 783,1895 783,1868 783,1967 784,1940 784,1946 784,1949 784,1962 785,1944 785,1876 785,1925 785,1925 785,1960 786,1943 786,1930 786,1944 786,1984 786,1940 787,1949 787,1899 787,1924 787,1945 788,1962 788,1968 788,1890 788,1942 788,1954 789,1928 789,1955 789,1963 789,1903 789,1936 790,1915 790,1861 790,1953 790,1880 791,1965 791,1985 791,1937 791,1946 791,1896 792,1957 792,1911 792,1943 792,1915 792,1943 793,1971 793,1900 793,1902 793,1910 794,1959 794,1905 794,1894 794,1883 794,1904 795,1965 795,1897 795,1948 795,1984 795,1938 796,1914 796,1889 796,1925 796,1940 797,1932 797,1970 797,1886 797,1956 797,1949 798,1982 798,1945 798,1902 798,1976 798,1978 799,1942 799,1903 799,1928 799,1944 800,1991 800,1920 800,1948 800,1886 800,1932 801,1857 801,1878 801,1927 801,1900 801,1930 802,1976 802,1921 802,1890 802,1949 803,1933 803,1901 803,1925 803,1973 803,1973 804,1894 804,1913 804,1951 804,1979 804,1971 805,1874 805,1890 805,1967 805,1983 806,1957 806,1950 806,1993 806,1975 806,1948 807,1930 807,1907 807,1854 807,1907 807,1950 808,1952 808,1897 808,1977 808,1881 809,1895 809,1909 809,1901 809,1948 809,1918 810,1891 810,1911 810,1922 810,1945 810,1927 811,1934 811,1940 811,1944 811,1986 812,1953 812,1927 812,1940 812,1940 812,1923 813,1958 813,1935 813,1932 813,1908 813,1924 814,1960 814,1939 814,1965 814,1959 815,1946 815,1953 815,1869 815,1960 815,1922 816,1960 816,1888 816,1933 816,1922 816,1947 817,1883 817,1920 817,1940 817,1949 818,1919 818,1938 818,1962 818,1905 818,1906 819,1902 819,1932 819,1967 819,1946 819,1962 820,1972 820,1889 820,1970 820,1976 821,2000 821,1908 821,1924 821,1922 821,1940 822,1903 822,1902 822,1944 822,1983 822,1933 823,1955 823,1945 823,1927 823,1929 824,1936 824,1922 824,1929 824,1941 824,1949 825,1996 825,1921 825,1985 825,1937 825,1973 826,1947 826,1917 826,1964 826,1965 827,1958 827,1928 827,1934 827,1924 827,1923 828,2005 828,1918 828,1946 828,1956 828,1973 829,2015 829,1910 829,1906 829,1953 830,1974 830,1961 830,1950 830,1942 830,1963 831,1944 831,1912 831,1963 831,1970 831,2023 832,1907 832,1901 832,1976 832,1923 833,1943 833,1978 833,1968 833,1947 833,1959 834,1947 834,1966 834,1971 834,1957 834,1890 835,1952 835,1931 835,1935 835,1970 836,1931 836,1943 836,1936 836,1916 836,1877 837,1859 837,1954 837,1984 837,1898 837,1956 838,1959 838,1956 838,1956 838,2014 839,1939 839,1935 839,1945 839,1968 839,1933 840,1932 840,1885 840,1896 840,1925 840,1934 841,1934 841,1909 841,1868 841,1890 842,1891 842,1957 842,1951 842,1947 842,1922 843,1933 843,1913 843,1925 843,1960 843,1939 844,1999 844,1946 844,1925 844,1901 845,1928 845,1912 845,1937 845,1884 845,1907 846,1865 846,1927 846,1892 846,1928 846,1928 847,1963 847,1935 847,1965 847,1928 848,1892 848,1913 848,1974 848,1999 848,1928 849,1992 849,1943 849,1940 849,1971 849,1939 850,1952 850,1911 850,1964 850,1947 851,2000 851,1978 851,1953 851,1930 851,1942 852,1943 852,1920 852,1893 852,1933 852,1957 853,1966 853,1879 853,1967 853,2000 854,1902 854,1972 854,1927 854,1928 854,1958 855,1928 855,1880 855,1898 855,1917 855,1933 856,1962 856,1955 856,1956 856,1939 857,1992 857,1988 857,1930 857,1966 857,1917 858,1947 858,1906 858,1947 858,1970 858,1950 859,1903 859,1916 859,1948 859,1923 860,1970 860,1896 860,1987 860,1955 860,1981 861,1978 861,1979 861,1946 861,1960 861,1940 862,2004 862,1998 862,1948 862,1984 863,1932 863,1943 863,1932 863,2003 863,1949 864,1955 864,1937 864,1974 864,1975 864,1897 865,1999 865,1915 865,1935 865,1901 866,1954 866,1945 866,1920 866,1972 866,1913 867,1913 867,1951 867,1910 867,1931 867,1985 868,1932 868,2000 868,1974 868,1951 869,1901 869,1925 869,1917 869,1939 869,1978 870,1939 870,1903 870,1895 870,1975 870,1978 871,1955 871,1888 871,1946 871,1977 872,1940 872,1946 872,1969 872,1933 872,1929 873,1928 873,1978 873,1961 873,1935 873,1949 874,1934 874,1965 874,1934 874,1986 875,1926 875,1917 875,1950 875,1957 875,1964 876,1962 876,1987 876,1965 876,1927 876,1965 877,1987 877,1943 877,1937 877,1908 878,1939 878,1948 878,1955 878,1973 878,1934 879,1949 879,1936 879,1970 879,1937 879,1994 880,1928 880,1932 880,1971 880,1980 881,1959 881,1904 881,1927 881,1949 881,1907 882,1959 882,1914 882,1963 882,1930 882,1966 883,1907 883,1962 883,1949 883,1929 884,1886 884,1931 884,1918 884,1948 884,1956 885,1972 885,1972 885,1977 885,1973 885,1962 886,1969 886,1942 886,1968 886,1975 887,1959 887,1952 887,2000 887,1970 887,1964 888,1963 888,1956 888,1979 888,1932 888,1920 889,1946 889,2000 889,1970 889,1934 890,1973 890,1955 890,1954 890,2003 890,1954 891,2008 891,1965 891,1939 891,1968 891,1962 892,1944 892,1952 892,1964 892,1980 893,1932 893,1934 893,1969 893,1942 893,1976 894,1934 894,1934 894,2017 894,1966 894,1962 895,1947 895,1990 895,1985 895,1968 896,1939 896,1982 896,1949 896,1953 896,1964 897,2012 897,1937 897,1980 897,1985 897,1926 898,1999 898,1915 898,1965 898,2025 899,1919 899,1909 899,1892 899,1996 899,1947 900,1970 900,1970 900,1938 900,1908 900,1989 901,1962 901,1981 901,1962 901,2010 902,1911 902,1930 902,1935 902,1969 902,1966 903,1970 903,1977 903,1929 903,1959 903,2009 904,1975 904,1936 904,1980 904,1933 905,2006 905,1914 905,1975 905,1979 905,1941 906,1980 906,1983 906,1912 906,1885 906,1925 907,1989 907,2008 907,1933 907,1889 908,1928 908,1949 908,1989 908,1944 908,1938 909,1954 909,1980 909,1983 909,1936 909,1953 910,1980 910,1930 910,1959 910,1959 911,1969 911,1934 911,1977 911,1937 911,2007 912,1966 912,1961 912,1967 912,1924 912,1957 913,1969 913,2048 913,1974 913,2011 914,1967 914,1984 914,1941 914,1939 914,1963 915,1946 915,2015 915,1920 915,1985 915,1934 916,1936 916,1914 916,1986 916,1979 917,1917 917,1964 917,1947 917,1975 917,1985 918,1957 918,1926 918,2002 918,1995 918,1984 919,1953 919,1978 919,1983 919,1945 920,1964 920,1959 920,1903 920,1974 920,1950 921,1945 921,1933 921,1956 921,1902 921,1901 922,1923 922,1931 922,1954 922,1970 923,1968 923,1919 923,1950 923,1966 923,1942 924,1979 924,1916 924,1908 924,1974 924,1922 925,1968 925,1971 925,1933 925,1968 926,1958 926,2002 926,1941 926,1926 926,1942 927,1932 927,1878 927,1928 927,1941 927,1924 928,1944 928,1900 928,1938 928,1920 929,1948 929,1938 929,1933 929,1924 929,1923 930,1921 930,1947 930,1942 930,1923 930,1915 931,1984 931,1936 931,1905 931,1953 932,1915 932,1903 932,1914 932,2005 932,1945 933,1895 933,1979 933,1878 933,1899 933,1916 934,1957 934,1961 934,1935 934,1939 935,1905 935,1928 935,1934 935,1894 935,1947 936,1917 936,1948 936,1959 936,1936 936,1892 937,1869 937,1913 937,1904 937,1840 938,1893 938,1906 938,1963 938,1924 938,1936 939,1920 939,1975 939,1916 939,1960 939,1943 940,1923 940,1914 940,1932 940,1918 941,1929 941,1983 941,1919 941,1873 941,1908 942,1877 942,1970 942,1927 942,2011 942,1965 943,1924 943,1914 943,1915 943,1905 944,1949 944,1981 944,1907 944,1928 944,1903 945,1942 945,1880 945,1907 945,1952 945,1930 946,1976 946,1936 946,1930 946,1965 947,1942 947,1946 947,1971 947,1959 947,1901 948,1936 948,1973 948,1904 948,1889 948,1901 949,1903 949,1943 949,1927 949,1949 950,1924 950,1944 950,1958 950,1960 950,1926 951,1941 951,1966 951,1986 951,1982 951,1891 952,1968 952,1938 952,1899 952,1981 953,1975 953,1983 953,1920 953,1974 953,1906 954,1974 954,1953 954,1972 954,1957 955,1954 955,1947 955,1986 955,1927 955,1966 956,1894 956,1966 956,1927 956,1932 956,1938 957,1907 957,1971 957,1983 957,1925 958,1898 958,1998 958,1946 958,1974 958,1925 959,1918 959,1947 959,1939 959,1946 959,1906 960,1961 960,1969 960,1988 960,1989 961,1970 961,1982 961,1951 961,1957 961,1916 962,1971 962,1901 962,1921 962,1970 962,1932 963,1973 963,1936 963,1948 963,1928 964,1951 964,1976 964,1967 964,1972 964,1944 965,2017 965,1944 965,1964 965,1922 965,1948 966,1919 966,1926 966,1924 966,1928 967,1953 967,1948 967,1961 967,1937 967,1991 968,1953 968,1956 968,1950 968,1943 968,1972 969,1941 969,1899 969,1954 969,1990 970,1940 970,1906 970,1953 970,1949 970,1934 971,1950 971,1880 971,1915 971,1943 971,1925 972,1963 972,1949 972,1968 972,1962 973,1972 973,1946 973,1920 973,1954 973,1931 974,1900 974,1992 974,1934 974,1971 974,1961 975,1965 975,1923 975,1977 975,1966 976,1948 976,1988 976,1969 976,1944 976,1920 977,1881 977,1963 977,1910 977,1961 977,1963 978,1946 978,1960 978,1951 978,1886 979,1906 979,1923 979,1954 979,1964 979,1976 980,1951 980,1934 980,1937 980,1911 980,1951 981,1943 981,1895 981,1960 981,1966 982,1981 982,1869 982,1940 982,1927 982,1977 983,1971 983,1910 983,1954 983,1945 983,1953 984,1950 984,1954 984,1973 984,1969 985,1893 985,1959 985,1973 985,1934 985,1930 986,1886 986,1905 986,1940 986,1947 986,1956 987,1976 987,1911 987,1995 987,1940 988,1943 988,1934 988,1935 988,1954 988,1934 989,1931 989,1993 989,1950 989,1939 989,1951 990,1919 990,1950 990,1895 990,1958 991,1952 991,1961 991,1909 991,1986 991,1939 992,1933 992,1927 992,1908 992,1935 992,1958 993,1963 993,1920 993,1942 993,1922 994,1941 994,1947 994,1964 994,1978 994,1920 995,1961 995,1961 995,1951 995,1924 995,1929 996,1923 996,1961 996,1959 996,1920 997,1970 997,1939 997,1965 997,1952 997,1968 998,1953 998,1913 998,1923 998,1943 998,1958 999,1944 999,1951 999,1953 999,1948 1000,1937 1000,1944 1000,1920 1000,1931 1000,1947 1001,1926 1001,1909 1001,1943 1001,1885 1001,1927 1002,1981 1002,1923 1002,1945 1002,1957 1003,1896 1003,1973 1003,1967 1003,1965 1003,1923 1004,1921 1004,2005 1004,1945 1004,1970 1004,1942 1005,2012 1005,1947 1005,1943 1005,1967 1006,1964 1006,1949 1006,1930 1006,1931 1006,1933 1007,1963 1007,1953 1007,1911 1007,1902 1007,1953 1008,1943 1008,1951 1008,1966 1008,1917 1009,1937 1009,1987 1009,1948 1009,1925 1009,1921 1010,1933 1010,1941 1010,1949 1010,1912 1010,1978 1011,1959 1011,1977 1011,1975 1011,1905 1012,1985 1012,1989 1012,1967 1012,1943 1012,1980 1013,1967 1013,1974 1013,1939 1013,1951 1013,1972 1014,1948 1014,1922 1014,1932 1014,1955 1015,1938 1015,1973 1015,1967 1015,1944 1015,1946 1016,1919 1016,1962 1016,1998 1016,1930 1016,1974 1017,1945 1017,1962 1017,1966 1017,1918 1018,1927 1018,1939 1018,1939 1018,1946 1018,1929 1019,1991 1019,1960 1019,1946 1019,1989 1019,1941 1020,1956 1020,1933 1020,1977 1020,1954 1021,1941 1021,1938 1021,1944 1021,1964 1021,1940 1022,1991 1022,1941 1022,1963 1022,1990 1022,1948 1023,1967 1023,1926 1023,1952 1023,1944 1024,1960 1024,1987 1024,1933 1024,1952 1024,1933 1025,1929 1025,1969 1025,2007 1025,1922 1025,1976 1026,1924 1026,1973 1026,1940 1026,1913 1027,1951 1027,1936 1027,1967 1027,1978 1027,1955 1028,1931 1028,1931 1028,1946 1028,1964 1028,1962 1029,1925 1029,1928 1029,1941 1029,1972 1030,1932 1030,1960 1030,1958 1030,1923 1030,1967 1031,1935 1031,1948 1031,1960 1031,1969 1031,1902 1032,1896 1032,1913 1032,1902 1032,1961 1033,1950 1033,1877 1033,1993 1033,1939 1033,1910 1034,1922 1034,1925 1034,1898 1034,1960 1034,1939 1035,1889 1035,1894 1035,1939 1035,1957 1036,1974 1036,1978 1036,1945 1036,1899 1036,1954 1037,1908 1037,1974 1037,1969 1037,1929 1037,1946 1038,1952 1038,1915 1038,1916 1038,1909 1039,1926 1039,1992 1039,1982 1039,1924 1039,1949 1040,1972 1040,1904 1040,1932 1040,1896 1040,1851 1041,1955 1041,1933 1041,1893 1041,1973 1042,1951 1042,1903 1042,1897 1042,1947 1042,1902 1043,1932 1043,1929 1043,1904 1043,2005 1043,1991 1044,1905 1044,1945 1044,1912 1044,1885 1045,1890 1045,1959 1045,1907 1045,1908 1045,1943 1046,1899 1046,1859 1046,1916 1046,1885 1046,1897 1047,1922 1047,1913 1047,1911 1047,1927 1048,1909 1048,1927 1048,1967 1048,1912 1048,1919 1049,1947 1049,1895 1049,1880 1049,1957 1049,1899 1050,1921 1050,1891 1050,1990 1050,1910 1051,1942 1051,1891 1051,1912 1051,1936 1051,1876 1052,1886 1052,1924 1052,1958 1052,1941 1052,1880 1053,1924 1053,1912 1053,1893 1053,1850 1054,1946 1054,1912 1054,1873 1054,1895 1054,1948 1055,1896 1055,1918 1055,1897 1055,1893 1055,1887 1056,1925 1056,1882 1056,1925 1056,1878 1057,1879 1057,1910 1057,1961 1057,1870 1057,1917 1058,1921 1058,1871 1058,1889 1058,1891 1058,1905 1059,1942 1059,1896 1059,1942 1059,1905 1060,1832 1060,1944 1060,1899 1060,1941 1060,1874 1061,1911 1061,1911 1061,1857 1061,1867 1061,1920 1062,1888 1062,1934 1062,1926 1062,1895 1063,1896 1063,1915 1063,1884 1063,1942 1063,1866 1064,1886 1064,1889 1064,1917 1064,1917 1064,1898 1065,1889 1065,1872 1065,1884 1065,1870 1066,1887 1066,1916 1066,1895 1066,1875 1066,1884 1067,1902 1067,1909 1067,1892 1067,1878 1067,1915 1068,1934 1068,1897 1068,1967 1068,1915 1069,1882 1069,1895 1069,1929 1069,1910 1069,1952 1070,1924 1070,1878 1070,1840 1070,1877 1070,1844 1071,1875 1071,1917 1071,1883 1071,1885 1072,1887 1072,1944 1072,1905 1072,1894 1072,1910 1073,1916 1073,1935 1073,1895 1073,1952 1073,1928 1074,1925 1074,1940 1074,1906 1074,1917 1075,1873 1075,1921 1075,1914 1075,1975 1075,1967 1076,1941 1076,1954 1076,1937 1076,1972 1076,1915 1077,1916 1077,1918 1077,1878 1077,1896 1078,1948 1078,1900 1078,1896 1078,1873 1078,1911 1079,1866 1079,1902 1079,1871 1079,1886 1079,1875 1080,1898 1080,1915 1080,1917 1080,1859 1081,1912 1081,1917 1081,1955 1081,1937 1081,1899 1082,1982 1082,1908 1082,1894 1082,1886 1082,1925 1083,1973 1083,1914 1083,1916 1083,1921 1084,1914 1084,1954 1084,1920 1084,1915 1084,1947 1085,1977 1085,1960 1085,1944 1085,1868 1085,1916 1086,1879 1086,1911 1086,1932 1086,1947 1087,1937 1087,1887 1087,1847 1087,1921 1087,1944 1088,1924 1088,1935 1088,1947 1088,1974 1088,1914 1089,1964 1089,1914 1089,1908 1089,1913 1090,1907 1090,1925 1090,1935 1090,1923 1090,1956 1091,1866 1091,1920 1091,1959 1091,1930 1091,1956 1092,1909 1092,1922 1092,1941 1092,1961 1093,1926 1093,1890 1093,1896 1093,1919 1093,1961 1094,1931 1094,1941 1094,1888 1094,1905 1094,1939 1095,1930 1095,1918 1095,1950 1095,1900 1096,1966 1096,1931 1096,1946 1096,1924 1096,1950 1097,1937 1097,1971 1097,1961 1097,1897 1097,1942 1098,1938 1098,1956 1098,1918 1098,1884 1099,1986 1099,1897 1099,1928 1099,1952 1099,1961 1100,1956 1100,1879 1100,1985 1100,1949 1100,1960 1101,1956 1101,1899 1101,1929 1101,1877 1102,1923 1102,1955 1102,1915 1102,1924 1102,1921 1103,1900 1103,1950 1103,1885 1103,1939 1103,1925 1104,1937 1104,1919 1104,1933 1104,1931 1105,1948 1105,1966 1105,1904 1105,1902 1105,1921 1106,1911 1106,1919 1106,1908 1106,1968 1106,1941 1107,1966 1107,1940 1107,1954 1107,1977 1108,1892 1108,1957 1108,1941 1108,1919 1108,1942 1109,1902 1109,1921 1109,1970 1109,1954 1109,1955 1110,1934 1110,1935 1110,1958 1110,1930 1111,1974 1111,1922 1111,1894 1111,1943 1111,1958 1112,1915 1112,1927 1112,1936 1112,1895 1112,1935 1113,1951 1113,1991 1113,1959 1113,1959 1114,1950 1114,1958 1114,1935 1114,1946 1114,1951 1115,1942 1115,1945 1115,1899 1115,1971 1115,1864 1116,1953 1116,1915 1116,1911 1116,1938 1117,1934 1117,1914 1117,1960 1117,1901 1117,1941 1118,1902 1118,1967 1118,1914 1118,1914 1118,1970 1119,1931 1119,1963 1119,1902 1119,1953 1120,1939 1120,1908 1120,1916 1120,1923 1120,1949 1121,1963 1121,1931 1121,1948 1121,1906 1121,1906 1122,1951 1122,1911 1122,1920 1122,1981 1123,1936 1123,1873 1123,1949 1123,1890 1123,1916 1124,1908 1124,1937 1124,1956 1124,1901 1124,1903 1125,1916 1125,1920 1125,1904 1125,1937 1126,1938 1126,1927 1126,1932 1126,1880 1126,1928 1127,1902 1127,1964 1127,1926 1127,1950 1128,1943 1128,1925 1128,1939 1128,1874 1128,1918 1129,1895 1129,1929 1129,1874 1129,1957 1129,1934 1130,1954 1130,1934 1130,1917 1130,1901 1131,1922 1131,1933 1131,1980 1131,1952 1131,1962 1132,1939 1132,1895 1132,1949 1132,1930 1132,1950 1133,1978 1133,1934 1133,1964 1133,1946 1134,1982 1134,2016 1134,1872 1134,1946 1134,1954 1135,1919 1135,1905 1135,1959 1135,1939 1135,1913 1136,1969 1136,1904 1136,1907 1136,1926 1137,1863 1137,1927 1137,1878 1137,1948 1137,1933 1138,1902 1138,1893 1138,1952 1138,1950 1138,1947 1139,1906 1139,1968 1139,1978 1139,1939 1140,1915 1140,1966 1140,1952 1140,1984 1140,1940 1141,1916 1141,1977 1141,1991 1141,1972 1141,1976 1142,1995 1142,1932 1142,1905 1142,1937 1143,1981 1143,1909 1143,1928 1143,1935 1143,1956 1144,1893 1144,1934 1144,1993 1144,1908 1144,1933 1145,1946 1145,1913 1145,1947 1145,1918 1146,1924 1146,1950 1146,1953 1146,1958 1146,2000 1147,1948 1147,1982 1147,1935 1147,1918 1147,1917 1148,1930 1148,1973 1148,1902 1148,1912 1149,1970 1149,1938 1149,1947 1149,1928 1149,1976 1150,1959 1150,1937 1150,1935 1150,1912 1150,1905 1151,1947 1151,1913 1151,1939 1151,1938 1152,1969 1152,1953 1152,1964 1152,1944 1152,1950 1153,1934 1153,1967 1153,1902 1153,1982 1153,1982 1154,1973 1154,1989 1154,1962 1154,1955 1155,1953 1155,1924 1155,1956 1155,1941 1155,1877 1156,1928 1156,1917 1156,1952 1156,1920 1156,1938 1157,1960 1157,1936 1157,1870 1157,1938 1158,1951 1158,1918 1158,1974 1158,1932 1158,1900 1159,1965 1159,1940 1159,1950 1159,1942 1159,1942 1160,1981 1160,1975 1160,1982 1160,1914 1161,1941 1161,1937 1161,1916 1161,1920 1161,1956 1162,1927 1162,1937 1162,1917 1162,1879 1162,1917 1163,1936 1163,1942 1163,1960 1163,1921 1164,1970 1164,1952 1164,1935 1164,1924 1164,1930 1165,1948 1165,1934 1165,1951 1165,1967 1165,1937 1166,1945 1166,1907 1166,1939 1166,1975 1167,1927 1167,1947 1167,1907 1167,1937 1167,1940 1168,1906 1168,1886 1168,1908 1168,1938 1168,1898 1169,1942 1169,1950 1169,1884 1169,1934 1170,1943 1170,1941 1170,1922 1170,1901 1170,1895 1171,1951 1171,1928 1171,1951 1171,1959 1171,1891 1172,1971 1172,1954 1172,1945 1172,1905 1173,1901 1173,1932 1173,1923 1173,1983 1173,1947 1174,1949 1174,1894 1174,1912 1174,1915 1174,1950 1175,1948 1175,1947 1175,1889 1175,1918 1176,1930 1176,1878 1176,1995 1176,1941 1176,1938 1177,1923 1177,1941 1177,1945 1177,1954 1177,1928 1178,1995 1178,1930 1178,1929 1178,1967 1179,1961 1179,1923 1179,1945 1179,1937 1179,1958 1180,1982 1180,1985 1180,1930 1180,1976 1180,1931 1181,1912 1181,1955 1181,1913 1181,2007 1182,1944 1182,1952 1182,1898 1182,1928 1182,1916 1183,1909 1183,1916 1183,1953 1183,1913 1183,1885 1184,1900 1184,1981 1184,1946 1184,1930 1185,1976 1185,1945 1185,1988 1185,1959 1185,1897 1186,1938 1186,1973 1186,1946 1186,1969 1186,1933 1187,1933 1187,1917 1187,1919 1187,1923 1188,1995 1188,1873 1188,1946 1188,1948 1188,1930 1189,1958 1189,1917 1189,1945 1189,1895 1189,1907 1190,1907 1190,1894 1190,1920 1190,1959 1191,1949 1191,1895 1191,1939 1191,1895 1191,1889 1192,1918 1192,1827 1192,1914 1192,1879 1192,1945 1193,1893 1193,1981 1193,1888 1193,1927 1194,1958 1194,1918 1194,1937 1194,1923 1194,1880 1195,1944 1195,1906 1195,1950 1195,1907 1195,1935 1196,1922 1196,1899 1196,1942 1196,1968 1197,1984 1197,1902 1197,1921 1197,1943 1197,1938 1198,1962 1198,1939 1198,1934 1198,1953 1198,1916 1199,1927 1199,1941 1199,1920 1199,1924 1200,1916 1200,1945 1200,1963 1200,1998 1200,1934 1201,1899 1201,1901 1201,1942 1201,1956 1201,1987 1202,1903 1202,1929 1202,1909 1202,1859 1203,1924 1203,1943 1203,1918 1203,1881 1203,1924 1204,1925 1204,1921 1204,1938 1204,1892 1204,1937 1205,1975 1205,1888 1205,1943 1205,1944 1206,1931 1206,1928 1206,1875 1206,1940 1206,1903 1207,1923 1207,1932 1207,1948 1207,1954 1207,1953 1208,1958 1208,1921 1208,1929 1208,1953 1209,1935 1209,1952 1209,1931 1209,1876 1209,1904 1210,1942 1210,1919 1210,1938 1210,1916 1210,1887 1211,1947 1211,1922 1211,1891 1211,1933 1212,1886 1212,1883 1212,1900 1212,1965 1212,1919 1213,1918 1213,1933 1213,1923 1213,1948 1213,1936 1214,1935 1214,1906 1214,1927 1214,1911 1215,1961 1215,1915 1215,1948 1215,1853 1215,1968 1216,1896 1216,1861 1216,1893 1216,1954 1216,1919 1217,1939 1217,1923 1217,1930 1217,1917 1218,1960 1218,1893 1218,1922 1218,1956 1218,1892 1219,1902 1219,1942 1219,1956 1219,1916 1219,1947 1220,1976 1220,1910 1220,1936 1220,1895 1221,1892 1221,1897 1221,1934 1221,1928 1221,1949 1222,1923 1222,1924 1222,1952 1222,1916 1222,1916 1223,1890 1223,1929 1223,1900 1223,1973 1224,1927 1224,1923 1224,1955 1224,1907 1224,1970 1225,1941 1225,1943 1225,1953 1225,1942 1225,1916 1226,1962 1226,1879 1226,1918 1226,1938 1227,1948 1227,1972 1227,1945 1227,1955 1227,1962 1228,1906 1228,1943 1228,1951 1228,1912 1228,1902 1229,1867 1229,1939 1229,1939 1229,1906 1230,1945 1230,1895 1230,1934 1230,1936 1230,1933 1231,1953 1231,1921 1231,1973 1231,1898 1231,1954 1232,1997 1232,1941 1232,1991 1232,1911 1233,1945 1233,2005 1233,1916 1233,1996 1233,1919 1234,1968 1234,1950 1234,1943 1234,1957 1234,1973 1235,1943 1235,1971 1235,1973 1235,1938 1236,1979 1236,1908 1236,1883 1236,1910 1236,1916 1237,1910 1237,1944 1237,1971 1237,1998 1237,1891 1238,1924 1238,1965 1238,2000 1238,1973 1239,1937 1239,1908 1239,1965 1239,1937 1239,1957 1240,1971 1240,1950 1240,1938 1240,1902 1240,2006 1241,1955 1241,1911 1241,2007 1241,1943 1242,1910 1242,1941 1242,1956 1242,1973 1242,1923 1243,1993 1243,1938 1243,1936 1243,1968 1243,1995 1244,1967 1244,1943 1244,1967 1244,1883 1245,1970 1245,1954 1245,1999 1245,2001 1245,1917 1246,1935 1246,1977 1246,1962 1246,1938 1246,1882 1247,1934 1247,1964 1247,1910 1247,1951 1248,1921 1248,1953 1248,1975 1248,1894 1248,1908 1249,1949 1249,1914 1249,1908 1249,1956 1249,1895 1250,1896 1250,1920 1250,1951 1250,1997 1251,1953 1251,1954 1251,1888 1251,1974 1251,1902 1252,1959 1252,2011 1252,1951 1252,1962 1252,1931 1253,1921 1253,1949 1253,1909 1253,1935 1254,1920 1254,1923 1254,1915 1254,1890 1254,1956 1255,1960 1255,1961 1255,1981 1255,1965 1255,1960 1256,1887 1256,1903 1256,1948 1256,1948 1257,1953 1257,1927 1257,1918 1257,1925 1257,1936 1258,1938 1258,1982 1258,1966 1258,1970 1258,1936 1259,1967 1259,1937 1259,1946 1259,1944 1260,1944 1260,1972 1260,1953 1260,1961 1260,1951 1261,1919 1261,1954 1261,1948 1261,1943 1261,1915 1262,1919 1262,1889 1262,1912 1262,1986 1263,1948 1263,1962 1263,1975 1263,1900 1263,1955 1264,1966 1264,1904 1264,1979 1264,1954 1264,1947 1265,1973 1265,1920 1265,1877 1265,1985 1266,1938 1266,1963 1266,1964 1266,1908 1266,2026 1267,1951 1267,1929 1267,1957 1267,1965 1267,1934 1268,1935 1268,1908 1268,1931 1268,1953 1269,1893 1269,1954 1269,1969 1269,1983 1269,1933 1270,1942 1270,1985 1270,1938 1270,1944 1270,1925 1271,1938 1271,1977 1271,1982 1271,1926 1272,1932 1272,1960 1272,1935 1272,1938 1272,1943 1273,2009 1273,1959 1273,1931 1273,1949 1273,1931 1274,1956 1274,1963 1274,1974 1274,1931 1275,1960 1275,1963 1275,1914 1275,1924 1275,1967 1276,1948 1276,1922 1276,1963 1276,1955 1276,1945 1277,1938 1277,1877 1277,1990 1277,1964 1278,1971 1278,1965 1278,1900 1278,2002 1278,1951 1279,1900 1279,1895 1279,1937 1279,1936 1279,1987 1280,1934 1280,1984 1280,1936 1280,1952 1281,1939 1281,1944 1281,1900 1281,1924 1281,1951 1282,1942 1282,1981 1282,1949 1282,1939 1282,1917 1283,1920 1283,1896 1283,1968 1283,1943 1284,1919 1284,1976 1284,1957 1284,1975 1284,1935 1285,1933 1285,1868 1285,1927 1285,1940 1285,1902 1286,1925 1286,1953 1286,1948 1286,1953 1287,1953 1287,1897 1287,1962 1287,1924 1287,1924 1288,1934 1288,1948 1288,1933 1288,1933 1288,1948 1289,1940 1289,1929 1289,1921 1289,1895 1290,1918 1290,1925 1290,1926 1290,1915 1290,1953 1291,1923 1291,1881 1291,1928 1291,1934 1291,1923 1292,1906 1292,1900 1292,1887 1292,1917 1293,1929 1293,1931 1293,1962 1293,1958 1293,1938 1294,1959 1294,1965 1294,1956 1294,1996 1294,1922 1295,1930 1295,1959 1295,1943 1295,1930 1296,2007 1296,1927 1296,1916 1296,1876 1296,1917 1297,1878 1297,1913 1297,1899 1297,1940 1297,1956 1298,1904 1298,1884 1298,1916 1298,1905 1299,1924 1299,1891 1299,1896 1299,1912 1299,1863 1300,1895 1300,1943 1300,1924 1300,2015 1300,1902 1301,1898 1301,1931 1301,1963 1301,1931 1302,1957 1302,1914 1302,1930 1302,1874 1302,1986 1303,1930 1303,1918 1303,1930 1303,1910 1304,1973 1304,2004 1304,1995 1304,1913 1304,1882 1305,1965 1305,1925 1305,1936 1305,1929 1305,1888 1306,1895 1306,1909 1306,1997 1306,1941 1307,1909 1307,1960 1307,1909 1307,1941 1307,1915 1308,1966 1308,1904 1308,1868 1308,1890 1308,1947 1309,1925 1309,1940 1309,1895 1309,1920 1310,1955 1310,1923 1310,1908 1310,1899 1310,1901 1311,1922 1311,1979 1311,1959 1311,1907 1311,1912 1312,1957 1312,1902 1312,1951 1312,1977 1313,1877 1313,1926 1313,1926 1313,1907 1313,1919 1314,1965 1314,1952 1314,1912 1314,1949 1314,1962 1315,1906 1315,1903 1315,1941 1315,1933 1316,1900 1316,1926 1316,1966 1316,1954 1316,1898 1317,1958 1317,1933 1317,1976 1317,1935 1317,1925 1318,1893 1318,1929 1318,1949 1318,1932 1319,1948 1319,1895 1319,1918 1319,1899 1319,1893 1320,1921 1320,1969 1320,1940 1320,1959 1320,1916 1321,1887 1321,1954 1321,1928 1321,1907 1322,1928 1322,1932 1322,1937 1322,1862 1322,1914 1323,1934 1323,1884 1323,1900 1323,1917 1323,1917 1324,1978 1324,1932 1324,1896 1324,1880 1325,1973 1325,1933 1325,1892 1325,1907 1325,1860 1326,1892 1326,1912 1326,1895 1326,1913 1326,1919 1327,1909 1327,1997 1327,1915 1327,1926 1328,1921 1328,1914 1328,1929 1328,1906 1328,1912 1329,1906 1329,1897 1329,1938 1329,1922 1329,1928 1330,1925 1330,1883 1330,1894 1330,1921 1331,1903 1331,1862 1331,1878 1331,1939 1331,1960 1332,1913 1332,1890 1332,1900 1332,1882 1332,1958 1333,1924 1333,1914 1333,1947 1333,1901 1334,1882 1334,1898 1334,1915 1334,1899 1334,1952 1335,1908 1335,1885 1335,1913 1335,1900 1335,1882 1336,1865 1336,1852 1336,1838 1336,1861 1337,1864 1337,1895 1337,1918 1337,1922 1337,1898 1338,1891 1338,1933 1338,1929 1338,1892 1338,1983 1339,1891 1339,1898 1339,1909 1339,1935 1340,1902 1340,1859 1340,1874 1340,1912 1340,1876 1341,1924 1341,1872 1341,1935 1341,1883 1341,1885 1342,1886 1342,1886 1342,1906 1342,1871 1343,1892 1343,1949 1343,1946 1343,1843 1343,1867 1344,1934 1344,1890 1344,1896 1344,1875 1344,1937 1345,1852 1345,1878 1345,1912 1345,1883 1346,1895 1346,1907 1346,1873 1346,1898 1346,1899 1347,1919 1347,1899 1347,1864 1347,1894 1347,1833 1348,1829 1348,1907 1348,1865 1348,1887 1349,1855 1349,1858 1349,1883 1349,1904 1349,1934 1350,1913 1350,1909 1350,1866 1350,1908 1350,1917 1351,1922 1351,1890 1351,1926 1351,1956 1352,1909 1352,1912 1352,1889 1352,1913 1352,1853 1353,1882 1353,1922 1353,1900 1353,1962 1353,1870 1354,1884 1354,1920 1354,1933 1354,1915 1355,1935 1355,1845 1355,1904 1355,1864 1355,1884 1356,1904 1356,1903 1356,1862 1356,1898 1356,1893 1357,1834 1357,1886 1357,1944 1357,1901 1358,1921 1358,1895 1358,1901 1358,1892 1358,1928 1359,1877 1359,1882 1359,1883 1359,1858 1359,1867 1360,1849 1360,1832 1360,1885 1360,1866 1361,1880 1361,1866 1361,1905 1361,1892 1361,1920 1362,1940 1362,1913 1362,1934 1362,1914 1362,1918 1363,1898 1363,1929 1363,1912 1363,1929 1364,1933 1364,1886 1364,1892 1364,1948 1364,1895 1365,1911 1365,1889 1365,1895 1365,1896 1365,1899 1366,1929 1366,1903 1366,1932 1366,1948 1367,1912 1367,1895 1367,1924 1367,1934 1367,1931 1368,1915 1368,1895 1368,1867 1368,1853 1368,1862 1369,1904 1369,1857 1369,1888 1369,1885 1370,1837 1370,1868 1370,1912 1370,1876 1370,1924 1371,1826 1371,1923 1371,1901 1371,1911 1371,1898 1372,1860 1372,1908 1372,1887 1372,1906 1373,1884 1373,1877 1373,1902 1373,1868 1373,1930 1374,1880 1374,1910 1374,1922 1374,1947 1374,1883 1375,1900 1375,1921 1375,1882 1375,1899 1376,1828 1376,1933 1376,1955 1376,1881 1376,1896 1377,1920 1377,1882 1377,1890 1377,1924 1377,1904 1378,1922 1378,1913 1378,1880 1378,1945 1379,1879 1379,1887 1379,1914 1379,1920 1379,1895 1380,1940 1380,1904 1380,1908 1380,1925 1380,1903 1381,1916 1381,1904 1381,1884 1381,1944 1382,1893 1382,1925 1382,1942 1382,1952 1382,1935 1383,1972 1383,1926 1383,1904 1383,1918 1383,1894 1384,1929 1384,1969 1384,1950 1384,1921 1385,1902 1385,1892 1385,1916 1385,1922 1385,1938 1386,1943 1386,1907 1386,1944 1386,1890 1386,1843 1387,1889 1387,1850 1387,1898 1387,1901 1388,1896 1388,1940 1388,1897 1388,1887 1388,1895 1389,1891 1389,1961 1389,1944 1389,1923 1389,1911 1390,1930 1390,1912 1390,1899 1390,1938 1391,1917 1391,1955 1391,1902 1391,1872 1391,1935 1392,1922 1392,1998 1392,1926 1392,1934 1392,1951 1393,1953 1393,1928 1393,1906 1393,1861 1394,1983 1394,1891 1394,1969 1394,1943 1394,1964 1395,1873 1395,1929 1395,1924 1395,1951 1395,1947 1396,1953 1396,1957 1396,1930 1396,1960 1397,1899 1397,1907 1397,1916 1397,1895 1397,1953 1398,1895 1398,1911 1398,1925 1398,1954 1398,1917 1399,1947 1399,1914 1399,1966 1399,1943 1400,1880 1400,1902 1400,1947 1400,1934 1400,1909 1401,1972 1401,1897 1401,1913 1401,1922 1401,1937 1402,1913 1402,1976 1402,1969 1402,1900 1403,1941 1403,1930 1403,1925 1403,1966 1403,1893 1404,1899 1404,1940 1404,1978 1404,1858 1404,1898 1405,1938 1405,1916 1405,1877 1405,1840 1406,1941 1406,1934 1406,1908 1406,1908 1406,1923 1407,1961 1407,1932 1407,1909 1407,1906 1407,1953 1408,1917 1408,1936 1408,1926 1408,1947 1409,1934 1409,1932 1409,1938 1409,1991 1409,1965 1410,1945 1410,1947 1410,1908 1410,1941 1410,1857 1411,1932 1411,1949 1411,1924 1411,1972 1412,1958 1412,1962 1412,1882 1412,1924 1412,1954 1413,1904 1413,1908 1413,1947 1413,1909 1413,1941 1414,1915 1414,1969 1414,1918 1414,1948 1415,1960 1415,1957 1415,1910 1415,1910 1415,1903 1416,1912 1416,1963 1416,1953 1416,1935 1416,1939 1417,1935 1417,1894 1417,1922 1417,1972 1418,1930 1418,1929 1418,1959 1418,1920 1418,1927 1419,1962 1419,1968 1419,1911 1419,1945 1419,1955 1420,1907 1420,1989 1420,1959 1420,1952 1421,1910 1421,1919 1421,1952 1421,1949 1421,1916 1422,1958 1422,1967 1422,1946 1422,1918 1422,1933 1423,1897 1423,1924 1423,1931 1423,1885 1424,1893 1424,1945 1424,1929 1424,1955 1424,1882 1425,1908 1425,1944 1425,1887 1425,1924 1425,1928 1426,1910 1426,1935 1426,1870 1426,1895 1427,1913 1427,1937 1427,1929 1427,1940 1427,1932 1428,1855 1428,1951 1428,1906 1428,1908 1428,1895 1429,1907 1429,1943 1429,1914 1429,1954 1430,1922 1430,1878 1430,1926 1430,1916 1430,1947 1431,1910 1431,1929 1431,1890 1431,1857 1431,1915 1432,1885 1432,1879 1432,1858 1432,1923 1433,1905 1433,1860 1433,1884 1433,1896 1433,1904 1434,1865 1434,1928 1434,1938 1434,1943 1434,1922 1435,1929 1435,1903 1435,1951 1435,1961 1436,1951 1436,1936 1436,1903 1436,1929 1436,1906 1437,1947 1437,1960 1437,1905 1437,1926 1437,1943 1438,1901 1438,1949 1438,1876 1438,1967 1439,1900 1439,1871 1439,1896 1439,1922 1439,1880 1440,1912 1440,1886 1440,1948 1440,1936 1440,1939 1441,1921 1441,1923 1441,1912 1441,1934 1442,1913 1442,1894 1442,1893 1442,1933 1442,1903 1443,1910 1443,1908 1443,1928 1443,1887 1443,1907 1444,1926 1444,1924 1444,1999 1444,1936 1445,1888 1445,1927 1445,1883 1445,1906 1445,1839 1446,1935 1446,1949 1446,1894 1446,1897 1446,1877 1447,1857 1447,1884 1447,1900 1447,1879 1448,1888 1448,1821 1448,1884 1448,1930 1448,1853 1449,1906 1449,1933 1449,1866 1449,1918 1449,1885 1450,1897 1450,1929 1450,1910 1450,1874 1451,1884 1451,1860 1451,1909 1451,1865 1451,1892 1452,1938 1452,1909 1452,1854 1452,1859 1452,1896 1453,1862 1453,1937 1453,1882 1453,1855 1454,1820 1454,1870 1454,1891 1454,1843 1454,1876 1455,1854 1455,1881 1455,1853 1455,1913 1455,1922 1456,1874 1456,1878 1456,1861 1456,1851 1457,1855 1457,1898 1457,1847 1457,1889 1457,1948 1458,1885 1458,1854 1458,1859 1458,1847 1458,1845 1459,1882 1459,1933 1459,1880 1459,1880 1460,1896 1460,1898 1460,1927 1460,1913 1460,1850 1461,1881 1461,1811 1461,1850 1461,1845 1461,1828 1462,1857 1462,1905 1462,1875 1462,1931 1463,1908 1463,1870 1463,1840 1463,1912 1463,1821 1464,1883 1464,1854 1464,1904 1464,1794 1464,1875 1465,1880 1465,1898 1465,1878 1465,1894 1466,1825 1466,1840 1466,1859 1466,1883 1466,1823 1467,1856 1467,1868 1467,1854 1467,1864 1467,1868 1468,1805 1468,1866 1468,1850 1468,1844 1469,1826 1469,1853 1469,1829 1469,1806 1469,1829 1470,1808 1470,1867 1470,1845 1470,1792 1470,1844 1471,1830 1471,1876 1471,1850 1471,1879 1472,1886 1472,1913 1472,1888 1472,1851 1472,1843 1473,1903 1473,1876 1473,1840 1473,1853 1473,1905 1474,1867 1474,1893 1474,1829 1474,1840 1475,1874 1475,1864 1475,1832 1475,1871 1475,1879 1476,1890 1476,1828 1476,1816 1476,1853 1477,1850 1477,1807 1477,1894 1477,1887 1477,1878 1478,1869 1478,1868 1478,1869 1478,1842 1478,1874 1479,1823 1479,1895 1479,1877 1479,1938 1480,1867 1480,1838 1480,1860 1480,1847 1480,1847 1481,1820 1481,1868 1481,1882 1481,1860 1481,1872 1482,1801 1482,1866 1482,1800"/>
<polyline fill="none" stroke="none" marker-start="url(#morange)" marker-mid="url(#morange)" marker-end="url(#morange)" points="1484,2037 1484,2022 1484,1977 1484,1981 1484,2037 1485,1927 1485,1986 1485,2049 1485,2029 1485,1970 1486,2025 1486,2038 1486,1980 1486,1995 1487,1972 1487,1996 1487,1988 1487,1985 1487,2005 1488,1941 1488,1998 1488,1980 1488,2016 1488,1930 1489,1963 1489,2010 1489,1988 1489,1953 1490,2046 1490,2058 1490,1969 1490,1982 1490,2013 1491,1973 1491,2035 1491,1983 1491,1930 1491,1980 1492,2012 1492,1992 1492,1975 1492,2006 1493,1969 1493,2018 1493,2014 1493,2003 1493,2036 1494,1942 1494,1984 1494,1941 1494,1989 1494,1959 1495,2046 1495,2000 1495,1985 1495,1986 1496,2009 1496,2060 1496,1968 1496,1991 1496,1979 1497,1989 1497,1989 1497,2012 1497,1967 1497,2047 1498,2015 1498,2039 1498,2039 1498,2043 1499,2021 1499,1994 1499,2011 1499,2004 1499,1970 1500,1985 1500,1993 1500,2000 1500,2022 1500,1973 1501,2045 1501,1961 1501,1977 1501,2004 1502,1975 1502,1953 1502,2030 1502,2002 1502,2042 1503,2035 1503,1978 1503,1936 1503,1961 1503,1954 1504,2049 1504,1976 1504,2020 1504,1998 1505,1975 1505,2071 1505,2000 1505,2014 1505,2066 1506,2035 1506,2004 1506,2035 1506,1975 1506,2105 1507,2021 1507,2015 1507,1986 1507,1989 1508,2068 1508,2017 1508,1975 1508,2080 1508,1985 1509,2058 1509,2046 1509,2021 1509,1985 1509,1951 1510,2001 1510,2045 1510,2019 1510,2003 1511,1972 1511,1964 1511,1975 1511,2028 1511,1967 1512,2009 1512,2020 1512,2041 1512,2030 1512,1980 1513,2035 1513,1947 1513,1934 1513,1976 1514,2048 1514,2024 1514,1978 1514,1978 1514,1988 1515,1973 1515,2017 1515,1966 1515,1961 1515,2002 1516,2035 1516,2029 1516,1949 1516,2004 1517,2000 1517,2019 1517,2056 1517,1957 1517,1981 1518,1971 1518,2055 1518,1970 1518,1957 1518,1981 1519,2032 1519,2007 1519,1939 1519,1999 1520,1998 1520,2013 1520,1941 1520,1975 1520,1978 1521,2032 1521,2020 1521,2005 1521,2031 1521,1989 1522,2024 1522,1973 1522,1993 1522,2009 1523,2009 1523,2036 1523,1948 1523,2007 1523,1968 1524,1989 1524,1967 1524,2012 1524,2026 1524,1953 1525,1951 1525,1981 1525,2076 1525,1989 1526,1961 1526,1959 1526,1964 1526,1953 1526,1982 1527,1996 1527,1997 1527,2025 1527,2029 1527,2022 1528,2025 1528,2040 1528,1979 1528,2013 1529,2047 1529,2018 1529,2015 1529,2063 1529,2016 1530,2046 1530,2056 1530,1975 1530,1970 1530,2010 1531,2006 1531,2005 1531,2037 1531,1996 1532,2033 1532,2075 1532,2018 1532,2011 1532,2015 1533,2047 1533,2037 1533,2076 1533,2069 1533,1984 1534,2005 1534,1990 1534,2046 1534,1992 1535,1989 1535,1946 1535,2045 1535,2026 1535,2027 1536,1960 1536,2047 1536,1974 1536,2001 1536,2019 1537,1994 1537,2048 1537,2028 1537,2027 1538,2066 1538,2064 1538,2017 1538,2012 1538,1969 1539,2038 1539,2016 1539,2027 1539,2024 1539,1980 1540,2008 1540,1977 1540,1981 1540,1978 1541,1960 1541,2016 1541,2002 1541,2008 1541,1975 1542,2062 1542,1997 1542,2075 1542,1965 1542,1997 1543,2006 1543,2071 1543,1987 1543,1948 1544,2047 1544,2021 1544,2018 1544,2017 1544,2038 1545,2018 1545,2091 1545,2049 1545,2065 1545,2011 1546,1999 1546,2015 1546,1975 1546,1999 1547,2012 1547,2024 1547,2004 1547,2005 1547,2038 1548,1981 1548,2019 1548,2000 1548,2001 1548,1993 1549,1993 1549,2016 1549,2009 1549,1992 1550,2020 1550,2050 1550,2049 1550,2030 1550,1963 1551,2055 1551,1942 1551,2002 1551,2043 1551,2021 1552,2029 1552,1965 1552,2019 1552,1987 1553,2039 1553,2043 1553,2023 1553,2002 1553,2014 1554,1999 1554,2059 1554,2009 1554,1996 1554,2029 1555,1978 1555,1967 1555,2028 1555,2046 1556,1993 1556,2027 1556,2007 1556,2013 1556,1939 1557,1995 1557,1959 1557,1978 1557,1964 1557,2039 1558,1998 1558,1961 1558,2045 1558,2022 1559,2004 1559,2058 1559,2086 1559,2022 1559,2002 1560,2001 1560,1978 1560,2017 1560,2021 1560,1953 1561,2014 1561,1994 1561,2033 1561,1987 1562,2060 1562,1999 1562,2016 1562,2042 1562,2027 1563,2001 1563,2032 1563,2003 1563,2038 1563,1964 1564,1993 1564,1996 1564,1990 1564,1978 1565,2053 1565,2044 1565,1978 1565,2031 1565,2036 1566,1981 1566,1996 1566,2001 1566,1986 1566,1961 1567,2060 1567,2059 1567,1997 1567,2041 1568,1968 1568,1970 1568,2000 1568,2004 1568,2038 1569,2054 1569,1947 1569,1938 1569,2031 1569,2002 1570,1997 1570,1989 1570,2003 1570,1956 1571,2033 1571,1981 1571,1984 1571,1983 1571,1996 1572,2021 1572,2019 1572,2052 1572,1958 1572,2028 1573,2060 1573,1967 1573,2037 1573,1989 1574,2028 1574,1991 1574,1999 1574,1950 1574,1948 1575,1951 1575,1979 1575,2004 1575,1947 1575,1986 1576,1952 1576,1912 1576,1985 1576,1945 1577,1936 1577,2034 1577,2027 1577,2010 1577,2052 1578,2025 1578,2066 1578,1936 1578,2016 1578,1976 1579,1913 1579,2008 1579,1986 1579,2011 1580,2003 1580,2005 1580,1956 1580,1990 1580,1988 1581,1998 1581,1983 1581,1996 1581,2012 1581,1959 1582,1988 1582,1996 1582,1982 1582,1964 1583,1924 1583,2040 1583,1997 1583,1990 1583,1993 1584,1978 1584,1986 1584,1979 1584,1985 1584,1968 1585,1969 1585,1934 1585,1967 1585,1946 1586,2011 1586,2003 1586,2051 1586,2001 1586,2001 1587,1958 1587,1960 1587,2010 1587,1927 1587,1982 1588,1989 1588,1921 1588,1970 1588,1947 1589,1955 1589,2009 1589,1916 1589,2003 1589,1984 1590,1982 1590,2016 1590,1945 1590,2028 1590,1984 1591,1960 1591,1940 1591,1969 1591,1972 1592,1919 1592,1942 1592,1917 1592,1942 1592,1977 1593,1967 1593,2004 1593,1992 1593,1935 1593,2036 1594,2002 1594,1947 1594,2014 1594,1919 1595,1926 1595,1966 1595,1982 1595,1998 1595,2073 1596,1987 1596,1971 1596,1960 1596,1975 1596,1934 1597,1976 1597,1989 1597,1969 1597,2010 1598,1995 1598,2011 1598,2002 1598,1956 1598,1939 1599,1983 1599,1977 1599,1992 1599,1913 1599,1998 1600,2019 1600,2012 1600,1941 1600,1968 1601,2009 1601,1952 1601,1979 1601,1983 1601,1997 1602,1994 1602,1931 1602,1949 1602,1934 1602,1946 1603,1958 1603,1997 1603,1958 1603,1852 1604,1900 1604,1983 1604,1953 1604,1933 1604,2015 1605,1974 1605,1970 1605,1956 1605,2049 1605,1950 1606,1952 1606,1954 1606,1944 1606,1956 1607,1993 1607,1976 1607,1993 1607,1973 1607,2050 1608,2009 1608,1994 1608,1961 1608,1948 1608,1994 1609,2017 1609,1966 1609,1992 1609,1954 1610,1945 1610,2014 1610,1972 1610,2009 1610,1991 1611,2024 1611,1953 1611,1995 1611,2002 1611,2023 1612,1986 1612,1920 1612,1957 1612,1989 1613,2011 1613,1993 1613,1980 1613,2011 1613,1963 1614,1918 1614,1935 1614,2008 1614,1944 1614,2029 1615,1963 1615,1979 1615,1963 1615,1975 1616,1989 1616,1903 1616,1929 1616,1957 1616,1968 1617,2039 1617,2007 1617,1933 1617,2045 1617,2054 1618,2040 1618,1947 1618,2069 1618,2003 1619,1928 1619,1969 1619,1999 1619,1994 1619,2024 1620,1914 1620,2025 1620,1961 1620,1986 1620,2017 1621,2046 1621,2004 1621,1977 1621,1988 1622,1914 1622,1831 1622,1959 1622,1974 1622,1994 1623,1965 1623,1989 1623,1960 1623,1943 1623,1885 1624,1939 1624,1972 1624,1902 1624,1980 1625,1923 1625,1979 1625,1950 1625,1968 1625,2013 1626,2016 1626,2031 1626,1986 1626,1985 1626,1969 1627,2048 1627,2005 1627,1991 1627,2026 1628,1965 1628,2025 1628,1995 1628,2049 1628,1969 1629,2018 1629,2023 1629,2007 1629,1970 1629,2028 1630,2028 1630,2052 1630,1973 1630,2015 1631,2014 1631,1964 1631,1962 1631,1927 1631,2000 1632,1980 1632,2002 1632,1986 1632,1977 1632,1999 1633,1994 1633,1991 1633,1955 1633,1946 1634,2013 1634,2019 1634,1979 1634,1982 1634,2020 1635,1948 1635,1997 1635,1957 1635,1948 1635,2059 1636,2019 1636,2030 1636,1975 1636,2043 1637,1961 1637,2018 1637,2015 1637,2003 1637,1985 1638,1952 1638,1972 1638,1974 1638,2032 1638,2022 1639,2025 1639,1951 1639,2025 1639,1985 1640,1994 1640,1958 1640,2013 1640,2023 1640,1934 1641,1963 1641,2026 1641,1933 1641,2022 1641,1930 1642,1950 1642,1958 1642,1967 1642,1997 1643,1987 1643,1986 1643,1978 1643,1994 1643,2049 1644,1979 1644,2012 1644,1984 1644,1951 1644,1969 1645,1936 1645,1964 1645,1986 1645,1942 1646,2047 1646,1971 1646,2047 1646,2041 1646,2030 1647,1988 1647,1914 1647,1959 1647,2011 1647,1991 1648,2019 1648,2059 1648,1991 1648,1967 1649,2014 1649,1968 1649,2023 1649,1931 1649,1953 1650,2032 1650,1967 1650,1973 1650,2005 1650,1953 1651,2020 1651,1997 1651,1996 1651,1976 1652,1996 1652,1995 1652,2015 1652,2049 1652,2035 1653,1999 1653,2012 1653,2042 1653,2000 1653,1939 1654,2018 1654,1988 1654,2027 1654,1976 1655,2015 1655,1935 1655,1950 1655,2007 1655,1968 1656,1957 1656,1986 1656,2007 1656,1960 1656,1930 1657,2028 1657,1966 1657,1969 1657,1907 1658,1992 1658,1987 1658,1936 1658,2042 1658,1999 1659,1994 1659,2036 1659,1923 1659,1963 1660,1929 1660,1974 1660,2007 1660,1961 1660,1991 1661,1975 1661,1940 1661,1913 1661,1976 1661,2020 1662,1968 1662,2002 1662,2009 1662,1947 1663,1966 1663,2021 1663,1959 1663,1980 1663,1979 1664,1984 1664,1931 1664,1967 1664,2007 1664,1932 1665,2021 1665,1979 1665,1964 1665,1940 1666,2003 1666,1992 1666,1955 1666,1965 1666,2035 1667,1994 1667,2029 1667,2024 1667,1978 1667,2008 1668,1967 1668,2007 1668,1995 1668,2023 1669,1978 1669,1982 1669,1954 1669,1994 1669,2004 1670,1973 1670,1986 1670,2029 1670,1936 1670,1972 1671,1980 1671,1948 1671,1977 1671,1980 1672,1986 1672,1957 1672,1933 1672,1989 1672,2042 1673,1968 1673,2035 1673,1985 1673,2004 1673,2052 1674,1976 1674,2046 1674,1957 1674,1988 1675,2020 1675,1977 1675,1930 1675,1929 1675,1971 1676,1907 1676,1992 1676,2008 1676,1977 1676,1953 1677,1973 1677,1980 1677,1944 1677,1996 1678,1906 1678,1917 1678,1993 1678,2013 1678,1976 1679,1991 1679,2020 1679,1991 1679,1984 1679,2002 1680,2023 1680,2018 1680,2005 1680,2006 1681,1979 1681,2000 1681,1990 1681,1974 1681,1958 1682,1919 1682,1969 1682,2000 1682,2003 1682,2041 1683,1957 1683,1962 1683,1998 1683,1945 1684,1945 1684,1972 1684,2028 1684,1975 1684,1974 1685,1981 1685,1991 1685,2041 1685,1968 1685,2016 1686,2051 1686,1968 1686,2016 1686,2007 1687,2017 1687,1964 1687,2016 1687,1930 1687,1959 1688,1981 1688,1944 1688,2029 1688,1979 1688,1985 1689,1969 1689,1963 1689,1969 1689,1953 1690,1979 1690,2035 1690,2040 1690,2007 1690,2040 1691,1941 1691,1933 1691,1947 1691,1940 1691,1993 1692,2029 1692,2020 1692,1994 1692,1987 1693,1966 1693,1985 1693,2003 1693,2032 1693,1939 1694,1937 1694,1995 1694,1946 1694,1976 1694,2033 1695,1970 1695,1972 1695,1919 1695,1908 1696,1979 1696,1974 1696,1928 1696,2013 1696,2027 1697,2014 1697,1925 1697,1921 1697,1961 1697,1985 1698,2010 1698,1999 1698,1976 1698,1952 1699,1980 1699,2041 1699,1970 1699,1940 1699,1963 1700,2008 1700,1993 1700,1957 1700,1985 1700,2028 1701,1958 1701,2006 1701,1955 1701,1948 1702,2007 1702,1952 1702,1985 1702,1985 1702,1940 1703,2015 1703,1948 1703,1985 1703,1979 1703,1972 1704,1971 1704,1937 1704,1944 1704,1947 1705,1972 1705,1919 1705,1983 1705,1966 1705,1939 1706,1946 1706,1998 1706,1955 1706,1932 1706,1976 1707,1990 1707,1938 1707,1940 1707,1952 1708,1968 1708,1925 1708,2013 1708,1935 1708,1955 1709,1987 1709,1989 1709,2000 1709,1952 1709,1978 1710,2010 1710,1973 1710,2041 1710,1973 1711,1964 1711,1985 1711,2024 1711,1961 1711,1949 1712,1990 1712,1987 1712,1996 1712,1967 1712,1965 1713,1955 1713,1992 1713,2001 1713,1955 1714,1979 1714,2017 1714,2004 1714,1963 1714,2000 1715,1973 1715,2019 1715,1972 1715,1991 1715,1969 1716,1962 1716,1927 1716,1949 1716,1993 1717,1943 1717,1997 1717,1976 1717,1967 1717,1960 1718,1954 1718,2014 1718,1973 1718,1959 1718,1978 1719,1957 1719,1996 1719,2019 1719,1981 1720,1992 1720,2018 1720,1981 1720,1937 1720,1983 1721,1973 1721,1966 1721,1961 1721,1974 1721,1974 1722,2019 1722,2017 1722,1973 1722,1970 1723,2011 1723,1938 1723,1987 1723,2031 1723,1998 1724,2008 1724,1954 1724,1916 1724,1975 1724,1931 1725,1911 1725,1971 1725,1944 1725,1938 1726,1952 1726,2007 1726,1989 1726,1976 1726,1950 1727,2038 1727,1998 1727,2001 1727,1931 1727,1996 1728,2001 1728,1964 1728,1945 1728,1983 1729,1967 1729,1965 1729,1936 1729,1970 1729,1950 1730,2002 1730,2005 1730,1906 1730,1996 1730,1958 1731,1979 1731,1964 1731,2046 1731,1971 1732,1976 1732,1957 1732,1986 1732,2010 1732,1942 1733,1986 1733,1955 1733,1909 1733,1947 1733,1930 1734,1927 1734,1968 1734,1991 1734,1981 1735,1958 1735,1943 1735,2018 1735,1921 1735,1953 1736,1882 1736,1953 1736,1966 1736,1998 1736,1903 1737,1950 1737,1941 1737,1959 1737,1973 1738,1964 1738,2028 1738,1937 1738,1979 1738,2002 1739,1941 1739,1893 1739,2019 1739,2019 1739,2036 1740,1996 1740,1984 1740,1979 1740,1990 1741,1981 1741,1968 1741,1959 1741,1970 1741,1987 1742,1989 1742,2015 1742,1974 1742,1958 1742,1938 1743,2010 1743,1985 1743,1961 1743,1999 1744,1966 1744,1986 1744,1987 1744,1938 1744,1976 1510,2106 1604,2102 1665,2110 1666,2097 1665,2119 1698,2122"/>
<line x1="309" y1="1931.6" x2="2134" y2="1931.6" stroke="#000" stroke-width="3.4" stroke-dasharray="13 3.5"/>
<rect x="436.5" y="1368.5" width="6" height="10" fill="#808080"/>
<rect x="436.5" y="2324.0" width="6" height="10" fill="#808080"/>
<rect x="567.0" y="1359.5" width="6" height="19" fill="#808080"/>
<rect x="567.0" y="2324.0" width="6" height="19" fill="#808080"/>
<rect x="697.5" y="1368.5" width="6" height="10" fill="#808080"/>
<rect x="697.5" y="2324.0" width="6" height="10" fill="#808080"/>
<rect x="828.0" y="1359.5" width="6" height="19" fill="#808080"/>
<rect x="828.0" y="2324.0" width="6" height="19" fill="#808080"/>
<rect x="958.5" y="1368.5" width="6" height="10" fill="#808080"/>
<rect x="958.5" y="2324.0" width="6" height="10" fill="#808080"/>
<rect x="1089.0" y="1359.5" width="6" height="19" fill="#808080"/>
<rect x="1089.0" y="2324.0" width="6" height="19" fill="#808080"/>
<rect x="1219.0" y="1368.5" width="2.7" height="10" fill="#c2c2c2"/>
<rect x="1221.7" y="1368.5" width="3.7" height="10" fill="#383838"/>
<rect x="1219.0" y="2324.0" width="2.7" height="10" fill="#c2c2c2"/>
<rect x="1221.7" y="2324.0" width="3.7" height="10" fill="#383838"/>
<rect x="1349.5" y="1359.5" width="2.7" height="19" fill="#c2c2c2"/>
<rect x="1352.2" y="1359.5" width="3.7" height="19" fill="#383838"/>
<rect x="1349.5" y="2324.0" width="2.7" height="19" fill="#c2c2c2"/>
<rect x="1352.2" y="2324.0" width="3.7" height="19" fill="#383838"/>
<rect x="1480.0" y="1368.5" width="2.7" height="10" fill="#c2c2c2"/>
<rect x="1482.7" y="1368.5" width="3.7" height="10" fill="#383838"/>
<rect x="1480.0" y="2324.0" width="2.7" height="10" fill="#c2c2c2"/>
<rect x="1482.7" y="2324.0" width="3.7" height="10" fill="#383838"/>
<rect x="1610.5" y="1359.5" width="2.7" height="19" fill="#c2c2c2"/>
<rect x="1613.2" y="1359.5" width="3.7" height="19" fill="#383838"/>
<rect x="1610.5" y="2324.0" width="2.7" height="19" fill="#c2c2c2"/>
<rect x="1613.2" y="2324.0" width="3.7" height="19" fill="#383838"/>
<rect x="1741.0" y="1368.5" width="2.7" height="10" fill="#c2c2c2"/>
<rect x="1743.7" y="1368.5" width="3.7" height="10" fill="#383838"/>
<rect x="1741.0" y="2324.0" width="2.7" height="10" fill="#c2c2c2"/>
<rect x="1743.7" y="2324.0" width="3.7" height="10" fill="#383838"/>
<rect x="1871.5" y="1359.5" width="2.7" height="19" fill="#c2c2c2"/>
<rect x="1874.2" y="1359.5" width="3.7" height="19" fill="#383838"/>
<rect x="1871.5" y="2324.0" width="2.7" height="19" fill="#c2c2c2"/>
<rect x="1874.2" y="2324.0" width="3.7" height="19" fill="#383838"/>
<rect x="2002.0" y="1368.5" width="2.7" height="10" fill="#c2c2c2"/>
<rect x="2004.7" y="1368.5" width="3.7" height="10" fill="#383838"/>
<rect x="2002.0" y="2324.0" width="2.7" height="10" fill="#c2c2c2"/>
<rect x="2004.7" y="2324.0" width="3.7" height="10" fill="#383838"/>
<rect x="273.4" y="1611.7" width="33" height="3.1" fill="#c2c2c2"/>
<rect x="273.4" y="1614.8" width="33" height="3.1" fill="#7a7a7a"/>
<rect x="2138.7" y="1611.7" width="34.5" height="3.1" fill="#c2c2c2"/>
<rect x="2138.7" y="1614.8" width="34.5" height="3.1" fill="#7a7a7a"/>
<rect x="273.4" y="1849.7" width="33" height="2.7" fill="#353535"/>
<rect x="2138.7" y="1849.7" width="34.5" height="2.7" fill="#353535"/>
<rect x="273.4" y="2084.4" width="33" height="3.1" fill="#c2c2c2"/>
<rect x="273.4" y="2087.5" width="33" height="3.1" fill="#7a7a7a"/>
<rect x="2138.7" y="2084.4" width="34.5" height="3.1" fill="#c2c2c2"/>
<rect x="2138.7" y="2087.5" width="34.5" height="3.1" fill="#7a7a7a"/>
<rect x="306.1" y="1359.5" width="6.1" height="984" fill="#808080"/>
<rect x="2132.4" y="1359.5" width="2.8" height="984" fill="#c0c0c0"/>
<rect x="2135.2" y="1359.5" width="3.5" height="984" fill="#383838"/>
<rect x="273.4" y="1376.8" width="1899.6" height="3.3" fill="#383838"/>
<rect x="273.4" y="2322.7" width="1899.6" height="3.0" fill="#383838"/>
<text x="251.8" y="1423.7" font-size="57.5" text-anchor="end">1.0</text>
<text x="251.8" y="1640.8" font-size="57.5" text-anchor="end">0.5</text>
<text x="251.8" y="1877.3" font-size="57.5" text-anchor="end">0.0</text>
<text x="251.8" y="2113.0" font-size="57.5" text-anchor="end">-0.5</text>
<text x="251.8" y="2323.8" font-size="57.5" text-anchor="end">-1.0</text>
<text x="309.0" y="2439.5" font-size="57.5" text-anchor="middle">2002</text>
<text x="570.0" y="2439.5" font-size="57.5" text-anchor="middle">2004</text>
<text x="831.0" y="2439.5" font-size="57.5" text-anchor="middle">2006</text>
<text x="1092.0" y="2439.5" font-size="57.5" text-anchor="middle">2008</text>
<text x="1353.0" y="2439.5" font-size="57.5" text-anchor="middle">2010</text>
<text x="1614.0" y="2439.5" font-size="57.5" text-anchor="middle">2012</text>
<text x="1875.0" y="2439.5" font-size="57.5" text-anchor="middle">2014</text>
<text x="2136.0" y="2439.5" font-size="57.5" text-anchor="middle">2016</text>
<text x="1222.3" y="2524.0" font-size="58" text-anchor="middle">Year</text>
<text x="343.5" y="1429.8" font-size="48.8">PathFinder V5.2, AVHRR GAC, Night Time, outlier retained</text>
<text x="368" y="1492.7" font-size="40" fill="#00c8ff" textLength="152" lengthAdjust="spacingAndGlyphs">NOAA17</text>
<text x="577.5" y="1492.7" font-size="40" fill="#ff0000" textLength="152" lengthAdjust="spacingAndGlyphs">NOAA18</text>
<text x="787.5" y="1492.7" font-size="40" fill="#ff9900" textLength="152" lengthAdjust="spacingAndGlyphs">NOAA19</text>
<text transform="translate(90.7,2274.7) rotate(-90)" font-size="59" textLength="475.9" lengthAdjust="spacingAndGlyphs" xml:space="preserve">Mean,  PathFinder</text>
<text transform="translate(90.7,1785.6) rotate(-90)" font-size="59" xml:space="preserve">-</text>
<text transform="translate(90.7,1751.3) rotate(-90)" font-size="59" textLength="174.1" lengthAdjust="spacingAndGlyphs" xml:space="preserve">(Drifter</text>
<text transform="translate(96.2,1574.9) rotate(-90)" font-size="72" xml:space="preserve">+</text>
<text transform="translate(90.7,1530.3) rotate(-90)" font-size="59" textLength="98.9" lengthAdjust="spacingAndGlyphs" xml:space="preserve">TM)</text>
<text x="1078.5" y="1309.5" font-size="88" style="font-family:'Liberation Serif','Times New Roman',serif" stroke="#fff" stroke-width="1.6">(</text>
<text x="1128.6" y="1309.5" font-size="87" font-weight="bold" text-anchor="middle" style="font-family:'Liberation Serif','Times New Roman',serif">a</text>
<text x="1177.5" y="1309.5" font-size="88" text-anchor="end" style="font-family:'Liberation Serif','Times New Roman',serif" stroke="#fff" stroke-width="1.6">)</text>
<text x="1074.2" y="2625.6" font-size="88" style="font-family:'Liberation Serif','Times New Roman',serif" stroke="#fff" stroke-width="1.6">(</text>
<text x="1127.5" y="2625.6" font-size="87" font-weight="bold" text-anchor="middle" style="font-family:'Liberation Serif','Times New Roman',serif">b</text>
<text x="1180.3" y="2625.6" font-size="88" text-anchor="end" style="font-family:'Liberation Serif','Times New Roman',serif" stroke="#fff" stroke-width="1.6">)</text>
</svg></body></html>
